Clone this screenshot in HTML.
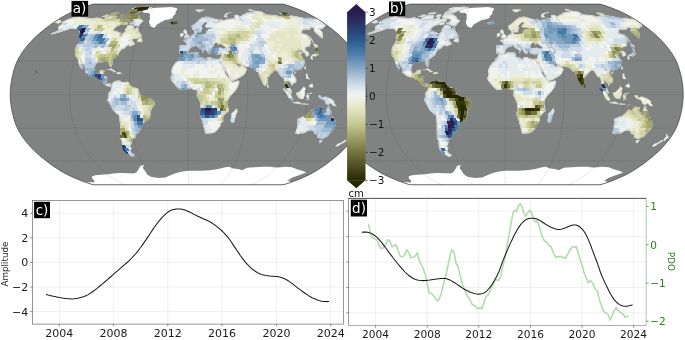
<!DOCTYPE html><html><head><meta charset="utf-8"><title>figure</title><style>html,body{margin:0;padding:0;background:#fff}svg{display:block}</style></head><body><svg width="685" height="340" viewBox="0 0 685 340" font-family="'DejaVu Sans','Liberation Sans',sans-serif">
<defs>
<path id="ol" d="M283.1 184.8L286.4 183.9L290.3 182.6L294.5 181.1L299 179.3L303.7 177.3L308.2 175.2L312.4 173L316.3 170.7L320.1 168.3L323.7 165.9L327.2 163.4L330.6 160.8L333.9 158.2L337.1 155.6L340.1 152.9L342.9 150.3L345.5 147.5L348 144.8L350.3 142L352.5 139.2L354.5 136.5L356.2 133.7L357.9 130.9L359.3 128.1L360.6 125.3L361.6 122.5L362.5 119.7L363.3 116.9L364 114.1L364.7 111.3L365.2 108.5L365.6 105.7L366 102.9L366.2 100.1L366.4 97.3L366.4 94.5L366.4 91.6L366.2 88.8L366 86L365.6 83.2L365.2 80.4L364.7 77.6L364 74.8L363.3 72L362.5 69.2L361.6 66.4L360.6 63.6L359.3 60.8L357.9 58L356.2 55.2L354.5 52.4L352.5 49.7L350.3 46.9L348 44.1L345.5 41.4L342.9 38.6L340.1 36L337.1 33.3L333.9 30.7L330.6 28.1L327.2 25.5L323.7 23L320.1 20.6L316.3 18.2L312.4 15.9L308.2 13.7L303.7 11.6L299 9.6L294.5 7.8L290.3 6.3L286.4 5L283.1 4.1L93.6 4.1L90.3 5L86.4 6.3L82.2 7.8L77.7 9.6L73 11.6L68.5 13.7L64.3 15.9L60.4 18.2L56.6 20.6L53 23L49.5 25.5L46.1 28.1L42.8 30.7L39.6 33.3L36.6 36L33.8 38.6L31.2 41.4L28.7 44.1L26.4 46.9L24.2 49.7L22.2 52.4L20.5 55.2L18.8 58L17.4 60.8L16.1 63.6L15.1 66.4L14.2 69.2L13.4 72L12.7 74.8L12 77.6L11.5 80.4L11.1 83.2L10.7 86L10.5 88.8L10.3 91.6L10.2 94.5L10.3 97.3L10.5 100.1L10.7 102.9L11.1 105.7L11.5 108.5L12 111.3L12.7 114.1L13.4 116.9L14.2 119.7L15.1 122.5L16.1 125.3L17.4 128.1L18.8 130.9L20.5 133.7L22.2 136.5L24.2 139.2L26.4 142L28.7 144.8L31.2 147.5L33.8 150.3L36.6 152.9L39.6 155.6L42.8 158.2L46.1 160.8L49.5 163.4L53 165.9L56.6 168.3L60.4 170.7L64.3 173L68.5 175.2L73 177.3L77.7 179.3L82.2 181.1L86.4 182.6L90.3 183.9L93.6 184.8Z"/>
<path id="land" d="M62.9 22.5L68 19.8L73.2 18.2L78.8 17L82.3 17.8L87.7 18.5L91.2 19.2L97.3 18.2L99.7 18.7L104.7 20.1L109.8 20.1L115.6 20.1L118.5 20.1L122.7 16.9L122.2 19.2L124.3 20.1L127.6 18.7L129.7 18.7L128.8 21.1L124.4 22.1L121.5 24L116.3 26L113 29.1L113.2 31.2L116.6 31.7L118.3 33L120.4 33.3L119.2 36L120.2 37.4L121.5 36.5L123.1 33.8L125.8 31.7L125.6 29.4L127.4 27.6L128.1 25.6L131.2 25.7L133.6 27.1L132.9 29.1L135.5 29.6L137.5 27.8L138.2 31.7L140.5 34.4L141.2 36.5L136.9 38.4L131.8 38.4L128.3 40.8L132.1 39.7L131.9 41.9L134.4 43.6L129.8 45.6L128.9 44.1L125.8 45.6L124.7 47.4L121 49.1L118.8 51.9L117.5 55.2L115.3 56.4L111.8 59.2L111.7 64.2L110.9 66.2L109.8 65.3L109.2 63.1L108.6 60.8L106.7 60.5L103.9 60.6L103.1 61.7L101.7 61.6L98.9 61.4L95.7 63.1L94.5 66.4L93.6 69.8L94.9 73.2L96.2 74.1L98.7 73.6L100.5 71.1L103.1 70.4L103.9 70.9L102.7 74.3L101.5 76.5L104.2 76.7L106.8 77.6L106 82.1L107 84.1L109.5 84.1L112.1 84.7L111.5 86.4L109.1 86.2L106.5 84.9L104 82.7L102.3 79.9L98.6 78.8L95.9 76.3L93.5 76.6L89.8 75.1L85.8 72L86.4 69.8L84.5 65.9L83.1 63.6L81.5 60.8L80 58.9L80.7 62L81.6 65.9L82.3 68.7L80.5 66.4L79.3 63.6L78.9 61.4L78.2 57.9L75.7 55.8L75.5 53L75.5 49.3L76.8 46.3L79.4 42.5L80.1 40.4L82 39.7L79.6 37.6L80.1 34L80.3 31.2L78.8 29.8L77.5 28.3L74.6 28.1L72 27.6L67.9 28.8L64.4 30.1L59.5 31.7L53.5 33.5L51.5 33.8L56.5 32.2L62.4 29.4L58.8 29.4L59 27.6L59.7 26L61.9 25L65.8 24.2L66.7 23.5L63 23.4ZM133.9 15L137 15.5L139.2 17.3L139.8 19.2L142.7 21.1L140.2 23L138.2 25.5L134.6 25L132.4 23.5L129.8 23.5L134.3 21.6L134.8 19.7L132.2 18.2L127.9 18.2L126.2 16.9L127.8 15L131.4 14.9ZM106.7 16.9L111.6 15.5L116.4 15.5L116.5 18.2L112.6 19.5L106.6 19.7L105.2 18.2ZM129.8 12.4L138 12L141.9 10L151.8 7.8L147.6 7.3L138.1 7.9L132.7 8.8L133.3 10.4ZM112.1 84.7L114 82.4L117.6 81L118 82.1L119.5 81L121.4 82.5L125.3 82.7L127.8 82.5L129.2 84.9L132.1 87.7L136 88.3L137.9 89.6L138.9 93.3L138.9 94.5L140.9 95.6L144.3 97.3L148.8 97.8L151.8 100.1L153.8 102.3L153.9 104.5L151.5 107.9L150.1 111.3L149.9 115.2L148.6 119.1L145.3 120.4L142.2 123L141.8 125.8L140.1 129.2L138.2 132.5L135.6 133.4L133.7 132.5L135.5 135.3L135.1 137.6L131.5 138.1L131.7 140.4L129.4 140.4L131.1 142.2L130.3 144.8L129 146.4L130.9 148.1L129.7 150.8L130.6 152.9L134.1 155.4L132.4 156.1L129.2 154.5L126 152.9L123.1 149.2L122.7 145.9L122.5 141.5L120.5 137L120.7 133.7L120.7 129.2L120.6 123.6L120 116.9L119.6 115L117.5 113.5L113.8 110.1L112.1 107.3L109.9 102.9L108.1 100.1L108.7 97.8L109.2 95.6L109.2 93.3L110.7 91.6L111.8 89.4L111.9 86.6L111.5 86.4ZM182.8 54.3L186.5 55L191.1 53.2L197.6 52.8L198.6 55.8L197.9 56.6L199.6 57.7L203 58.3L206.4 60.4L207.2 58L210 57.8L212 58.9L215.8 59.7L218.6 59.4L219.2 60.8L220.4 63.1L222.6 67.6L224.2 70.9L224.7 73.4L227 77.1L230.6 80.4L230.9 81.6L232.7 82.7L238.5 81.2L238.8 82.7L236.7 87.7L233.8 91.6L229.9 95.6L228.4 97.8L226.9 101.2L227.3 105.7L228.1 110.7L224.5 114.1L222.4 116.9L222.6 121.3L220.1 123L219.7 125.8L217.2 129.2L213.7 132.3L208.9 132.9L205.7 132.8L205.3 130.3L204.1 126.4L202.4 119.7L199.9 114.1L201.6 108.5L200.4 101.2L197.3 95.6L197.7 91.1L196.8 89.4L193.8 89.4L192.3 87.4L189.3 87.7L186.4 89.1L183.4 88.6L180.9 89.5L177.5 86.9L175.2 84.4L173.6 82.1L171.9 80.4L171.2 78L172.2 76L172.6 73.2L171.9 70.9L172.9 68.1L174.4 65.3L175.9 63.3L178.8 61.4L179.2 59.2L181.8 56.6ZM179.8 51.1L180.4 48L180.1 46.1L183.9 45.7L186.7 45.9L187.3 43L184.3 40.4L187.1 40.1L187 39.1L189.6 38.4L191.3 37.1L192.3 35.4L195 34.7L195.4 32.8L195 31.2L196.9 30.5L196.6 32.8L198.3 34.1L200 34.4L203.7 33.6L205.7 33.1L205.4 31.2L207.8 30.7L207.1 28.9L210.5 28.4L212.1 28.1L208.1 27.9L205.7 27.8L204.9 26L206.8 23.2L204.8 22.4L201.8 25.5L201.7 27.6L203.2 28.3L201.7 31.2L200.1 32.7L198.9 32.6L197.3 29.3L194.8 30L192.7 29.1L192.2 26L195.9 23.7L199 20.6L201.9 18.4L205.9 17.3L208 17.3L210.4 18.2L213.5 19L218.2 20.3L218.8 21.9L214.2 21.6L212.7 21.4L214.6 23.5L217.2 24L218.4 23L221 21.8L220.3 19.8L222.9 21.1L227.5 19.8L231.5 19.2L235.7 18.9L235.1 16.9L235.3 15.5L238.2 15.8L240.4 19.7L242.8 21.1L239.6 17.3L242.3 16.1L243.5 15L247.1 14.6L246 13.5L252.4 12.6L255 11.4L261.3 12.4L265.4 14.9L262.9 14.8L269 15.3L275.9 15.9L279.7 17.3L281.9 16.9L284.6 15.8L292.4 16.4L302.1 18.2L303.5 18.7L309.5 18.4L311.4 19.2L318.1 19.4L323.7 23L322.9 23.5L324.9 25.5L323 27.1L322.7 28.1L318.7 28.1L318.2 28.3L320 30.4L322.2 33.3L322.1 36.5L322 37.6L317 33.3L314.5 30.7L314.2 27.6L310.4 26.3L310 28.8L306.1 28.8L302.1 28.8L301.4 32.2L300.6 33.6L305.4 34.9L307.7 36.5L310.2 40.3L310 43L309.1 45.8L306.6 46.1L305.3 46.9L304.8 49.1L304.9 50.2L307.9 53L308.7 54.7L306.6 55.8L305.3 53L303.4 51.9L301.9 49.7L299.7 50.8L299 48.8L296.5 50.8L298.2 52.4L301.5 52.7L300.1 54.7L302.5 58.6L304.2 60.8L304 63.1L302.9 66.4L300.5 68.7L298.2 69.5L295 70.6L293.5 70.1L291.5 72.6L294 76.5L295.7 79.9L295.6 81.6L293.2 82.9L291.9 84.7L291.8 83.2L289.1 80.8L287.3 79.5L286.7 81L286.2 84L288 86.8L290.5 90L291.2 92.9L288.7 91.4L287.4 88.3L285.3 85.5L285.4 82.7L283.9 76.5L281.8 76.7L280.4 74.8L277.5 70.4L275.9 69.5L273.6 70.1L272.8 71.5L271 72.6L268.5 76L266.9 77.1L266.9 79.9L266.9 82.9L264.8 85.4L263.2 82.7L261.4 78.8L259.5 74.3L258.9 70.9L256.8 71.1L255.1 69.5L252.9 67L248 66.2L243.6 65.7L242.5 64.2L238.1 63.4L235.8 60.8L234.4 60.8L234.1 62L236.3 64.8L238 67L240.4 67.3L242.4 65.3L242.8 67L245 68.1L246.2 69.4L244.5 73.2L242.1 75.4L239.3 77.1L235.9 78.8L232.5 80.1L230.9 80.2L230.2 77.6L228.3 73.7L226.2 70.6L224.3 67L221.8 63.1L221.5 61.4L221 63.3L219.3 60.8L218.9 59.5L220.8 59.4L221.3 57.5L221.8 54.3L221.7 53.2L219 53.9L216.6 53.6L214.3 53.3L212.7 51.3L212.5 49.7L212 48.9L210.1 48.8L209.3 49.3L210.4 51.9L209.7 53.6L208 52.2L206.6 50L205.9 47.7L203.6 46.3L201.2 43.9L200.4 43.5L199.2 43.8L199.5 45.2L200.9 46.9L202.8 47.7L205.1 49.4L203.8 49.2L203.5 50.8L203.1 51.9L202.8 51.9L203 49.9L201.5 48.9L199.7 47.9L197.8 46.4L197.5 45.4L196.2 44.8L195 45.4L193.7 46.2L191.9 45.8L191.1 47L189.1 48.5L188.1 50.4L187.7 52.1L186.5 53.2L184.2 53.3L183.1 54.1L182.4 53.2L181.5 52.8L180.1 52.9ZM298.3 119.1L297.8 123.6L297.6 128.1L295.9 132.9L298.4 133.7L300.7 132.5L304 132.5L307.1 130.6L310.2 129.9L312.6 129.7L314.4 131.2L314.8 133.4L317.8 131.4L316.4 134L317.9 134.8L317.7 137L320 137.9L322.4 138.1L324.7 136.8L327 136.1L329.8 132.5L333.2 129.2L335 125.8L335.5 122.8L334.2 120.8L333.1 119.1L331.4 116.1L330.7 114.6L330.7 111.3L329.1 110.4L328.6 106.5L327.4 109L326 113.8L324.5 114.1L322.4 112L321.1 111.3L322.5 107.9L321.1 107.9L318.7 107.1L317.1 108.2L315.4 111L313.8 111L311.9 110.1L310.1 112.7L307.6 114.6L306 116.4L301.9 117.6L299.1 118.9Z"/>
<path id="isl" d="M101.6 16.4L107.2 14.2L110.1 15L105.8 17L102.2 17.1ZM128.5 12.4L135.7 13L134.8 14L126.8 14ZM111.6 12.8L120 12.4L118.2 13.9L110.4 13.7ZM120.6 14.8L124.8 14.6L123.8 16.4L118.5 16.9ZM123.3 22.6L128 22.3L127.3 24.5L123.1 25L122.3 24ZM136.6 41.2L139.8 37.6L141.2 37L142.4 40.3L141.8 42.2L139.2 42.1ZM106 69.8L111 68.5L115.5 71.3L116.3 71.8L113 72.2L112.7 70.9L109 69.5L106.5 70ZM115.8 73.9L117.6 72.2L120.3 72.3L121.7 73.6L119.1 74.1ZM236.8 107.9L237.6 111.8L236.1 114.6L234.1 122.2L231.6 123L230.4 120.2L231.4 116.9L231.3 113.5L233.4 112L235.5 109.6ZM58.6 19.4L60.3 20.6L61.9 22.1L58 23.5L55.7 22.8L53 23ZM183.6 38.5L189.5 37.4L189.8 35.7L188.3 34.9L187.1 33.3L186.7 32.2L186.7 30.5L185.1 30.5L185.9 29.5L184.3 29.5L183.5 31.2L184.2 33.3L185.9 33.8L185.8 35L184.6 35.2L184.8 36.5L183.9 36.7L185.4 37.1L184.5 37.6ZM179.9 36.7L183 36.3L183.4 34.4L183.6 33.1L181.8 33L180 34.1L180.4 35.4ZM170.4 22.6L172.1 21.7L176.5 21.6L178.1 22.8L177 23.7L173.8 24.6L171.2 24.1ZM195.2 10L198.2 9.6L204.9 9.4L202.3 10.9L199.4 12.2L197.3 11.6ZM224.3 16.9L226 17.5L228.9 17.6L226.5 15.7L228.2 13.5L232.7 12.2L231 12L226 13.2L224.4 15ZM248.4 10.4L248.8 8.8L254 10.4L251.9 11.2ZM278.2 12.8L283.5 12.8L287.8 13.5L285.6 15L280.7 14ZM306.4 34L309.6 36.5L312 39.2L313.6 42.2L313.5 43L310.3 38.6L308.3 36.5ZM315 48L313.2 43.8L313.9 43.6L318.1 45.4L317.8 47.4L315.2 46.9ZM310.6 57.5L311 56.4L312.2 54.7L314.7 54.1L314.9 52.7L316.2 52.4L316.3 50.2L315.4 48.2L316.5 48.2L318.2 50.2L318.5 52.4L319.3 54.5L318 55.2L316.3 55.7L315.7 56.9L314.5 55.8L312.4 56.4L312.4 57.5L312.7 59.4L311.5 59.4L310.3 57.5ZM304.8 66.2L305.8 66.4L305.5 69.8L304.4 68.7ZM294.8 72L296.3 72.4L295.6 73.9L294.2 73.2ZM267.2 83.5L269.1 86L268.3 87.7L267.4 87.7L267 85.5ZM305.8 73.7L307.4 73.8L307.7 76.5L310.1 79.9L309 79.1L307.1 79L306 78.2L306 76.5ZM308.7 86L310.1 84.7L312 83.5L313.2 86L312.3 87.7L310.8 87.2L308.8 86.6ZM296.2 92.8L298.2 92.4L300.1 90.9L302 88.8L303.8 86.6L305.9 88.6L304.8 90.5L305.1 93.3L304.6 95.6L303.3 98.7L301.5 98.9L298.6 98.1L297.2 96.1L296.2 93.9ZM282.5 88.2L284.7 88.6L287.7 91.6L290.8 94.5L291.7 96.7L293.2 98.4L292.8 100.9L291.6 100.9L289.2 98.9L287.6 96.1L286 92.8L284.3 91.1ZM292.3 102.1L295.5 102L297.9 101.7L301.3 103.1L301.1 104.2L296.8 103.6L293.4 102.9ZM306.5 100.4L307.2 97.8L306.2 97.3L306.6 95L307.6 93.6L310 93.3L312 92.8L311.5 93.9L308.1 94L307.7 95.6L309.8 95.6L308.8 96.7L309.4 99.5L308.5 99.5L308 97.6L307.3 100.4ZM318 95.3L320.9 95.3L321.8 98.1L324.9 96.4L327.8 97.4L331.7 99.3L334 101.2L334.3 103.4L336.5 106.2L333.1 105.7L330.9 103.1L329.3 104.5L327.3 104.8L325.5 103.4L324.7 100.6L322.8 99.5L320.3 98.7L318.9 97.6L317.9 96.1ZM319.8 140L322.9 140.1L321.1 142.6L319.3 143.2L319.1 142ZM349.8 133L350.4 134.8L350.8 136.5L352.8 136.7L350.3 138.5L347.8 140.7L346.7 140.9L347.4 138.7L349.2 137L349.7 133.7ZM345.5 139.8L346 140.9L343.1 143.1L340.6 144.2L338.6 145.9L336.3 146.5L335.1 145.9L338.2 143.7L341.5 142.4ZM301.8 103.6L305.7 103.7L309.1 103.9L308.6 104.5L304.7 104.5L302.2 104.3ZM310 106L313.4 104L313.5 104.3L310.9 106.1Z"/>
<path id="ice" d="M142.1 11L146.9 9.2L152.7 8.1L162 7.5L171 7.1L176.5 8.1L177.3 9.6L175.4 12L175.7 13.7L173.2 15.9L172.8 17.8L169.6 19.2L165.1 20.1L160.8 22.3L157 24.5L154.4 27.9L152.3 27.3L150.4 26L149.4 23.5L149 21.1L150.2 19.2L149.7 17.3L150.1 14.2L147.7 12.8L143.7 12.8L142.9 11.6ZM85.3 182.2L88.3 182.3L91.2 182.3L94.2 182.4L94.4 180.8L91.9 178.1L92 176.5L95.1 175.2L98.1 175L101.1 174.7L104.2 174.5L107.3 174.3L110.2 174L113.3 173.6L116.3 173.3L119.4 173L123 173.1L126.5 173.2L130 173.3L133.6 173.4L136.3 172.5L138.9 168.8L140.2 165.9L144.2 164.7L143.5 166.3L143 168.3L145 170.7L147.1 174.3L151.5 176.9L155.1 177.5L158.6 178L162 177.8L165.4 177.6L169.8 175.6L174.7 173.4L180 171.9L184.1 171.3L188.3 170.7L191.9 170.7L195.5 170.7L199 170.7L202.6 170.7L206.2 170.4L209.8 170.2L213.5 169.7L217.3 169.2L221.3 168.3L225.3 167.3L229.3 166.8L232.3 168.3L235.6 168.8L239 169.2L242 170.2L247.2 167.8L251.1 167.6L254.9 167.3L258.8 167.1L262.7 166.8L266.4 166.8L270.2 166.8L273.5 167.2L276.8 167.6L280.9 167.2L285 166.8L288.5 167.1L291.9 167.3L294.4 168.3L296.9 169.2L299.5 170L302.1 170.7L304.3 171.6L306.3 172.5L298.9 175.2L291.9 177.7L287.6 180.8L289.6 181.5L291.4 182.2L283.1 184.8L93.6 184.8Z"/>
<path id="lakes" d="M213.6 47.7L213.8 45.8L214.7 43.8L215.4 42.5L217.4 43L218.1 44.7L220.7 43.8L222.2 44.9L223.7 45.8L225.8 47.4L225.9 48.2L222.8 48.5L219.9 47.4L217.3 48L214.8 48.3ZM196.9 33.7L198.7 33.9L200.4 34.1L203.7 33.5L204.9 33.8L205.6 32.8L205.4 31.2L206.5 30.5L208 30.9L207.1 29.1L210.6 28.5L212.1 28.1L208 27.7L206.1 28L205.2 27.1L204.8 25.5L207 23.2L206.2 22.3L204.8 22.4L204.2 23.5L202.2 25.2L201.7 27.1L203.1 28.1L202 29.6L201.7 31.2L201.4 32L200.1 32.8L198.9 32.7L197.4 32.2L197 32.8Z"/>
<path id="lko" d="M230 44.1L233.1 42.1L234.9 42.5L235.3 44.1L233.7 44.7L233.9 47.4L236.1 48L237.7 50.2L238.1 53L235.6 53.3L233.6 52.4L233 49.7L231.1 46.9L230.2 44.7ZM36.4 73.2L37.7 72.6L37 71.7L36.4 71L35.2 70.3L36.1 71.4Z"/>
<path id="grat" d="M125.2 184.8L120.4 182.6L114.6 179.3L108.4 175.2L103 170.7L98.1 165.9L93.5 160.8L89.2 155.6L85.3 150.3L81.9 144.8L78.9 139.2L76.4 133.7L74.4 128.1L72.8 122.5L71.7 116.9L70.8 111.3L70.2 105.7L69.8 100.1L69.6 94.5L69.8 88.8L70.2 83.2L70.8 77.6L71.7 72L72.8 66.4L74.4 60.8L76.4 55.2L78.9 49.7L81.9 44.1L85.3 38.6L89.2 33.3L93.5 28.1L98.1 23L103 18.2L108.4 13.7L114.6 9.6L120.4 6.3L125.2 4.1M156.8 184.8L154.4 182.6L151.5 179.3L148.4 175.2L145.7 170.7L143.2 165.9L140.9 160.8L138.8 155.6L136.8 150.3L135.1 144.8L133.6 139.2L132.4 133.7L131.4 128.1L130.6 122.5L130 116.9L129.6 111.3L129.3 105.7L129.1 100.1L129 94.5L129.1 88.8L129.3 83.2L129.6 77.6L130 72L130.6 66.4L131.4 60.8L132.4 55.2L133.6 49.7L135.1 44.1L136.8 38.6L138.8 33.3L140.9 28.1L143.2 23L145.7 18.2L148.4 13.7L151.5 9.6L154.4 6.3L156.8 4.1M188.3 184.8L188.3 182.6L188.3 179.3L188.3 175.2L188.3 170.7L188.3 165.9L188.3 160.8L188.3 155.6L188.3 150.3L188.3 144.8L188.3 139.2L188.3 133.7L188.3 128.1L188.3 122.5L188.3 116.9L188.3 111.3L188.3 105.7L188.3 100.1L188.3 94.5L188.3 88.8L188.3 83.2L188.3 77.6L188.3 72L188.3 66.4L188.3 60.8L188.3 55.2L188.3 49.7L188.3 44.1L188.3 38.6L188.3 33.3L188.3 28.1L188.3 23L188.3 18.2L188.3 13.7L188.3 9.6L188.3 6.3L188.3 4.1M219.9 184.8L222.3 182.6L225.2 179.3L228.3 175.2L231 170.7L233.5 165.9L235.8 160.8L237.9 155.6L239.9 150.3L241.6 144.8L243.1 139.2L244.3 133.7L245.3 128.1L246.1 122.5L246.7 116.9L247.1 111.3L247.4 105.7L247.6 100.1L247.7 94.5L247.6 88.8L247.4 83.2L247.1 77.6L246.7 72L246.1 66.4L245.3 60.8L244.3 55.2L243.1 49.7L241.6 44.1L239.9 38.6L237.9 33.3L235.8 28.1L233.5 23L231 18.2L228.3 13.7L225.2 9.6L222.3 6.3L219.9 4.1M251.5 184.8L256.3 182.6L262.1 179.3L268.3 175.2L273.7 170.7L278.6 165.9L283.2 160.8L287.5 155.6L291.4 150.3L294.8 144.8L297.8 139.2L300.3 133.7L302.3 128.1L303.9 122.5L305 116.9L305.9 111.3L306.5 105.7L306.9 100.1L307.1 94.5L306.9 88.8L306.5 83.2L305.9 77.6L305 72L303.9 66.4L302.3 60.8L300.3 55.2L297.8 49.7L294.8 44.1L291.4 38.6L287.5 33.3L283.2 28.1L278.6 23L273.7 18.2L268.3 13.7L262.1 9.6L256.3 6.3L251.5 4.1M46.1 160.8L330.6 160.8M17.4 128.1L359.3 128.1M10.2 94.5L366.4 94.5M17.4 60.8L359.3 60.8M46.1 28.1L330.6 28.1"/>
<clipPath id="cpo"><use href="#ol"/></clipPath>
<mask id="ml" maskUnits="userSpaceOnUse" x="0" y="0" width="400" height="200"><use href="#land" fill="#fff" stroke="#fff" stroke-width="1.3" stroke-linejoin="round"/><use href="#isl" fill="#fff" stroke="#fff" stroke-width="0.3"/></mask>
</defs>
<g id="map-b" transform="translate(316.75,0)">
<use href="#ol" fill="#818382"/>
<g clip-path="url(#cpo)">
<use href="#ice" fill="#fff"/>
<use href="#grat" fill="none" stroke="#3a3a3a" stroke-width="0.4" stroke-dasharray="1 0.7" opacity="0.5"/>
<use href="#land" fill="#f0f1e6" stroke="#f0f1e6" stroke-width="1.3" stroke-linejoin="round"/><use href="#isl" fill="#f0f1e6"/>
<g mask="url(#ml)" shape-rendering="crispEdges">
<path fill="#e4ebef" d="M128.1 157.8L132.5 157.8L131.1 154.5L126.6 154.5ZM120.4 144.8L124.2 144.8L123.1 141.4L119.2 141.4ZM131.4 144.8L135.2 144.8L134.3 141.4L130.4 141.4ZM340.6 144.8L344.3 144.8L347.1 141.4L343.2 141.4ZM118.7 141.5L125.9 141.5L125 138.1L117.6 138.1ZM203.5 134.8L210.4 134.8L210.6 131.4L203.7 131.4ZM301.5 134.8L304.9 134.8L306.3 131.4L302.8 131.4ZM301.1 131.5L304.5 131.5L305.7 128L302.3 128ZM307.7 131.5L311.2 131.5L312.4 128L309 128ZM118.3 128.1L121.6 128.1L121.1 124.6L117.7 124.6ZM294.1 128.1L310.5 128.1L311.6 124.6L295.1 124.6ZM118 124.7L124.5 124.7L124.1 121.3L117.6 121.3ZM300.1 124.7L309.8 124.7L310.6 121.3L300.9 121.3ZM117.9 121.4L124.3 121.4L123.9 117.9L117.5 117.9ZM127.3 121.4L130.5 121.4L130.2 117.9L126.9 117.9ZM139.8 121.4L143 121.4L142.8 117.9L139.5 117.9ZM296.3 121.4L308.9 121.4L309.5 117.9L296.9 117.9ZM118.8 118L128.1 118L127.8 114.6L118.4 114.6ZM301.1 118L304.3 118L304.9 114.6L301.7 114.6ZM113.5 114.7L116.7 114.7L116.3 111.2L113.2 111.2ZM119.6 114.7L122.8 114.7L122.5 111.2L119.3 111.2ZM134.9 114.7L138 114.7L137.8 111.2L134.6 111.2ZM235.6 114.7L238.8 114.7L239 111.2L235.8 111.2ZM111.4 111.3L114.6 111.3L114.3 107.8L111.2 107.8ZM232 111.3L238.1 111.3L238.3 107.8L232.2 107.8ZM110.3 107.9L113.4 107.9L113.2 104.5L110.1 104.5ZM128.3 107.9L131.4 107.9L131.3 104.5L128.2 104.5ZM212.3 107.9L215.4 107.9L215.5 104.5L212.4 104.5ZM227.3 107.9L230.4 107.9L230.5 104.5L227.4 104.5ZM106.3 104.6L112.4 104.6L112.2 101.1L106.1 101.1ZM130.2 104.6L133.2 104.6L133.1 101.1L130 101.1ZM111.2 97.9L114.2 97.9L114.2 94.4L111.1 94.4ZM218 97.9L221 97.9L221.1 94.4L218 94.4ZM223.9 97.9L227 97.9L227 94.4L223.9 94.4ZM203.1 94.5L206.2 94.5L206.2 91L203.1 91ZM215 94.5L218.1 94.5L218.1 91L215 91ZM182.4 91.1L185.4 91.1L185.4 87.7L182.4 87.7ZM215 91.1L218.1 91.1L218 87.7L215 87.7ZM237.6 87.8L240.7 87.8L240.6 84.3L237.5 84.3ZM291.4 87.8L294.5 87.8L294.3 84.3L291.2 84.3ZM170.3 84.4L173.4 84.4L173.4 81L170.3 81ZM186.8 81.1L189.9 81.1L189.9 77.6L186.8 77.6ZM232.2 81.1L235.3 81.1L235.1 77.6L232 77.6ZM168.4 77.7L171.5 77.7L171.6 74.2L168.5 74.2ZM186.8 77.7L189.9 77.7L189.9 74.2L186.8 74.2ZM229.7 77.7L245.1 77.7L244.9 74.2L229.5 74.2ZM183.6 74.3L190 74.3L189.9 70.9L183.7 70.9ZM193 74.3L208.6 74.3L208.5 70.9L192.9 70.9ZM211.6 74.3L214.8 74.3L214.7 70.9L211.5 70.9ZM217.8 74.3L221 74.3L220.9 70.9L217.7 70.9ZM224 74.3L227.2 74.3L227 70.9L223.8 70.9ZM230.2 74.3L239.7 74.3L239.4 70.9L230 70.9ZM276.8 74.3L286.3 74.3L285.8 70.9L276.4 70.9ZM180.4 71L202.6 71L202.5 67.5L180.5 67.5ZM205.6 71L221.4 71L221.3 67.5L205.5 67.5ZM224.5 71L243.5 71L243.2 67.5L224.3 67.5ZM265.4 71L268.6 71L268.2 67.5L265 67.5ZM278 71L287.5 71L287 67.5L277.5 67.5ZM172.2 67.6L182 67.6L182 64.2L172.3 64.2ZM185.1 67.6L188.4 67.6L188.4 64.2L185.1 64.2ZM191.5 67.6L201.3 67.6L201.2 64.2L191.5 64.2ZM207.6 67.6L210.9 67.6L210.8 64.2L207.5 64.2ZM214 67.6L220.6 67.6L220.3 64.2L213.8 64.2ZM226.9 67.6L233.4 67.6L233.1 64.2L226.6 64.2ZM236.5 67.6L243.1 67.6L242.7 64.2L236.2 64.2ZM304.1 67.6L307.4 67.6L306.6 64.2L303.3 64.2ZM75 64.3L78.4 64.3L79.3 60.8L75.9 60.8ZM173.5 64.3L186.8 64.3L186.8 60.8L173.6 60.8ZM189.9 64.3L216.3 64.3L216.1 60.8L189.9 60.8ZM226.1 64.3L229.5 64.3L229.1 60.8L225.8 60.8ZM262.2 64.3L268.9 64.3L268.2 60.8L261.6 60.8ZM278.6 64.3L288.6 64.3L287.7 60.8L277.9 60.8ZM84.4 60.9L87.8 60.9L88.9 57.4L85.4 57.4ZM181.6 60.9L201.8 60.9L201.7 57.4L181.7 57.4ZM205.1 60.9L208.5 60.9L208.3 57.4L204.9 57.4ZM211.8 60.9L218.6 60.9L218.3 57.4L211.5 57.4ZM238.6 60.9L242 60.9L241.5 57.4L238.1 57.4ZM252 60.9L255.4 60.9L254.8 57.4L251.3 57.4ZM265.4 60.9L272.2 60.9L271.3 57.4L264.6 57.4ZM278.8 60.9L282.3 60.9L281.3 57.4L277.9 57.4ZM309 60.9L315.8 60.9L314.5 57.4L307.7 57.4ZM84 57.5L91 57.5L92.1 54.1L85.3 54.1ZM179.8 57.5L186.7 57.5L186.7 54.1L179.9 54.1ZM190 57.5L200.4 57.5L200.2 54.1L190 54.1ZM217.4 57.5L220.9 57.5L220.5 54.1L217 54.1ZM237.9 57.5L244.8 57.5L244.1 54.1L237.3 54.1ZM255 57.5L258.5 57.5L257.6 54.1L254.2 54.1ZM265.2 57.5L285.8 57.5L284.7 54.1L264.3 54.1ZM309.7 57.5L313.2 57.5L311.7 54.1L308.2 54.1ZM88 54.2L91.6 54.2L92.9 50.7L89.3 50.7ZM116.1 54.2L119.8 54.2L120.7 50.7L117.1 50.7ZM183 54.2L193.7 54.2L193.6 50.7L183.1 50.7ZM204.1 54.2L207.8 54.2L207.5 50.7L203.9 50.7ZM239.3 54.2L246.5 54.2L245.7 50.7L238.7 50.7ZM253.4 54.2L257 54.2L256.1 50.7L252.5 50.7ZM264 54.2L288.7 54.2L287.4 50.7L263 50.7ZM179.2 50.8L186.6 50.8L186.6 47.4L179.4 47.4ZM201 50.8L204.7 50.8L204.5 47.4L200.8 47.4ZM226.4 50.8L237.3 50.8L236.6 47.4L225.8 47.4ZM266.2 50.8L270 50.8L268.7 47.4L265 47.4ZM273.5 50.8L291.7 50.8L290.1 47.4L272.2 47.4ZM89.4 47.5L93.2 47.5L94.8 44.1L91.1 44.1ZM119.2 47.5L123.1 47.5L124.2 44.1L120.4 44.1ZM130.4 47.5L134.3 47.5L135.2 44.1L131.4 44.1ZM182.7 47.5L186.5 47.5L186.6 44.1L182.8 44.1ZM197.6 47.5L201.5 47.5L201.2 44.1L197.5 44.1ZM205.1 47.5L208.9 47.5L208.6 44.1L204.8 44.1ZM223.8 47.5L231.3 47.5L230.6 44.1L223.2 44.1ZM264.8 47.5L272.4 47.5L271 44.1L263.5 44.1ZM276 47.5L283.6 47.5L282 44.1L274.5 44.1ZM287.2 47.5L291.1 47.5L289.3 44.1L285.5 44.1ZM309.6 47.5L313.5 47.5L311.3 44.1L307.6 44.1ZM86.4 44.2L90.3 44.2L92.1 40.8L88.3 40.8ZM128.7 44.2L144.2 44.2L145 40.8L129.8 40.8ZM182.5 44.2L198 44.2L197.8 40.8L182.6 40.8ZM209.5 44.2L213.4 44.2L212.9 40.8L209.1 40.8ZM267.1 44.2L271.1 44.2L269.6 40.8L265.7 40.8ZM290.2 44.2L298 44.2L296 40.8L288.3 40.8ZM91.9 40.9L100 40.9L101.8 37.5L93.9 37.5ZM120 40.9L132.2 40.9L133.3 37.5L121.4 37.5ZM136.1 40.9L140.2 40.9L141.2 37.5L137.1 37.5ZM264.6 40.9L268.7 40.9L267.1 37.5L263.1 37.5ZM288.7 40.9L292.8 40.9L290.7 37.5L286.7 37.5ZM312.8 40.9L316.9 40.9L314.3 37.5L310.3 37.5ZM97.9 37.6L102.2 37.6L104.2 34.3L100 34.3ZM106.3 37.6L110.6 37.6L112.4 34.3L108.2 34.3ZM123.1 37.6L127.4 37.6L128.8 34.3L124.6 34.3ZM131.5 37.6L135.8 37.6L137 34.3L132.8 34.3ZM291.3 37.6L312.4 37.6L309.6 34.3L288.9 34.3ZM56 34.4L60.5 34.4L63.7 31.1L59.3 31.1ZM100.1 34.4L104.6 34.4L106.7 31.1L102.3 31.1ZM117.7 34.4L126.7 34.4L128.2 31.1L119.5 31.1ZM289.7 34.4L307.5 34.4L304.5 31.1L287.2 31.1ZM56 31.2L65.4 31.2L68.7 28L59.6 28ZM70 31.2L79.3 31.2L82.3 28L73.2 28ZM102.4 31.2L116.5 31.2L118.4 28L104.8 28ZM121 31.2L125.8 31.2L127.4 28L122.8 28ZM264.9 31.2L269.6 31.2L267.4 28L262.8 28ZM292.7 31.2L311.4 31.2L308.1 28L289.9 28ZM56.1 28.1L61.1 28.1L64.8 25L59.9 25ZM71 28.1L76.1 28.1L79.4 25L74.4 25ZM106 28.1L136 28.1L137.5 25L108.3 25ZM215.7 28.1L220.8 28.1L219.9 25L215 25ZM260.7 28.1L265.8 28.1L263.5 25L258.6 25ZM305.6 28.1L310.7 28.1L307.1 25L302.2 25ZM50.2 25.1L60.9 25.1L64.8 22L54.4 22ZM71.4 25.1L82.2 25.1L85.4 22L75 22ZM98 25.1L103.4 25.1L106 22L100.8 22ZM108.6 25.1L119.3 25.1L121.5 22L111.1 22ZM124.6 25.1L140.6 25.1L142.1 22L126.5 22ZM214.9 25.1L220.3 25.1L219.3 22L214 22ZM246.7 25.1L262.8 25.1L260.5 22L244.9 22ZM283.9 25.1L289.3 25.1L286.2 22L281 22ZM305.2 25.1L310.6 25.1L306.8 22L301.6 22ZM95.2 22.1L130.2 22.1L132.1 19.1L98.2 19.1ZM211.6 22.1L217.5 22.1L216.5 19.1L210.8 19.1ZM234.9 22.1L240.8 22.1L239.1 19.1L233.3 19.1ZM281.4 22.1L287.4 22.1L284.1 19.1L278.4 19.1ZM71.8 19.2L91.3 19.2L94.7 16.3L75.9 16.3ZM97.7 19.2L117.2 19.2L119.7 16.3L100.9 16.3ZM227.1 19.2L233.7 19.2L232.1 16.3L225.8 16.3ZM107.5 16.4L122.3 16.4L124.9 13.7L110.7 13.7ZM111.2 13.8L119.9 13.8L123 11.1L114.8 11.1ZM128.4 13.8L137 13.8L139.4 11.1L131.1 11.1ZM222.6 13.8L231.2 13.8L229.3 11.1L221 11.1ZM136.3 11.2L146.8 11.2L148.8 8.8L138.8 8.8ZM250.7 11.2L261.2 11.2L257.6 8.8L247.7 8.8ZM242.7 8.9L256.4 8.9L253.1 6.8L240.1 6.8Z"/>
<path fill="#f1f3ee" d="M132.4 157.8L136.8 157.8L135.5 154.5L131 154.5ZM128.7 154.6L132.9 154.6L131.6 151.3L127.3 151.3ZM129.3 151.4L133.3 151.4L132.2 148L128 148ZM126 148.1L133.7 148.1L132.6 144.7L124.8 144.7ZM333.6 148.1L341.3 148.1L344.2 144.7L336.4 144.7ZM124.1 144.8L131.5 144.8L130.5 141.4L123 141.4ZM314.9 144.8L322.3 144.8L324.7 141.4L317.1 141.4ZM333.2 144.8L340.7 144.8L343.3 141.4L335.8 141.4ZM315 141.5L322.2 141.5L324.3 138.1L317 138.1ZM343.6 141.5L350.8 141.5L353.4 138.1L346 138.1ZM346.3 138.2L353.4 138.2L355.6 134.7L348.5 134.7ZM345.4 134.8L352.2 134.8L354.2 131.4L347.3 131.4ZM118.6 131.5L122 131.5L121.4 128L117.9 128ZM204.9 131.5L208.3 131.5L208.5 128L205.1 128ZM304.4 131.5L307.8 131.5L309.1 128L305.6 128ZM121.5 128.1L124.9 128.1L124.3 124.6L121 124.6ZM310.4 128.1L313.8 128.1L314.9 124.6L311.5 124.6ZM309.7 124.7L316.1 124.7L317 121.3L310.5 121.3ZM124.2 121.4L127.4 121.4L127 117.9L123.8 117.9ZM308.8 121.4L312 121.4L312.7 117.9L309.4 117.9ZM223.4 114.7L226.6 114.7L226.7 111.2L223.6 111.2ZM129.5 111.3L132.6 111.3L132.4 107.8L129.3 107.8ZM131.3 107.9L134.4 107.9L134.3 104.5L131.2 104.5ZM200.3 107.9L203.4 107.9L203.4 104.5L200.3 104.5ZM332.3 107.9L335.4 107.9L335.7 104.5L332.6 104.5ZM204.7 104.6L207.8 104.6L207.8 101.1L204.7 101.1ZM303.1 104.6L306.2 104.6L306.4 101.1L303.3 101.1ZM329.9 104.6L333 104.6L333.3 101.1L330.2 101.1ZM223.9 101.2L229.9 101.2L229.9 97.8L223.9 97.8ZM324.6 101.2L327.6 101.2L327.8 97.8L324.8 97.8ZM212 97.9L218.1 97.9L218.1 94.4L212 94.4ZM226.9 97.9L232.9 97.9L232.9 94.4L226.9 94.4ZM197.2 94.5L203.2 94.5L203.2 91L197.2 91ZM226.9 94.5L235.9 94.5L235.9 91L226.9 91ZM286.3 94.5L289.3 94.5L289.3 91L286.2 91ZM114.1 91.1L120.2 91.1L120.3 87.7L114.2 87.7ZM176.4 91.1L182.5 91.1L182.5 87.7L176.4 87.7ZM218 91.1L221 91.1L221 87.7L217.9 87.7ZM226.9 91.1L238.8 91.1L238.8 87.7L226.8 87.7ZM265.4 91.1L268.5 91.1L268.4 87.7L265.3 87.7ZM201.7 87.8L204.8 87.8L204.8 84.3L201.7 84.3ZM228.6 87.8L237.7 87.8L237.6 84.3L228.6 84.3ZM309.3 87.8L315.4 87.8L315.1 84.3L309.1 84.3ZM173.3 84.4L176.4 84.4L176.4 81L173.3 81ZM230.4 84.4L239.5 84.4L239.4 81L230.3 81ZM284.5 84.4L287.6 84.4L287.4 81L284.3 81ZM308.6 84.4L311.7 84.4L311.4 81L308.3 81ZM168.6 81.1L174.8 81.1L174.8 77.6L168.7 77.6ZM229.1 81.1L232.3 81.1L232.1 77.6L229 77.6ZM235.2 81.1L238.3 81.1L238.1 77.6L235 77.6ZM304.8 81.1L310.9 81.1L310.5 77.6L304.3 77.6ZM88.6 77.7L91.8 77.7L92.2 74.2L89.1 74.2ZM171.4 77.7L180.7 77.7L180.8 74.2L171.5 74.2ZM183.7 77.7L186.9 77.7L186.9 74.2L183.7 74.2ZM189.8 77.7L193 77.7L193 74.2L189.8 74.2ZM208.2 77.7L211.4 77.7L211.3 74.2L208.1 74.2ZM214.4 77.7L229.8 77.7L229.6 74.2L214.2 74.2ZM278.8 77.7L281.9 77.7L281.5 74.2L278.3 74.2ZM303.3 77.7L309.5 77.7L309 74.2L302.8 74.2ZM87.3 74.3L93.7 74.3L94.1 70.9L87.8 70.9ZM112.2 74.3L115.4 74.3L115.8 70.9L112.6 70.9ZM171.2 74.3L183.7 74.3L183.8 70.9L171.3 70.9ZM189.9 74.3L193.1 74.3L193 70.9L189.8 70.9ZM208.5 74.3L211.7 74.3L211.6 70.9L208.4 70.9ZM214.7 74.3L217.9 74.3L217.8 70.9L214.6 70.9ZM220.9 74.3L224.1 74.3L223.9 70.9L220.8 70.9ZM227.1 74.3L230.3 74.3L230.1 70.9L226.9 70.9ZM239.6 74.3L245.9 74.3L245.6 70.9L239.3 70.9ZM267.5 74.3L273.8 74.3L273.4 70.9L267.1 70.9ZM286.2 74.3L289.4 74.3L288.9 70.9L285.7 70.9ZM295.5 74.3L298.7 74.3L298.1 70.9L294.9 70.9ZM304.8 74.3L308 74.3L307.4 70.9L304.2 70.9ZM104.9 71L114.5 71L114.9 67.5L105.4 67.5ZM171 71L180.5 71L180.6 67.5L171.1 67.5ZM202.5 71L205.7 71L205.6 67.5L202.4 67.5ZM221.3 71L224.6 71L224.4 67.5L221.2 67.5ZM243.4 71L246.6 71L246.3 67.5L243.1 67.5ZM268.5 71L271.8 71L271.3 67.5L268.1 67.5ZM303.1 71L306.4 71L305.7 67.5L302.5 67.5ZM201.2 67.6L207.7 67.6L207.6 64.2L201.1 64.2ZM210.8 67.6L214.1 67.6L213.9 64.2L210.7 64.2ZM220.5 67.6L227 67.6L226.7 64.2L220.2 64.2ZM275.1 67.6L278.4 67.6L277.8 64.2L274.5 64.2ZM78.3 64.3L81.6 64.3L82.6 60.8L79.2 60.8ZM216.2 64.3L219.6 64.3L219.3 60.8L216 60.8ZM239.2 64.3L245.9 64.3L245.4 60.8L238.8 60.8ZM268.8 64.3L278.7 64.3L278 60.8L268.1 60.8ZM208.4 60.9L211.9 60.9L211.6 57.4L208.2 57.4ZM218.5 60.9L221.9 60.9L221.6 57.4L218.2 57.4ZM241.9 60.9L252.1 60.9L251.4 57.4L241.4 57.4ZM272.1 60.9L278.9 60.9L278 57.4L271.2 57.4ZM282.2 60.9L289 60.9L287.9 57.4L281.2 57.4ZM292.2 60.9L295.7 60.9L294.6 57.4L291.2 57.4ZM186.6 57.5L190.1 57.5L190.1 54.1L186.6 54.1ZM220.8 57.5L224.3 57.5L223.9 54.1L220.4 54.1ZM306.2 57.5L309.8 57.5L308.3 54.1L304.8 54.1ZM84.5 54.2L88.1 54.2L89.4 50.7L85.9 50.7ZM256.9 54.2L260.6 54.2L259.6 50.7L256 50.7ZM288.6 54.2L292.2 54.2L290.8 50.7L287.3 50.7ZM85 50.8L92.3 50.8L93.8 47.4L86.6 47.4ZM121.2 50.8L125 50.8L125.9 47.4L122.3 47.4ZM269.9 50.8L273.6 50.8L272.3 47.4L268.6 47.4ZM291.6 50.8L295.3 50.8L293.7 47.4L290 47.4ZM85.6 47.5L89.5 47.5L91.2 44.1L87.4 44.1ZM126.7 47.5L130.5 47.5L131.5 44.1L127.8 44.1ZM272.3 47.5L276.1 47.5L274.6 44.1L270.9 44.1ZM283.5 47.5L287.3 47.5L285.6 44.1L281.9 44.1ZM291 47.5L294.8 47.5L293 44.1L289.2 44.1ZM305.9 47.5L309.7 47.5L307.7 44.1L303.9 44.1ZM121 44.2L128.8 44.2L129.9 40.8L122.2 40.8ZM197.9 44.2L209.6 44.2L209.2 40.8L197.7 40.8ZM286.4 44.2L290.3 44.2L288.4 40.8L284.6 40.8ZM87.9 40.9L92 40.9L94 37.5L89.9 37.5ZM180.3 40.9L200.5 40.9L200.2 37.5L180.4 37.5ZM292.7 40.9L296.9 40.9L294.6 37.5L290.6 37.5ZM93.7 37.6L98 37.6L100.1 34.3L95.9 34.3ZM177.8 37.6L194.7 37.6L194.6 34.3L178 34.3ZM47.2 34.4L56.1 34.4L59.4 31.1L50.7 31.1ZM95.7 34.4L100.2 34.4L102.4 31.1L98 31.1ZM179.5 34.4L188.4 34.4L188.4 31.1L179.7 31.1ZM97.8 31.2L102.5 31.2L104.9 28L100.3 28ZM186 31.2L190.7 31.2L190.7 28L186 28ZM218.5 31.2L223.2 31.2L222.3 28L217.6 28ZM288.1 31.2L292.8 31.2L290 28L285.4 28ZM76 28.1L86.1 28.1L89.1 25L79.3 25ZM96 28.1L101.1 28.1L103.6 25L98.6 25ZM265.7 28.1L270.7 28.1L268.4 25L263.4 25ZM285.6 28.1L290.7 28.1L287.7 25L282.8 25ZM310.6 28.1L315.7 28.1L312 25L307 25ZM82.1 25.1L98.1 25.1L100.9 22L85.3 22ZM119.2 25.1L124.7 25.1L126.6 22L121.4 22ZM262.7 25.1L273.4 25.1L270.8 22L260.4 22ZM310.5 25.1L321.2 25.1L317.1 22L306.7 22ZM77.7 22.1L95.3 22.1L98.3 19.1L81.3 19.1ZM130.1 22.1L141.8 22.1L143.4 19.1L132 19.1ZM240.7 22.1L264.1 22.1L261.6 19.1L239 19.1ZM269.8 22.1L281.5 22.1L278.5 19.1L267.1 19.1ZM91.2 19.2L97.8 19.2L101 16.3L94.6 16.3ZM117.1 19.2L123.7 19.2L126 16.3L119.6 16.3ZM130 19.2L143.1 19.2L144.7 16.3L132.1 16.3ZM220.7 19.2L227.2 19.2L225.9 16.3L219.5 16.3ZM233.6 19.2L240.2 19.2L238.4 16.3L232 16.3ZM266 19.2L279 19.2L275.8 16.3L263.2 16.3ZM122.2 16.4L137 16.4L139 13.7L124.8 13.7ZM225 16.4L239.8 16.4L237.8 13.7L223.6 13.7ZM247.1 16.4L276.6 16.4L273 13.7L244.7 13.7ZM283.8 16.4L291.2 16.4L287.1 13.7L280 13.7ZM119.8 13.8L128.5 13.8L131.2 11.1L122.9 11.1ZM196.9 13.8L205.5 13.8L204.7 11.1L196.5 11.1ZM231.1 13.8L239.8 13.8L237.4 11.1L229.2 11.1ZM248.2 13.8L265.5 13.8L261.9 11.1L245.5 11.1ZM188.3 11.2L198.8 11.2L198.3 8.8L188.3 8.8ZM133.9 8.9L147.6 8.9L149.6 6.8L136.5 6.8ZM130.8 6.9L153.9 6.9L155.5 5.2L133.4 5.2Z"/>
<path fill="#7098bb" d="M124.6 154.6L128.8 154.6L127.4 151.3L123.1 151.3ZM140.4 124.7L143.7 124.7L143.4 121.3L140.1 121.3ZM130.4 121.4L133.6 121.4L133.3 117.9L130.1 117.9ZM123.1 101.2L126.2 101.2L126.1 97.8L123 97.8ZM286.2 91.1L289.3 91.1L289.1 87.7L286.1 87.7ZM91.4 64.3L94.8 64.3L95.6 60.8L92.2 60.8ZM101.2 64.3L104.6 64.3L105.4 60.8L102 60.8ZM101.1 60.9L104.6 60.9L105.5 57.4L102 57.4ZM258.7 60.9L262.2 60.9L261.4 57.4L258 57.4ZM94.3 57.5L97.8 57.5L98.9 54.1L95.4 54.1ZM101.1 57.5L104.6 57.5L105.6 54.1L102.2 54.1ZM95 54.2L105.7 54.2L106.8 50.7L96.3 50.7ZM225.3 54.2L228.9 54.2L228.3 50.7L224.8 50.7ZM106.7 50.8L110.5 50.8L111.7 47.4L108 47.4ZM104.3 47.5L108.1 47.5L109.5 44.1L105.7 44.1ZM117.1 44.2L121.1 44.2L122.3 40.8L118.5 40.8ZM247.9 44.2L255.7 44.2L254.5 40.8L246.8 40.8ZM244.5 40.9L256.7 40.9L255.3 37.5L243.4 37.5ZM260.6 40.9L264.7 40.9L263.2 37.5L259.1 37.5ZM228.2 37.6L232.5 37.6L231.5 34.3L227.3 34.3ZM240.9 37.6L245.2 37.6L243.9 34.3L239.7 34.3ZM249.3 37.6L257.8 37.6L256.2 34.3L247.9 34.3ZM232.4 34.4L236.9 34.4L235.7 31.1L231.3 31.1ZM232.4 31.2L241.8 31.2L240.3 28L231.2 28ZM230.7 28.1L235.8 28.1L234.4 25L229.5 25Z"/>
<path fill="#b8ccdd" d="M121.4 151.4L125.4 151.4L124.1 148L120 148ZM129.4 141.5L133.1 141.5L132.2 138.1L128.5 138.1ZM120.6 138.2L124.2 138.2L123.3 134.7L119.7 134.7ZM125.8 134.8L129.3 134.8L128.6 131.4L125.1 131.4ZM294.7 134.8L301.6 134.8L302.9 131.4L296 131.4ZM125.3 131.5L128.7 131.5L128.1 128L124.6 128ZM294.5 131.5L301.2 131.5L302.4 128L295.6 128ZM124.8 128.1L128.2 128.1L127.6 124.6L124.2 124.6ZM127.6 124.7L130.9 124.7L130.5 121.3L127.2 121.3ZM229.8 124.7L236.3 124.7L236.6 121.3L230.1 121.3ZM227.4 121.4L236.9 121.4L237.2 117.9L227.6 117.9ZM128 118L131.2 118L130.9 114.6L127.7 114.6ZM233.1 118L236.3 118L236.6 114.6L233.3 114.6ZM122.7 114.7L125.8 114.7L125.5 111.2L122.4 111.2ZM131.8 114.7L135 114.7L134.7 111.2L131.6 111.2ZM123.5 111.3L129.6 111.3L129.4 107.8L123.3 107.8ZM116.3 107.9L119.4 107.9L119.2 104.5L116.1 104.5ZM122.3 107.9L125.4 107.9L125.3 104.5L122.1 104.5ZM115.2 104.6L118.3 104.6L118.2 101.1L115.1 101.1ZM114.2 101.2L117.3 101.2L117.2 97.8L114.1 97.8ZM200.2 91.1L206.2 91.1L206.2 87.7L200.2 87.7ZM209.1 91.1L212.1 91.1L212.1 87.7L209 87.7ZM79.7 71L89.3 71L89.8 67.5L80.3 67.5ZM287.4 71L290.7 71L290.1 67.5L286.9 67.5ZM79 67.6L82.3 67.6L83 64.2L79.7 64.2ZM88.6 67.6L91.9 67.6L92.6 64.2L89.3 64.2ZM107.9 67.6L114.4 67.6L114.9 64.2L108.5 64.2ZM262.3 67.6L265.6 67.6L265 64.2L261.8 64.2ZM284.8 67.6L288.1 67.6L287.4 64.2L284.1 64.2ZM291.2 67.6L294.5 67.6L293.8 64.2L290.5 64.2ZM84.8 64.3L91.5 64.3L92.3 60.8L85.7 60.8ZM107.8 64.3L114.5 64.3L115.1 60.8L108.5 60.8ZM229.4 64.3L232.7 64.3L232.4 60.8L229 60.8ZM107.8 60.9L114.6 60.9L115.4 57.4L108.7 57.4ZM302.3 60.9L305.7 60.9L304.5 57.4L301.1 57.4ZM224.2 57.5L227.7 57.5L227.2 54.1L223.8 54.1ZM261.8 57.5L265.3 57.5L264.4 54.1L260.9 54.1ZM316.5 57.5L320 57.5L318.4 54.1L315 54.1ZM91.5 54.2L95.1 54.2L96.4 50.7L92.8 50.7ZM112.6 54.2L116.2 54.2L117.2 50.7L113.6 50.7ZM200.6 54.2L204.2 54.2L204 50.7L200.5 50.7ZM211.2 54.2L214.8 54.2L214.4 50.7L210.9 50.7ZM232.3 54.2L235.9 54.2L235.3 50.7L231.7 50.7ZM313.3 54.2L316.9 54.2L315.2 50.7L311.6 50.7ZM92.2 50.8L96 50.8L97.4 47.4L93.7 47.4ZM208.2 50.8L215.6 50.8L215.2 47.4L207.9 47.4ZM244.5 50.8L251.8 50.8L250.9 47.4L243.6 47.4ZM313.4 50.8L317.1 50.8L315.1 47.4L311.4 47.4ZM93.1 47.5L96.9 47.5L98.5 44.1L94.7 44.1ZM238.7 47.5L242.5 47.5L241.6 44.1L237.8 44.1ZM253.6 47.5L264.9 47.5L263.6 44.1L252.5 44.1ZM313.4 47.5L320.9 47.5L318.7 44.1L311.2 44.1ZM97.9 44.2L101.9 44.2L103.5 40.8L99.6 40.8ZM224.8 44.2L232.6 44.2L231.8 40.8L224.2 40.8ZM309.5 44.2L313.4 44.2L311.1 40.8L307.2 40.8ZM103.9 40.9L108.1 40.9L109.7 37.5L105.7 37.5ZM114.7 37.6L119 37.6L120.6 34.3L116.4 34.3ZM261.9 37.6L266.2 37.6L264.4 34.3L260.2 34.3ZM108.9 34.4L113.4 34.4L115.3 31.1L110.9 31.1ZM223.6 34.4L228.1 34.4L227.1 31.1L222.7 31.1ZM258.9 34.4L263.4 34.4L261.5 31.1L257.1 31.1ZM134.9 31.2L139.7 31.2L141 28L136.4 28ZM223.1 31.2L227.8 31.2L226.8 28L222.2 28ZM260.2 31.2L265 31.2L262.9 28L258.3 28ZM255.7 28.1L260.8 28.1L258.7 25L253.7 25ZM295.6 28.1L300.7 28.1L297.4 25L292.5 25ZM241.4 25.1L246.8 25.1L245 22L239.8 22ZM223.2 22.1L229.1 22.1L227.8 19.1L222.1 19.1ZM291.9 19.2L304.9 19.2L300.8 16.3L288.2 16.3ZM291.1 16.4L298.6 16.4L294.2 13.7L287 13.7Z"/>
<path fill="#396999" d="M125.3 151.4L129.4 151.4L128.1 148L124 148ZM128.6 131.5L132 131.5L131.4 128L128 128ZM136.7 121.4L139.9 121.4L139.6 117.9L136.4 117.9ZM283.3 94.5L286.4 94.5L286.3 91L283.2 91ZM97.8 60.9L101.2 60.9L102.1 57.4L98.7 57.4ZM108 40.9L112.1 40.9L113.6 37.5L109.6 37.5ZM116 40.9L120.1 40.9L121.5 37.5L117.5 37.5Z"/>
<path fill="#ecedd9" d="M122.2 148.1L126.1 148.1L124.9 144.7L121 144.7ZM340 141.5L343.7 141.5L346.1 138.1L342.4 138.1ZM311.6 134.8L315.1 134.8L316.6 131.4L313.1 131.4ZM201.6 131.5L205 131.5L205.2 128L201.7 128ZM208.2 131.5L211.6 131.5L211.9 128L208.4 128ZM311.1 131.5L314.5 131.5L315.8 128L312.3 128ZM317.7 131.5L321.1 131.5L322.5 128L319 128ZM313.7 128.1L320.3 128.1L321.4 124.6L314.8 124.6ZM201.1 124.7L207.6 124.7L207.7 121.3L201.2 121.3ZM316 124.7L322.5 124.7L323.5 121.3L316.9 121.3ZM202.4 121.4L205.6 121.4L205.7 117.9L202.5 117.9ZM208.6 121.4L211.9 121.4L212 117.9L208.8 117.9ZM218 121.4L224.4 121.4L224.6 117.9L218.2 117.9ZM311.9 121.4L315.1 121.4L315.8 117.9L312.6 117.9ZM304.2 118L307.4 118L308 114.6L304.8 114.6ZM132.5 111.3L135.7 111.3L135.5 107.8L132.3 107.8ZM325.4 111.3L331.6 111.3L332.1 107.8L325.9 107.8ZM206.3 107.9L209.4 107.9L209.4 104.5L206.3 104.5ZM302.3 107.9L305.4 107.9L305.7 104.5L302.6 104.5ZM326.3 107.9L332.4 107.9L332.7 104.5L326.6 104.5ZM335.3 107.9L338.4 107.9L338.8 104.5L335.6 104.5ZM198.7 104.6L204.8 104.6L204.8 101.1L198.8 101.1ZM207.7 104.6L216.7 104.6L216.8 101.1L207.7 101.1ZM291.2 104.6L303.2 104.6L303.4 101.1L291.4 101.1ZM306.1 104.6L309.2 104.6L309.4 101.1L306.3 101.1ZM324 104.6L330 104.6L330.3 101.1L324.2 101.1ZM332.9 104.6L336 104.6L336.3 101.1L333.2 101.1ZM197.2 101.2L200.3 101.2L200.3 97.8L197.2 97.8ZM206.1 101.2L209.1 101.2L209.2 97.8L206.1 97.8ZM212 101.2L215.1 101.2L215.1 97.8L212 97.8ZM289 101.2L295.1 101.2L295.2 97.8L289.2 97.8ZM297.9 101.2L301 101.2L301.1 97.8L298.1 97.8ZM303.8 101.2L312.8 101.2L313 97.8L304 97.8ZM318.7 101.2L324.7 101.2L324.9 97.8L318.8 97.8ZM327.5 101.2L336.5 101.2L336.7 97.8L327.7 97.8ZM203.1 97.9L212.1 97.9L212.1 94.4L203.1 94.4ZM286.2 97.9L289.3 97.9L289.3 94.4L286.3 94.4ZM292.1 97.9L295.2 97.9L295.3 94.4L292.2 94.4ZM304 97.9L313 97.9L313.1 94.4L304.1 94.4ZM315.9 97.9L318.9 97.9L319 94.4L315.9 94.4ZM321.8 97.9L327.8 97.9L327.9 94.4L321.9 94.4ZM108.2 94.5L114.2 94.5L114.2 91L108.2 91ZM194.2 94.5L197.3 94.5L197.3 91L194.2 91ZM295.2 94.5L301.2 94.5L301.1 91L295.1 91ZM307 94.5L310.1 94.5L310 91L307 91ZM111.2 91.1L114.2 91.1L114.3 87.7L111.3 87.7ZM220.9 91.1L227 91.1L226.9 87.7L220.9 87.7ZM301 91.1L304.1 91.1L303.9 87.7L300.9 87.7ZM309.9 91.1L313 91.1L312.8 87.7L309.8 87.7ZM174.9 87.8L183.9 87.8L183.9 84.3L174.9 84.3ZM213.7 87.8L216.8 87.8L216.7 84.3L213.6 84.3ZM225.6 87.8L228.7 87.8L228.7 84.3L225.6 84.3ZM303.3 87.8L309.4 87.8L309.2 84.3L303.1 84.3ZM176.3 84.4L182.4 84.4L182.4 81L176.3 81ZM227.4 84.4L230.5 84.4L230.4 81L227.3 81ZM287.5 84.4L290.6 84.4L290.4 81L287.3 81ZM311.6 84.4L314.7 84.4L314.4 81L311.3 81ZM174.7 81.1L177.8 81.1L177.9 77.6L174.7 77.6ZM180.7 81.1L186.9 81.1L186.9 77.6L180.8 77.6ZM189.8 81.1L192.9 81.1L192.9 77.6L189.8 77.6ZM226.1 81.1L229.2 81.1L229.1 77.6L226 77.6ZM91.7 77.7L94.9 77.7L95.3 74.2L92.1 74.2ZM180.6 77.7L183.8 77.7L183.8 74.2L180.7 74.2ZM192.9 77.7L208.3 77.7L208.2 74.2L192.9 74.2ZM211.3 77.7L214.5 77.7L214.3 74.2L211.2 74.2ZM269.6 77.7L272.7 77.7L272.3 74.2L269.2 74.2ZM281.8 77.7L285 77.7L284.6 74.2L281.4 74.2ZM93.6 74.3L96.8 74.3L97.2 70.9L94 70.9ZM115.3 74.3L118.5 74.3L118.9 70.9L115.7 70.9ZM262.2 71L265.5 71L265.1 67.5L261.8 67.5ZM271.7 71L278.1 71L277.6 67.5L271.2 67.5ZM243 67.6L246.3 67.6L245.9 64.2L242.6 64.2ZM259 67.6L262.4 67.6L261.9 64.2L258.6 64.2ZM268.7 67.6L275.2 67.6L274.6 64.2L268.1 64.2ZM219.5 64.3L226.2 64.3L225.9 60.8L219.2 60.8ZM245.8 64.3L249.2 64.3L248.6 60.8L245.3 60.8ZM252.4 64.3L262.3 64.3L261.7 60.8L251.8 60.8ZM81 60.9L84.5 60.9L85.5 57.4L82.1 57.4ZM221.8 60.9L225.3 60.9L224.9 57.4L221.5 57.4ZM288.9 60.9L292.3 60.9L291.3 57.4L287.8 57.4ZM80.6 57.5L84.1 57.5L85.4 54.1L81.9 54.1ZM285.7 57.5L292.7 57.5L291.4 54.1L284.6 54.1ZM306.2 54.2L309.8 54.2L308.2 50.7L304.6 50.7ZM81.4 50.8L85.1 50.8L86.7 47.4L83 47.4ZM78.2 47.5L85.7 47.5L87.5 44.1L80.1 44.1ZM123 47.5L126.8 47.5L127.9 44.1L124.1 44.1ZM74.8 44.2L78.8 44.2L80.8 40.8L76.9 40.8ZM213.3 44.2L217.2 44.2L216.7 40.8L212.8 40.8ZM221 44.2L224.9 44.2L224.3 40.8L220.4 40.8ZM271 44.2L278.8 44.2L277.1 40.8L269.5 40.8ZM282.5 44.2L286.5 44.2L284.7 40.8L280.8 40.8ZM200.4 40.9L204.5 40.9L204.1 37.5L200.1 37.5ZM85.3 37.6L93.8 37.6L96 34.3L87.7 34.3ZM194.6 37.6L198.9 37.6L198.7 34.3L194.5 34.3ZM266.1 37.6L270.4 37.6L268.5 34.3L264.3 34.3ZM287.1 37.6L291.4 37.6L289 34.3L284.8 34.3ZM91.3 34.4L95.8 34.4L98.1 31.1L93.7 31.1ZM192.7 34.4L197.2 34.4L197 31.1L192.6 31.1ZM83.9 31.2L97.9 31.2L100.4 28L86.7 28ZM181.3 31.2L186.1 31.2L186.1 28L181.5 28ZM190.6 31.2L200 31.2L199.7 28L190.6 28ZM269.5 31.2L274.3 31.2L271.9 28L267.3 28ZM86 28.1L91.1 28.1L93.9 25L89 25ZM190.8 28.1L195.9 28.1L195.7 25L190.7 25ZM200.8 28.1L205.9 28.1L205.4 25L200.4 25ZM270.6 28.1L275.7 28.1L273.2 25L268.3 25ZM320.5 28.1L325.6 28.1L321.7 25L316.7 25ZM193.6 25.1L204.3 25.1L203.8 22L193.4 22ZM209.5 25.1L215 25.1L214.1 22L208.9 22ZM273.3 25.1L284 25.1L281.1 22L270.7 22ZM321.1 25.1L326.5 25.1L322.3 22L317 22ZM199.9 22.1L211.7 22.1L210.9 19.1L199.6 19.1ZM264 22.1L269.9 22.1L267.2 19.1L261.5 19.1ZM310.5 22.1L322.3 22.1L317.9 19.1L306.5 19.1ZM123.6 19.2L130.1 19.2L132.2 16.3L125.9 16.3ZM207.7 19.2L214.3 19.2L213.4 16.3L207 16.3ZM240.1 19.2L266.1 19.2L263.3 16.3L238.3 16.3ZM278.9 19.2L285.5 19.2L282.1 16.3L275.7 16.3ZM311.3 19.2L317.9 19.2L313.3 16.3L306.9 16.3ZM198.7 11.2L209.2 11.2L208.2 8.8L198.2 8.8Z"/>
<path fill="#cfdce7" d="M125.8 141.5L129.5 141.5L128.6 138.1L124.9 138.1ZM119.1 134.8L125.9 134.8L125.2 131.4L118.2 131.4ZM121.9 131.5L125.4 131.5L124.7 128L121.3 128ZM124.4 124.7L127.7 124.7L127.3 121.3L124 121.3ZM296.9 124.7L300.2 124.7L301 121.3L297.6 121.3ZM137.3 118L140.5 118L140.2 114.6L137 114.6ZM230 118L233.2 118L233.4 114.6L230.2 114.6ZM116.6 114.7L119.7 114.7L119.4 111.2L116.2 111.2ZM125.7 114.7L128.9 114.7L128.6 111.2L125.4 111.2ZM226.5 114.7L235.7 114.7L235.9 111.2L226.6 111.2ZM114.5 111.3L123.6 111.3L123.4 107.8L114.2 107.8ZM226 111.3L229.1 111.3L229.2 107.8L226.1 107.8ZM113.3 107.9L116.4 107.9L116.2 104.5L113.1 104.5ZM119.3 107.9L122.4 107.9L122.2 104.5L119.1 104.5ZM203.3 107.9L206.4 107.9L206.4 104.5L203.3 104.5ZM112.3 104.6L115.3 104.6L115.2 101.1L112.1 101.1ZM105.3 101.2L114.3 101.2L114.2 97.8L105.2 97.8ZM108.2 97.9L111.3 97.9L111.2 94.4L108.2 94.4ZM114.1 97.9L117.2 97.9L117.2 94.4L114.1 94.4ZM123 97.9L126.1 97.9L126.1 94.4L123 94.4ZM220.9 97.9L224 97.9L224 94.4L221 94.4ZM114.1 94.5L117.2 94.5L117.2 91L114.1 91ZM206.1 94.5L215.1 94.5L215.1 91L206.1 91ZM218 94.5L221.1 94.5L221 91L218 91ZM223.9 94.5L227 94.5L227 91L223.9 91ZM197.2 91.1L200.3 91.1L200.3 87.7L197.2 87.7ZM212 91.1L215.1 91.1L215.1 87.7L212 87.7ZM289.2 91.1L292.2 91.1L292.1 87.7L289 87.7ZM198.8 87.8L201.8 87.8L201.8 84.3L198.7 84.3ZM84.2 74.3L87.4 74.3L87.9 70.9L84.8 70.9ZM89.2 71L95.6 71L96.1 67.5L89.7 67.5ZM290.6 71L293.8 71L293.2 67.5L290 67.5ZM82.2 67.6L88.7 67.6L89.4 64.2L82.9 64.2ZM91.8 67.6L95.1 67.6L95.8 64.2L92.5 64.2ZM181.9 67.6L185.2 67.6L185.2 64.2L181.9 64.2ZM188.3 67.6L191.6 67.6L191.6 64.2L188.3 64.2ZM233.3 67.6L236.6 67.6L236.3 64.2L233 64.2ZM265.5 67.6L268.8 67.6L268.2 64.2L264.9 64.2ZM278.3 67.6L284.9 67.6L284.2 64.2L277.7 64.2ZM288 67.6L291.3 67.6L290.6 64.2L287.3 64.2ZM81.5 64.3L84.9 64.3L85.8 60.8L82.5 60.8ZM186.7 64.3L190 64.3L190 60.8L186.7 60.8ZM288.5 64.3L291.9 64.3L291 60.8L287.6 60.8ZM87.7 60.9L91.2 60.9L92.2 57.4L88.8 57.4ZM178.2 60.9L181.7 60.9L181.8 57.4L178.3 57.4ZM201.7 60.9L205.2 60.9L205 57.4L201.6 57.4ZM295.6 60.9L302.4 60.9L301.2 57.4L294.5 57.4ZM90.9 57.5L94.4 57.5L95.5 54.1L92 54.1ZM111.4 57.5L118.3 57.5L119.2 54.1L112.3 54.1ZM244.7 57.5L255.1 57.5L254.3 54.1L244 54.1ZM313.1 57.5L316.6 57.5L315.1 54.1L311.6 54.1ZM179.5 54.2L183.1 54.2L183.2 50.7L179.6 50.7ZM193.6 54.2L200.7 54.2L200.6 50.7L193.5 50.7ZM207.7 54.2L211.3 54.2L211 50.7L207.4 50.7ZM214.7 54.2L225.4 54.2L224.9 50.7L214.3 50.7ZM235.8 54.2L239.4 54.2L238.8 50.7L235.2 50.7ZM246.4 54.2L253.5 54.2L252.6 50.7L245.6 50.7ZM260.5 54.2L264.1 54.2L263.1 50.7L259.5 50.7ZM117.6 50.8L121.3 50.8L122.4 47.4L118.7 47.4ZM186.5 50.8L190.2 50.8L190.2 47.4L186.5 47.4ZM197.4 50.8L201.1 50.8L200.9 47.4L197.2 47.4ZM204.6 50.8L208.3 50.8L208 47.4L204.4 47.4ZM215.5 50.8L226.5 50.8L225.9 47.4L215.1 47.4ZM237.2 50.8L244.6 50.8L243.7 47.4L236.5 47.4ZM251.7 50.8L266.3 50.8L265.1 47.4L250.8 47.4ZM317 50.8L320.7 50.8L318.7 47.4L315 47.4ZM179 47.5L182.8 47.5L182.9 44.1L179.1 44.1ZM186.4 47.5L197.7 47.5L197.6 44.1L186.5 44.1ZM201.4 47.5L205.2 47.5L204.9 44.1L201.1 44.1ZM208.8 47.5L223.9 47.5L223.3 44.1L208.5 44.1ZM231.2 47.5L238.8 47.5L237.9 44.1L230.5 44.1ZM90.2 44.2L98 44.2L99.7 40.8L92 40.8ZM263.3 44.2L267.2 44.2L265.8 40.8L261.9 40.8ZM297.9 44.2L309.6 44.2L307.3 40.8L295.9 40.8ZM313.3 44.2L317.2 44.2L314.9 40.8L311 40.8ZM99.9 40.9L104 40.9L105.8 37.5L101.7 37.5ZM132.1 40.9L136.2 40.9L137.2 37.5L133.2 37.5ZM140.1 40.9L144.2 40.9L145.1 37.5L141.1 37.5ZM224.5 40.9L228.6 40.9L227.8 37.5L223.7 37.5ZM296.8 40.9L312.9 40.9L310.4 37.5L294.5 37.5ZM102.1 37.6L106.4 37.6L108.3 34.3L104.1 34.3ZM118.9 37.6L123.2 37.6L124.7 34.3L120.5 34.3ZM127.3 37.6L131.6 37.6L132.9 34.3L128.7 34.3ZM135.7 37.6L144.3 37.6L145.3 34.3L136.9 34.3ZM224 37.6L228.3 37.6L227.4 34.3L223.2 34.3ZM104.5 34.4L109 34.4L111 31.1L106.6 31.1ZM113.3 34.4L117.8 34.4L119.6 31.1L115.2 31.1ZM126.6 34.4L139.9 34.4L141.1 31.1L128.1 31.1ZM263.3 34.4L267.8 34.4L265.8 31.1L261.4 31.1ZM65.3 31.2L70.1 31.2L73.3 28L68.6 28ZM125.7 31.2L135 31.2L136.5 28L127.3 28ZM61 28.1L71.1 28.1L74.5 25L64.7 25ZM101 28.1L106.1 28.1L108.4 25L103.5 25ZM135.9 28.1L141 28.1L142.4 25L137.4 25ZM220.7 28.1L225.8 28.1L224.7 25L219.8 25ZM290.6 28.1L295.7 28.1L292.6 25L287.6 25ZM300.6 28.1L305.7 28.1L302.3 25L297.3 25ZM60.8 25.1L71.5 25.1L75.1 22L64.7 22ZM103.3 25.1L108.7 25.1L111.2 22L105.9 22ZM220.2 25.1L225.6 25.1L224.4 22L219.2 22ZM289.2 25.1L294.6 25.1L291.4 22L286.1 22ZM299.9 25.1L305.3 25.1L301.7 22L296.4 22ZM54.4 22.1L77.8 22.1L81.4 19.1L58.8 19.1ZM217.4 22.1L223.3 22.1L222.2 19.1L216.4 19.1ZM287.3 22.1L310.6 22.1L306.6 19.1L284 19.1ZM65.3 19.2L71.9 19.2L76 16.3L69.7 16.3ZM285.4 19.2L292 19.2L288.3 16.3L282 16.3ZM304.8 19.2L311.4 19.2L307 16.3L300.7 16.3ZM100.1 16.4L107.6 16.4L110.8 13.7L103.7 13.7ZM125.9 11.2L136.4 11.2L138.9 8.8L128.9 8.8Z"/>
<path fill="#9fbad2" d="M124.1 138.2L127.6 138.2L126.8 134.7L123.2 134.7ZM125.3 107.9L128.4 107.9L128.3 104.5L125.2 104.5ZM118.2 104.6L124.3 104.6L124.2 101.1L118.1 101.1ZM127.2 104.6L130.3 104.6L130.1 101.1L127.1 101.1ZM117.2 101.2L120.3 101.2L120.2 97.8L117.1 97.8ZM126.1 101.2L129.1 101.2L129.1 97.8L126 97.8ZM117.1 97.9L123.1 97.9L123.1 94.4L117.1 94.4ZM117.1 94.5L120.1 94.5L120.2 91L117.1 91ZM206.1 91.1L209.2 91.1L209.1 87.7L206.1 87.7ZM293.7 71L300.1 71L299.5 67.5L293.1 67.5ZM294.4 67.6L297.7 67.6L297 64.2L293.7 64.2ZM300.9 67.6L304.2 67.6L303.4 64.2L300.1 64.2ZM235.9 64.3L239.3 64.3L238.9 60.8L235.5 60.8ZM291.8 64.3L298.4 64.3L297.5 60.8L290.9 60.8ZM104.5 60.9L107.9 60.9L108.8 57.4L105.4 57.4ZM225.2 60.9L228.6 60.9L228.2 57.4L224.8 57.4ZM235.2 60.9L238.7 60.9L238.2 57.4L234.7 57.4ZM255.3 60.9L258.8 60.9L258.1 57.4L254.7 57.4ZM104.5 57.5L111.5 57.5L112.4 54.1L105.5 54.1ZM234.4 57.5L238 57.5L237.4 54.1L233.9 54.1ZM258.4 57.5L261.9 57.5L261 54.1L257.5 54.1ZM109.1 54.2L112.7 54.2L113.7 50.7L110.2 50.7ZM316.8 54.2L320.4 54.2L318.6 50.7L315.1 50.7ZM99.5 50.8L103.2 50.8L104.5 47.4L100.9 47.4ZM96.8 47.5L104.4 47.5L105.8 44.1L98.4 44.1ZM242.4 47.5L253.7 47.5L252.6 44.1L241.5 44.1ZM101.8 44.2L105.7 44.2L107.2 40.8L103.4 40.8ZM232.5 44.2L240.3 44.2L239.4 40.8L231.7 40.8ZM228.5 40.9L232.6 40.9L231.7 37.5L227.7 37.5ZM110.5 37.6L114.8 37.6L116.5 34.3L112.3 34.3ZM254.5 34.4L259 34.4L257.2 31.1L252.8 31.1ZM255.6 31.2L260.3 31.2L258.4 28L253.8 28ZM225.7 28.1L230.8 28.1L229.6 25L224.6 25ZM250.7 28.1L255.8 28.1L253.8 25L248.9 25ZM167.1 25.1L172.5 25.1L173 22L167.7 22ZM225.5 25.1L230.9 25.1L229.6 22L224.3 22ZM236.1 25.1L241.5 25.1L239.9 22L234.6 22ZM294.5 25.1L300 25.1L296.5 22L291.3 22ZM229 22.1L235 22.1L233.4 19.1L227.7 19.1Z"/>
<path fill="#86a8c6" d="M127.5 138.2L131.1 138.2L130.3 134.7L126.7 134.7ZM128.8 114.7L131.9 114.7L131.7 111.2L128.5 111.2ZM124.2 104.6L127.3 104.6L127.2 101.1L124.1 101.1ZM120.2 101.2L123.2 101.2L123.1 97.8L120.1 97.8ZM221 94.5L224 94.5L224 91L220.9 91ZM300 71L303.2 71L302.6 67.5L299.4 67.5ZM297.6 67.6L301 67.6L300.2 64.2L296.9 64.2ZM232.6 64.3L236 64.3L235.6 60.8L232.3 60.8ZM298.3 64.3L305 64.3L304 60.8L297.4 60.8ZM91.1 60.9L94.5 60.9L95.5 57.4L92.1 57.4ZM262.1 60.9L265.5 60.9L264.7 57.4L261.3 57.4ZM105.6 54.2L109.2 54.2L110.3 50.7L106.7 50.7ZM95.9 50.8L99.6 50.8L101 47.4L97.3 47.4ZM103.1 50.8L106.8 50.8L108.1 47.4L104.4 47.4ZM114 50.8L117.7 50.8L118.8 47.4L115.1 47.4ZM240.2 44.2L248 44.2L246.9 40.8L239.3 40.8ZM259.5 44.2L263.4 44.2L262 40.8L258.1 40.8ZM232.5 40.9L244.6 40.9L243.5 37.5L231.6 37.5ZM232.4 37.6L241 37.6L239.8 34.3L231.4 34.3ZM228 34.4L232.5 34.4L231.4 31.1L227 31.1ZM236.8 34.4L241.3 34.4L240 31.1L235.6 31.1ZM250 34.4L254.6 34.4L252.9 31.1L248.5 31.1ZM227.7 31.2L232.5 31.2L231.3 28L226.7 28ZM250.9 31.2L255.7 31.2L253.9 28L249.3 28ZM170.8 28.1L175.9 28.1L176.3 25L171.3 25ZM235.7 28.1L250.8 28.1L249 25L234.3 25ZM172.4 25.1L177.8 25.1L178.1 22L172.9 22ZM230.8 25.1L236.2 25.1L234.7 22L229.5 22ZM170.8 22.1L176.8 22.1L177.1 19.1L171.4 19.1Z"/>
<path fill="#2b5a8d" d="M131 138.2L134.6 138.2L133.8 134.7L130.2 134.7ZM135.2 131.5L138.6 131.5L138.1 128L134.7 128ZM98 64.3L101.3 64.3L102.1 60.8L98.7 60.8Z"/>
<path fill="#4778a4" d="M134.5 138.2L138 138.2L137.4 134.7L133.7 134.7ZM138.5 131.5L142 131.5L141.5 128L138 128ZM137.8 128.1L141.2 128.1L140.8 124.6L137.4 124.6ZM134.2 118L137.4 118L137.1 114.6L133.9 114.6ZM94.4 60.9L97.9 60.9L98.8 57.4L95.4 57.4ZM227.6 57.5L231.1 57.5L230.6 54.1L227.1 54.1ZM228.8 54.2L232.4 54.2L231.8 50.7L228.2 50.7ZM110.4 50.8L114.1 50.8L115.2 47.4L111.6 47.4ZM115.5 47.5L119.3 47.5L120.5 44.1L116.7 44.1ZM256.6 40.9L260.7 40.9L259.2 37.5L255.2 37.5ZM257.7 37.6L262 37.6L260.3 34.3L256.1 34.3ZM241.2 34.4L250.1 34.4L248.6 31.1L239.9 31.1ZM246.3 31.2L251 31.2L249.4 28L244.7 28Z"/>
<path fill="#e4e6c7" d="M315.1 138.2L322.1 138.2L323.9 134.7L316.8 134.7ZM210.3 134.8L213.7 134.8L214 131.4L210.5 131.4ZM315 134.8L321.8 134.8L323.4 131.4L316.5 131.4ZM314.4 131.5L317.8 131.5L319.1 128L315.7 128ZM203 128.1L209.6 128.1L209.8 124.6L203.1 124.6ZM320.2 128.1L323.6 128.1L324.7 124.6L321.3 124.6ZM207.5 124.7L210.8 124.7L210.9 121.3L207.6 121.3ZM199.3 121.4L202.5 121.4L202.6 117.9L199.3 117.9ZM205.5 121.4L208.7 121.4L208.9 117.9L205.6 117.9ZM211.8 121.4L215 121.4L215.1 117.9L211.9 117.9ZM315 121.4L318.3 121.4L319 117.9L315.7 117.9ZM307.3 118L313.6 118L314.2 114.6L307.9 114.6ZM135.6 111.3L138.7 111.3L138.5 107.8L135.4 107.8ZM134.3 107.9L137.4 107.9L137.3 104.5L134.2 104.5ZM209.3 107.9L212.4 107.9L212.5 104.5L209.3 104.5ZM320.3 107.9L323.4 107.9L323.7 104.5L320.6 104.5ZM309.1 104.6L312.1 104.6L312.4 101.1L309.3 101.1ZM129 101.2L132.1 101.2L132 97.8L129 97.8ZM200.2 101.2L206.2 101.2L206.2 97.8L200.2 97.8ZM209 101.2L212.1 101.2L212.1 97.8L209.1 97.8ZM286.1 101.2L289.1 101.2L289.3 97.8L286.2 97.8ZM300.9 101.2L303.9 101.2L304.1 97.8L301 97.8ZM194.2 97.9L203.2 97.9L203.2 94.4L194.2 94.4ZM289.2 97.9L292.2 97.9L292.3 94.4L289.2 94.4ZM295.1 97.9L304.1 97.9L304.2 94.4L295.2 94.4ZM318.8 97.9L321.9 97.9L322 94.4L318.9 94.4ZM327.7 97.9L330.8 97.9L330.9 94.4L327.8 94.4ZM120 94.5L123.1 94.5L123.1 91L120.1 91ZM289.2 94.5L292.3 94.5L292.2 91L289.2 91ZM301.1 94.5L307.1 94.5L307.1 91L301 91ZM310 94.5L313.1 94.5L313 91L309.9 91ZM194.2 91.1L197.3 91.1L197.3 87.7L194.2 87.7ZM298.1 91.1L301.1 91.1L301 87.7L297.9 87.7ZM304 91.1L307.1 91.1L306.9 87.7L303.8 87.7ZM204.7 87.8L207.8 87.8L207.8 84.3L204.7 84.3ZM216.7 87.8L219.8 87.8L219.7 84.3L216.6 84.3ZM300.3 87.8L303.4 87.8L303.2 84.3L300.1 84.3ZM224.4 84.4L227.5 84.4L227.4 81L224.3 81ZM177.7 81.1L180.8 81.1L180.9 77.6L177.8 77.6ZM192.8 81.1L208.1 81.1L208 77.6L192.8 77.6ZM214 81.1L220.2 81.1L220 77.6L213.9 77.6ZM223.1 81.1L226.2 81.1L226.1 77.6L223 77.6ZM283.6 81.1L286.7 81.1L286.4 77.6L283.2 77.6ZM116.2 77.7L119.4 77.7L119.7 74.2L116.6 74.2ZM96.7 74.3L99.9 74.3L100.3 70.9L97.1 70.9ZM118.4 74.3L124.7 74.3L125 70.9L118.8 70.9ZM289.3 74.3L292.5 74.3L291.9 70.9L288.8 70.9ZM98.6 71L105 71L105.5 67.5L99.1 67.5ZM77.7 60.9L81.1 60.9L82.2 57.4L78.8 57.4ZM80.9 54.2L84.6 54.2L86 50.7L82.4 50.7ZM74.1 50.8L81.5 50.8L83.1 47.4L75.9 47.4ZM74.4 47.5L78.3 47.5L80.2 44.1L76.4 44.1ZM278.7 44.2L282.6 44.2L280.9 40.8L277 40.8ZM75.8 40.9L79.9 40.9L82.2 37.5L78.1 37.5ZM268.6 40.9L272.8 40.9L271 37.5L267 37.5ZM284.7 40.9L288.8 40.9L286.8 37.5L282.7 37.5ZM198.8 37.6L203.1 37.6L202.8 34.3L198.6 34.3ZM86.9 34.4L91.4 34.4L93.8 31.1L89.4 31.1ZM197.1 34.4L201.6 34.4L201.3 31.1L196.9 31.1ZM267.7 34.4L272.2 34.4L270.1 31.1L265.7 31.1ZM283.4 31.2L288.2 31.2L285.5 28L280.9 28ZM91 28.1L96.1 28.1L98.7 25L93.8 25ZM195.8 28.1L200.9 28.1L200.5 25L195.6 25ZM205.8 28.1L215.8 28.1L215.1 25L205.3 25ZM275.6 28.1L285.7 28.1L282.9 25L273.1 25ZM315.6 28.1L320.6 28.1L316.8 25L311.9 25ZM325.5 28.1L330.6 28.1L326.5 25L321.6 25ZM204.2 25.1L209.6 25.1L209 22L203.7 22ZM194.1 22.1L200 22.1L199.7 19.1L193.9 19.1ZM201.2 19.2L207.8 19.2L207.1 16.3L200.8 16.3ZM239.7 16.4L247.2 16.4L244.8 13.7L237.7 13.7Z"/>
<path fill="#dbddb5" d="M322 138.2L329 138.2L331 134.7L323.8 134.7ZM214.8 131.5L218.3 131.5L218.6 128L215.1 128ZM321 131.5L327.7 131.5L329.2 128L322.4 128ZM322.4 124.7L325.7 124.7L326.7 121.3L323.4 121.3ZM214.9 121.4L218.1 121.4L218.3 117.9L215 117.9ZM318.2 121.4L321.4 121.4L322.1 117.9L318.9 117.9ZM313.5 118L316.7 118L317.3 114.6L314.1 114.6ZM305.8 114.7L312 114.7L312.6 111.2L306.4 111.2ZM316.4 111.3L319.5 111.3L320 107.8L316.9 107.8ZM215.3 107.9L218.4 107.9L218.5 104.5L215.4 104.5ZM305.3 107.9L311.4 107.9L311.7 104.5L305.6 104.5ZM133.1 104.6L136.2 104.6L136.1 101.1L133 101.1ZM312 104.6L315.1 104.6L315.4 101.1L312.3 101.1ZM215 101.2L218 101.2L218.1 97.8L215 97.8ZM220.9 101.2L224 101.2L224 97.8L220.9 97.8ZM108.2 91.1L111.3 91.1L111.4 87.7L108.3 87.7ZM195.8 87.8L198.9 87.8L198.8 84.3L195.8 84.3ZM210.7 87.8L213.8 87.8L213.7 84.3L210.7 84.3ZM197.3 84.4L206.4 84.4L206.4 81L197.3 81ZM212.4 84.4L215.5 84.4L215.4 81L212.3 81ZM293.5 84.4L296.7 84.4L296.4 81L293.3 81ZM208 81.1L214.1 81.1L214 77.6L207.9 77.6ZM220.1 81.1L223.2 81.1L223.1 77.6L219.9 77.6ZM286.6 81.1L289.7 81.1L289.4 77.6L286.3 77.6ZM292.7 81.1L298.8 81.1L298.4 77.6L292.3 77.6ZM266.5 77.7L269.7 77.7L269.3 74.2L266.1 74.2ZM284.9 77.7L291.1 77.7L290.7 74.2L284.5 74.2ZM294.1 77.7L297.3 77.7L296.8 74.2L293.6 74.2ZM99.8 74.3L103 74.3L103.4 70.9L100.2 70.9ZM292.4 74.3L295.6 74.3L295 70.9L291.8 70.9ZM246.5 71L249.8 71L249.4 67.5L246.2 67.5ZM252.8 71L256 71L255.7 67.5L252.4 67.5ZM246.2 67.6L249.5 67.6L249.1 64.2L245.8 64.2ZM255.8 67.6L259.1 67.6L258.7 64.2L255.4 64.2ZM249.1 64.3L252.5 64.3L251.9 60.8L248.5 60.8ZM74.3 60.9L77.8 60.9L78.9 57.4L75.5 57.4ZM77.2 57.5L80.7 57.5L82 54.1L78.5 54.1ZM73.9 54.2L77.5 54.2L79 50.7L75.4 50.7ZM294.7 47.5L298.5 47.5L296.6 44.1L292.9 44.1ZM302.2 47.5L306 47.5L304 44.1L300.2 44.1ZM82.5 44.2L86.5 44.2L88.4 40.8L84.5 40.8ZM83.9 40.9L88 40.9L90 37.5L86 37.5ZM204.4 40.9L212.5 40.9L212 37.5L204 37.5ZM272.7 40.9L280.8 40.9L278.9 37.5L270.9 37.5ZM203 37.6L207.3 37.6L206.9 34.3L202.7 34.3ZM270.3 37.6L274.6 37.6L272.6 34.3L268.4 34.3ZM201.5 34.4L206 34.4L205.6 31.1L201.2 31.1ZM285.3 34.4L289.8 34.4L287.3 31.1L282.9 31.1ZM199.9 31.2L204.6 31.2L204.2 28L199.6 28ZM274.2 31.2L283.5 31.2L281 28L271.8 28Z"/>
<path fill="#2c1a4c" d="M129.2 134.8L132.7 134.8L132 131.4L128.5 131.4ZM131.3 128.1L134.7 128.1L134.2 124.6L130.8 124.6ZM134 124.7L137.3 124.7L136.9 121.3L133.6 121.3ZM109.5 44.2L113.4 44.2L114.8 40.8L110.9 40.8ZM112 40.9L116.1 40.9L117.6 37.5L113.5 37.5Z"/>
<path fill="#293f73" d="M132.6 134.8L136 134.8L135.4 131.4L131.9 131.4Z"/>
<path fill="#5987b0" d="M135.9 134.8L139.4 134.8L138.8 131.4L135.3 131.4ZM128.1 128.1L131.4 128.1L130.9 124.6L127.5 124.6ZM141.1 128.1L144.4 128.1L144.1 124.6L140.7 124.6ZM131.1 118L134.3 118L134 114.6L130.8 114.6ZM94.7 64.3L98.1 64.3L98.8 60.8L95.5 60.8ZM228.5 60.9L235.3 60.9L234.8 57.4L228.1 57.4ZM97.7 57.5L101.2 57.5L102.3 54.1L98.8 54.1ZM231 57.5L234.5 57.5L234 54.1L230.5 54.1ZM105.6 44.2L109.6 44.2L111 40.8L107.1 40.8ZM255.6 44.2L259.6 44.2L258.2 40.8L254.4 40.8ZM245.1 37.6L249.4 37.6L248 34.3L243.8 34.3ZM241.7 31.2L246.4 31.2L244.8 28L240.2 28Z"/>
<path fill="#d0d2a4" d="M213.6 134.8L217.1 134.8L217.5 131.4L213.9 131.4ZM321.7 134.8L328.6 134.8L330.3 131.4L323.3 131.4ZM211.5 131.5L214.9 131.5L215.2 128L211.8 128ZM209.5 128.1L212.8 128.1L213 124.6L209.7 124.6ZM324.4 121.4L327.6 121.4L328.4 117.9L325.2 117.9ZM202.2 118L205.4 118L205.5 114.6L202.3 114.6ZM217.7 118L220.9 118L221 114.6L217.8 114.6ZM316.6 118L325.9 118L326.6 114.6L317.2 114.6ZM137.9 114.7L141.1 114.7L140.9 111.2L137.7 111.2ZM311.9 114.7L315.1 114.7L315.7 111.2L312.5 111.2ZM318 114.7L324.2 114.7L324.9 111.2L318.6 111.2ZM310.4 111.3L313.5 111.3L313.9 107.8L310.8 107.8ZM319.4 111.3L322.5 111.3L323 107.8L319.9 107.8ZM311.3 107.9L314.4 107.9L314.7 104.5L311.6 104.5ZM217.9 101.2L221 101.2L221 97.8L218 97.8ZM207.7 87.8L210.8 87.8L210.8 84.3L207.7 84.3ZM215.4 84.4L224.5 84.4L224.4 81L215.3 81ZM290.5 84.4L293.6 84.4L293.4 81L290.3 81ZM289.6 81.1L292.8 81.1L292.4 77.6L289.3 77.6ZM94.8 77.7L97.9 77.7L98.4 74.2L95.2 74.2ZM291 77.7L294.2 77.7L293.7 74.2L290.6 74.2ZM102.9 74.3L106.1 74.3L106.5 70.9L103.3 70.9ZM255.1 74.3L258.3 74.3L257.9 70.9L254.8 70.9ZM255.9 71L262.3 71L261.9 67.5L255.6 67.5ZM249.4 67.6L255.9 67.6L255.5 64.2L249 64.2ZM73.8 57.5L77.3 57.5L78.6 54.1L75.1 54.1ZM299.4 57.5L302.9 57.5L301.6 54.1L298.1 54.1ZM77.4 54.2L81 54.2L82.5 50.7L78.9 50.7ZM292.1 54.2L295.8 54.2L294.3 50.7L290.7 50.7ZM217.1 44.2L221.1 44.2L220.5 40.8L216.6 40.8ZM220.4 40.9L224.6 40.9L223.8 37.5L219.8 37.5ZM280.7 40.9L284.8 40.9L282.8 37.5L278.8 37.5ZM320.9 40.9L325 40.9L322.2 37.5L318.2 37.5ZM272.1 34.4L276.6 34.4L274.4 31.1L270 31.1ZM204.5 31.2L209.3 31.2L208.7 28L204.1 28ZM276.5 16.4L283.9 16.4L280.1 13.7L272.9 13.7ZM282.5 13.8L291.2 13.8L286.5 11.1L278.2 11.1Z"/>
<path fill="#c6c892" d="M328.5 134.8L332 134.8L333.7 131.4L330.2 131.4ZM331 131.5L334.4 131.5L335.9 128L332.5 128ZM323.5 128.1L326.8 128.1L328 124.6L324.6 124.6ZM210.7 124.7L213.9 124.7L214.1 121.3L210.8 121.3ZM220.2 124.7L223.5 124.7L223.8 121.3L220.5 121.3ZM325.6 124.7L328.9 124.7L329.9 121.3L326.6 121.3ZM321.3 121.4L324.5 121.4L325.3 117.9L322 117.9ZM199.1 118L202.3 118L202.4 114.6L199.2 114.6ZM205.3 118L208.5 118L208.6 114.6L205.4 114.6ZM211.5 118L217.8 118L217.9 114.6L211.6 114.6ZM220.8 118L223.9 118L224.1 114.6L220.9 114.6ZM199 114.7L202.1 114.7L202.2 111.2L199 111.2ZM220.4 114.7L223.5 114.7L223.7 111.2L220.5 111.2ZM315 114.7L318.1 114.7L318.7 111.2L315.6 111.2ZM138.6 111.3L141.7 111.3L141.5 107.8L138.4 107.8ZM198.8 111.3L202 111.3L202 107.8L198.9 107.8ZM223 111.3L226.1 111.3L226.2 107.8L223.1 107.8ZM313.4 111.3L316.5 111.3L317 107.8L313.8 107.8ZM317.3 107.9L320.4 107.9L320.7 104.5L317.6 104.5ZM216.6 104.6L222.7 104.6L222.8 101.1L216.7 101.1ZM225.6 104.6L228.7 104.6L228.7 101.1L225.6 101.1ZM120.1 91.1L123.1 91.1L123.2 87.7L120.2 87.7ZM191.3 91.1L194.3 91.1L194.3 87.7L191.3 87.7ZM109.1 87.8L112.2 87.8L112.4 84.3L109.3 84.3ZM219.7 87.8L225.7 87.8L225.7 84.3L219.6 84.3ZM182.3 84.4L185.4 84.4L185.4 81L182.3 81ZM194.3 84.4L197.4 84.4L197.4 81L194.3 81ZM206.3 84.4L212.5 84.4L212.4 81L206.3 81ZM292.6 57.5L296.1 57.5L294.8 54.1L291.3 54.1ZM302.7 54.2L306.3 54.2L304.7 50.7L301.2 50.7ZM298.4 47.5L302.3 47.5L300.3 44.1L296.5 44.1ZM78.7 44.2L82.6 44.2L84.6 40.8L80.7 40.8ZM212.4 40.9L220.5 40.9L219.9 37.5L211.9 37.5ZM76.9 37.6L81.2 37.6L83.6 34.3L79.4 34.3ZM282.9 37.6L287.2 37.6L284.9 34.3L280.7 34.3ZM205.9 34.4L214.9 34.4L214.2 31.1L205.5 31.1ZM209.2 31.2L213.9 31.2L213.2 28L208.6 28ZM315.9 31.2L325.3 31.2L321.6 28L312.5 28Z"/>
<path fill="#2b2659" d="M131.9 131.5L135.3 131.5L134.8 128L131.3 128ZM134.6 128.1L137.9 128.1L137.5 124.6L134.1 124.6ZM130.8 124.7L134.1 124.7L133.7 121.3L130.4 121.3ZM133.5 121.4L136.8 121.4L136.5 117.9L133.2 117.9ZM282.4 87.8L288.5 87.8L288.3 84.3L282.2 84.3ZM111.8 47.5L115.6 47.5L116.8 44.1L113.1 44.1ZM113.3 44.2L117.2 44.2L118.6 40.8L114.7 40.8Z"/>
<path fill="#b5b780" d="M327.6 131.5L331.1 131.5L332.6 128L329.1 128ZM212.7 128.1L216.1 128.1L216.3 124.6L212.9 124.6ZM326.7 128.1L330.1 128.1L331.3 124.6L327.9 124.6ZM333.2 128.1L336.6 128.1L337.9 124.6L334.5 124.6ZM217 124.7L220.3 124.7L220.6 121.3L217.2 121.3ZM327.5 121.4L330.8 121.4L331.6 117.9L328.3 117.9ZM208.4 118L211.6 118L211.7 114.6L208.5 114.6ZM325.8 118L329 118L329.7 114.6L326.5 114.6ZM222.6 104.6L225.7 104.6L225.7 101.1L222.7 101.1ZM123 94.5L126.1 94.5L126.1 91L123 91ZM103.2 87.8L109.2 87.8L109.4 84.3L103.3 84.3ZM112.1 87.8L115.2 87.8L115.3 84.3L112.3 84.3ZM192.8 87.8L195.9 87.8L195.9 84.3L192.8 84.3ZM96 81.1L105.2 81.1L105.5 77.6L96.4 77.6ZM97.8 77.7L101 77.7L101.4 74.2L98.3 74.2ZM295.2 50.8L299 50.8L297.3 47.4L293.6 47.4ZM207.2 37.6L215.7 37.6L215.1 34.3L206.8 34.3ZM219.8 37.6L224.1 37.6L223.3 34.3L219.1 34.3ZM274.5 37.6L278.8 37.6L276.7 34.3L272.5 34.3ZM316.5 37.6L325 37.6L321.9 34.3L313.6 34.3ZM219.2 34.4L223.7 34.4L222.8 31.1L218.4 31.1ZM316.2 34.4L325.1 34.4L321.7 31.1L313 31.1ZM213.8 31.2L218.6 31.2L217.7 28L213.1 28Z"/>
<path fill="#a4a66f" d="M216 128.1L222.6 128.1L222.9 124.6L216.2 124.6ZM330 128.1L333.3 128.1L334.6 124.6L331.2 124.6ZM213.8 124.7L217.1 124.7L217.3 121.3L214 121.3ZM328.8 124.7L338.5 124.7L339.5 121.3L329.8 121.3ZM202 114.7L205.2 114.7L205.3 111.2L202.1 111.2ZM324.1 114.7L333.4 114.7L334.1 111.2L324.8 111.2ZM201.9 111.3L205 111.3L205 107.8L201.9 107.8ZM224.3 107.9L227.4 107.9L227.5 104.5L224.4 104.5ZM136.1 104.6L139.2 104.6L139.1 101.1L136 101.1ZM101.1 84.4L110.2 84.4L110.4 81L101.3 81ZM191.3 84.4L194.4 84.4L194.4 81L191.3 81ZM105.1 81.1L108.2 81.1L108.5 77.6L105.4 77.6ZM104 77.7L107.1 77.7L107.5 74.2L104.4 74.2ZM258.2 74.3L261.4 74.3L261 70.9L257.8 70.9ZM264.4 74.3L267.6 74.3L267.2 70.9L264 70.9ZM296 57.5L299.5 57.5L298.2 54.1L294.7 54.1ZM299.2 54.2L302.8 54.2L301.3 50.7L297.7 50.7ZM82.5 34.4L87 34.4L89.5 31.1L85.1 31.1ZM214.8 34.4L219.3 34.4L218.5 31.1L214.1 31.1ZM280.9 34.4L285.4 34.4L283 31.1L278.6 31.1Z"/>
<path fill="#2a4c80" d="M137.2 124.7L140.5 124.7L140.2 121.3L136.8 121.3ZM280.3 91.1L286.3 91.1L286.2 87.7L280.1 87.7ZM288.4 87.8L291.5 87.8L291.3 84.3L288.2 84.3Z"/>
<path fill="#36360d" d="M143.6 124.7L146.9 124.7L146.6 121.3L143.3 121.3ZM141.6 111.3L144.7 111.3L144.5 107.8L141.4 107.8ZM147.6 111.3L150.7 111.3L150.6 107.8L147.5 107.8ZM216.9 111.3L223.1 111.3L223.2 107.8L217 107.8ZM140.3 107.9L143.4 107.9L143.3 104.5L140.2 104.5ZM139.1 104.6L148.1 104.6L148.1 101.1L139 101.1ZM188.3 91.1L191.4 91.1L191.4 87.7L188.3 87.7ZM124.1 87.8L127.2 87.8L127.3 84.3L124.2 84.3ZM186.8 87.8L189.9 87.8L189.9 84.3L186.8 84.3ZM128.2 84.4L131.3 84.4L131.4 81L128.3 81ZM266.5 84.4L269.6 84.4L269.4 81L266.3 81ZM117.2 81.1L120.3 81.1L120.6 77.6L117.5 77.6ZM259.4 81.1L262.5 81.1L262.2 77.6L259.1 77.6ZM263.4 77.7L266.6 77.7L266.2 74.2L263.1 74.2Z"/>
<path fill="#262600" d="M142.9 121.4L146.2 121.4L145.9 117.9L142.7 117.9ZM143.5 118L146.7 118L146.5 114.6L143.3 114.6ZM144 114.7L147.2 114.7L147 111.2L143.8 111.2ZM144.6 111.3L147.7 111.3L147.6 107.8L144.4 107.8ZM207.9 111.3L217 111.3L217.1 107.8L208 107.8ZM143.3 107.9L149.4 107.9L149.3 104.5L143.2 104.5ZM140.9 101.2L146.9 101.2L146.9 97.8L140.8 97.8ZM129 97.9L146.9 97.9L146.8 94.4L128.9 94.4ZM126 94.5L135 94.5L135 91L126 91ZM129 91.1L132 91.1L132.1 87.7L129 87.7ZM127.1 87.8L130.1 87.8L130.3 84.3L127.2 84.3ZM119.1 84.4L128.3 84.4L128.4 81L119.3 81ZM262.4 81.1L265.5 81.1L265.3 77.6L262.1 77.6Z"/>
<path fill="#737440" d="M146.1 121.4L149.3 121.4L149.1 117.9L145.8 117.9ZM214.2 114.7L220.5 114.7L220.6 111.2L214.4 111.2ZM204.9 111.3L208 111.3L208.1 107.8L204.9 107.8ZM221.3 107.9L224.4 107.9L224.5 104.5L221.4 104.5ZM146.8 101.2L149.9 101.2L149.8 97.8L146.8 97.8ZM137.8 94.5L140.9 94.5L140.9 91L137.9 91ZM185.3 91.1L188.4 91.1L188.4 87.7L185.3 87.7ZM115.1 87.8L118.2 87.8L118.3 84.3L115.2 84.3ZM189.8 87.8L192.9 87.8L192.9 84.3L189.8 84.3ZM110.1 84.4L113.2 84.4L113.4 81L110.3 81ZM261.3 74.3L264.5 74.3L264.1 70.9L260.9 70.9ZM78 34.4L82.6 34.4L85.2 31.1L80.8 31.1ZM79.2 31.2L84 31.2L86.8 28L82.2 28Z"/>
<path fill="#94965e" d="M330.7 121.4L333.9 121.4L334.7 117.9L331.5 117.9ZM328.9 118L332.1 118L332.9 114.6L329.6 114.6ZM150.1 114.7L153.3 114.7L153.1 111.2L150 111.2ZM205.1 114.7L208.2 114.7L208.3 111.2L205.2 111.2ZM150.6 111.3L153.7 111.3L153.6 107.8L150.5 107.8ZM137.3 107.9L140.4 107.9L140.3 104.5L137.2 104.5ZM132 101.2L135.1 101.2L135 97.8L131.9 97.8ZM149.8 101.2L152.8 101.2L152.8 97.8L149.7 97.8ZM100.9 77.7L104.1 77.7L104.5 74.2L101.3 74.2ZM295.7 54.2L299.3 54.2L297.8 50.7L294.2 50.7ZM302.5 50.8L306.2 50.8L304.4 47.4L300.7 47.4ZM79.8 40.9L84 40.9L86.1 37.5L82.1 37.5ZM215.6 37.6L219.9 37.6L219.2 34.3L215 34.3ZM276.5 34.4L281 34.4L278.7 31.1L274.3 31.1Z"/>
<path fill="#646534" d="M140.4 118L143.6 118L143.4 114.6L140.1 114.6ZM147.1 114.7L150.2 114.7L150.1 111.2L146.9 111.2ZM148 104.6L151.1 104.6L151.1 101.1L148 101.1ZM123 91.1L126.1 91.1L126.2 87.7L123.1 87.7ZM134.9 91.1L140.9 91.1L141 87.7L135 87.7ZM261.5 87.8L264.6 87.8L264.4 84.3L261.4 84.3Z"/>
<path fill="#45461a" d="M146.6 118L149.8 118L149.6 114.6L146.4 114.6ZM141 114.7L144.1 114.7L143.9 111.2L140.8 111.2ZM137.9 101.2L141 101.2L140.9 97.8L137.9 97.8ZM134.9 94.5L137.9 94.5L138 91L134.9 91ZM126 91.1L129.1 91.1L129.1 87.7L126.1 87.7ZM131.9 91.1L135 91.1L135.1 87.7L132 87.7ZM130 87.8L133.1 87.8L133.2 84.3L130.2 84.3ZM264.5 87.8L267.6 87.8L267.4 84.3L264.3 84.3ZM113.1 84.4L119.2 84.4L119.4 81L113.3 81ZM260.5 84.4L266.6 84.4L266.4 81L260.3 81Z"/>
<path fill="#83854f" d="M149.7 118L152.9 118L152.7 114.6L149.5 114.6ZM149.3 107.9L155.4 107.9L155.3 104.5L149.2 104.5ZM151 104.6L157.1 104.6L157 101.1L151 101.1ZM135 101.2L138 101.2L138 97.8L134.9 97.8ZM183.8 87.8L186.9 87.8L186.9 84.3L183.8 84.3ZM185.3 84.4L188.4 84.4L188.4 81L185.3 81ZM257.3 77.7L260.5 77.7L260.1 74.2L257 74.2ZM298.9 50.8L302.6 50.8L300.8 47.4L297.2 47.4ZM81.1 37.6L85.4 37.6L87.8 34.3L83.5 34.3ZM278.7 37.6L283 37.6L280.8 34.3L276.6 34.3Z"/>
<path fill="#555627" d="M208.1 114.7L214.3 114.7L214.5 111.2L208.2 111.2ZM218.3 107.9L221.4 107.9L221.5 104.5L218.4 104.5ZM126 97.9L129.1 97.9L129 94.4L126 94.4ZM146.8 97.9L149.8 97.9L149.8 94.4L146.7 94.4ZM118.1 87.8L124.2 87.8L124.3 84.3L118.2 84.3ZM267.5 87.8L270.6 87.8L270.4 84.3L267.3 84.3ZM188.3 84.4L191.4 84.4L191.4 81L188.3 81ZM265.4 81.1L268.6 81.1L268.3 77.6L265.2 77.6ZM260.4 77.7L263.5 77.7L263.2 74.2L260 74.2Z"/>
<path fill="#2a3266" d="M108 47.5L111.9 47.5L113.2 44.1L109.4 44.1Z"/>
</g>
<use href="#lakes" fill="#818382"/>
<use href="#land" fill="none" stroke="#2a2a2a" stroke-width="0.3" opacity="0.45"/><use href="#isl" fill="none" stroke="#2a2a2a" stroke-width="0.3" opacity="0.45"/>
<use href="#lko" fill="none" stroke="#2a2a2a" stroke-width="0.35" opacity="0.7"/>
</g>
<use href="#ol" fill="none" stroke="#3c3c3c" stroke-width="0.7"/>
</g>
<g id="map-a" transform="translate(0,0)">
<use href="#ol" fill="#818382"/>
<g clip-path="url(#cpo)">
<use href="#ice" fill="#fff"/>
<use href="#grat" fill="none" stroke="#3a3a3a" stroke-width="0.4" stroke-dasharray="1 0.7" opacity="0.5"/>
<use href="#land" fill="#f0f1e6" stroke="#f0f1e6" stroke-width="1.3" stroke-linejoin="round"/><use href="#isl" fill="#f0f1e6"/>
<g mask="url(#ml)" shape-rendering="crispEdges">
<path fill="#b8ccdd" d="M128.1 157.8L136.8 157.8L135.5 154.5L126.6 154.5ZM134.5 138.2L138 138.2L137.4 134.7L133.7 134.7ZM318.5 138.2L322.1 138.2L323.9 134.7L320.3 134.7ZM325.5 138.2L329 138.2L331 134.7L327.3 134.7ZM135.9 134.8L139.4 134.8L138.8 131.4L135.3 131.4ZM315 134.8L328.6 134.8L330.3 131.4L316.5 131.4ZM131.9 131.5L135.3 131.5L134.8 128L131.3 128ZM314.4 131.5L321.1 131.5L322.5 128L315.7 128ZM313.7 128.1L323.6 128.1L324.7 124.6L314.8 124.6ZM130.4 121.4L133.6 121.4L133.3 117.9L130.1 117.9ZM128.8 114.7L131.9 114.7L131.7 111.2L128.5 111.2ZM137.9 114.7L141.1 114.7L140.9 111.2L137.7 111.2ZM324.1 114.7L330.3 114.7L331 111.2L324.8 111.2ZM123.5 111.3L129.6 111.3L129.4 107.8L123.3 107.8ZM132.5 111.3L135.7 111.3L135.5 107.8L132.3 107.8ZM110.3 107.9L116.4 107.9L116.2 104.5L110.1 104.5ZM125.3 107.9L131.4 107.9L131.3 104.5L125.2 104.5ZM203.3 107.9L206.4 107.9L206.4 104.5L203.3 104.5ZM112.3 104.6L115.3 104.6L115.2 101.1L112.1 101.1ZM118.2 104.6L121.3 104.6L121.2 101.1L118.1 101.1ZM286.1 101.2L289.1 101.2L289.3 97.8L286.2 97.8ZM292 101.2L295.1 101.2L295.2 97.8L292.1 97.8ZM292.1 97.9L295.2 97.9L295.3 94.4L292.2 94.4ZM318.8 97.9L321.9 97.9L322 94.4L318.9 94.4ZM182.3 84.4L185.4 84.4L185.4 81L182.3 81ZM284.9 77.7L288.1 77.7L287.6 74.2L284.5 74.2ZM283 74.3L286.3 74.3L285.8 70.9L282.6 70.9ZM295.5 74.3L298.7 74.3L298.1 70.9L294.9 70.9ZM79.7 71L83 71L83.6 67.5L80.3 67.5ZM284.3 71L287.5 71L287 67.5L283.7 67.5ZM290.6 71L293.8 71L293.2 67.5L290 67.5ZM296.9 71L303.2 71L302.6 67.5L296.3 67.5ZM82.2 67.6L95.1 67.6L95.8 64.2L82.9 64.2ZM294.4 67.6L304.2 67.6L303.4 64.2L293.7 64.2ZM84.8 64.3L88.2 64.3L89.1 60.8L85.7 60.8ZM196.5 64.3L199.9 64.3L199.8 60.8L196.4 60.8ZM249.1 64.3L252.5 64.3L251.9 60.8L248.5 60.8ZM295.1 64.3L301.7 64.3L300.8 60.8L294.1 60.8ZM84.4 60.9L91.2 60.9L92.2 57.4L85.4 57.4ZM195 60.9L208.5 60.9L208.3 57.4L194.9 57.4ZM248.6 60.9L252.1 60.9L251.4 57.4L248 57.4ZM261.8 57.5L265.3 57.5L264.4 54.1L260.9 54.1ZM88 54.2L91.6 54.2L92.9 50.7L89.3 50.7ZM186.5 54.2L190.2 54.2L190.1 50.7L186.6 50.7ZM193.6 54.2L207.8 54.2L207.5 50.7L193.5 50.7ZM249.9 54.2L253.5 54.2L252.6 50.7L249.1 50.7ZM85 50.8L88.7 50.8L90.2 47.4L86.6 47.4ZM201 50.8L204.7 50.8L204.5 47.4L200.8 47.4ZM208.2 50.8L212 50.8L211.6 47.4L207.9 47.4ZM81.9 47.5L93.2 47.5L94.8 44.1L83.7 44.1ZM96.8 47.5L100.7 47.5L102.2 44.1L98.4 44.1ZM190.2 47.5L201.5 47.5L201.2 44.1L190.1 44.1ZM205.1 47.5L208.9 47.5L208.6 44.1L204.8 44.1ZM212.6 47.5L216.4 47.5L215.9 44.1L212.2 44.1ZM261.1 47.5L264.9 47.5L263.6 44.1L259.9 44.1ZM86.4 44.2L90.3 44.2L92.1 40.8L88.3 40.8ZM190.2 44.2L194.2 44.2L194.1 40.8L190.2 40.8ZM201.8 44.2L205.7 44.2L205.4 40.8L201.5 40.8ZM209.5 44.2L213.4 44.2L212.9 40.8L209.1 40.8ZM259.5 44.2L267.2 44.2L265.8 40.8L258.1 40.8ZM83.9 40.9L88 40.9L90 37.5L86 37.5ZM208.4 40.9L212.5 40.9L212 37.5L208 37.5ZM85.3 37.6L89.6 37.6L91.9 34.3L87.7 34.3ZM203 37.6L215.7 37.6L215.1 34.3L202.7 34.3ZM82.5 34.4L87 34.4L89.5 31.1L85.1 31.1ZM197.1 34.4L201.6 34.4L201.3 31.1L196.9 31.1ZM195.3 31.2L200 31.2L199.7 28L195.1 28ZM227.1 19.2L233.7 19.2L232.1 16.3L225.8 16.3ZM304.8 19.2L311.4 19.2L307 16.3L300.7 16.3ZM242.7 8.9L256.4 8.9L253.1 6.8L240.1 6.8Z"/>
<path fill="#2a4c80" d="M124.6 154.6L128.8 154.6L127.4 151.3L123.1 151.3ZM136.7 121.4L139.9 121.4L139.6 117.9L136.4 117.9ZM201.9 111.3L205 111.3L205 107.8L201.9 107.8ZM94.8 77.7L97.9 77.7L98.4 74.2L95.2 74.2ZM179.5 54.2L183.1 54.2L183.2 50.7L179.6 50.7Z"/>
<path fill="#cfdce7" d="M128.7 154.6L132.9 154.6L131.6 151.3L127.3 151.3ZM126 148.1L129.9 148.1L128.8 144.7L124.8 144.7ZM314.9 144.8L322.3 144.8L324.7 141.4L317.1 141.4ZM315 141.5L322.2 141.5L324.3 138.1L317 138.1ZM315.1 138.2L318.6 138.2L320.4 134.7L316.8 134.7ZM322 138.2L325.6 138.2L327.4 134.7L323.8 134.7ZM132.6 134.8L136 134.8L135.4 131.4L131.9 131.4ZM311.6 134.8L315.1 134.8L316.6 131.4L313.1 131.4ZM201.6 131.5L205 131.5L205.2 128L201.7 128ZM307.7 131.5L314.5 131.5L315.8 128L309 128ZM131.3 128.1L134.7 128.1L134.2 124.6L130.8 124.6ZM307.2 128.1L313.8 128.1L314.9 124.6L308.2 124.6ZM130.8 124.7L134.1 124.7L133.7 121.3L130.4 121.3ZM201.1 124.7L207.6 124.7L207.7 121.3L201.2 121.3ZM229.8 124.7L233.1 124.7L233.4 121.3L230.1 121.3ZM296.9 124.7L300.2 124.7L301 121.3L297.6 121.3ZM199.3 121.4L208.7 121.4L208.9 117.9L199.3 117.9ZM227.4 121.4L233.8 121.4L234 117.9L227.6 117.9ZM296.3 121.4L299.5 121.4L300.1 117.9L296.9 117.9ZM122.7 114.7L128.9 114.7L128.6 111.2L122.4 111.2ZM111.4 111.3L123.6 111.3L123.4 107.8L111.2 107.8ZM129.5 111.3L132.6 111.3L132.4 107.8L129.3 107.8ZM135.6 111.3L138.7 111.3L138.5 107.8L135.4 107.8ZM216.9 111.3L220 111.3L220.2 107.8L217 107.8ZM325.4 111.3L331.6 111.3L332.1 107.8L325.9 107.8ZM116.3 107.9L125.4 107.9L125.3 104.5L116.1 104.5ZM131.3 107.9L137.4 107.9L137.3 104.5L131.2 104.5ZM326.3 107.9L329.4 107.9L329.7 104.5L326.6 104.5ZM109.3 104.6L112.4 104.6L112.2 101.1L109.1 101.1ZM127.2 104.6L136.2 104.6L136.1 101.1L127.1 101.1ZM324 104.6L330 104.6L330.3 101.1L324.2 101.1ZM111.3 101.2L114.3 101.2L114.2 97.8L111.2 97.8ZM129 101.2L132.1 101.2L132 97.8L129 97.8ZM318.7 101.2L327.6 101.2L327.8 97.8L318.8 97.8ZM114.1 97.9L117.2 97.9L117.2 94.4L114.1 94.4ZM126 97.9L129.1 97.9L129 94.4L126 94.4ZM315.9 97.9L318.9 97.9L319 94.4L315.9 94.4ZM321.8 97.9L330.8 97.9L330.9 94.4L321.9 94.4ZM283.3 94.5L286.4 94.5L286.3 91L283.2 91ZM108.2 91.1L111.3 91.1L111.4 87.7L108.3 87.7ZM176.4 91.1L179.5 91.1L179.5 87.7L176.4 87.7ZM197.2 91.1L200.3 91.1L200.3 87.7L197.2 87.7ZM212 91.1L215.1 91.1L215.1 87.7L212 87.7ZM280.3 91.1L286.3 91.1L286.2 87.7L280.1 87.7ZM103.2 87.8L106.2 87.8L106.4 84.3L103.3 84.3ZM109.1 87.8L112.2 87.8L112.4 84.3L109.3 84.3ZM174.9 87.8L180.9 87.8L180.9 84.3L174.9 84.3ZM186.8 87.8L189.9 87.8L189.9 84.3L186.8 84.3ZM107.1 84.4L113.2 84.4L113.4 81L107.3 81ZM176.3 84.4L182.4 84.4L182.4 81L176.3 81ZM185.3 84.4L188.4 84.4L188.4 81L185.3 81ZM168.6 81.1L174.8 81.1L174.8 77.6L168.7 77.6ZM104 77.7L107.1 77.7L107.5 74.2L104.4 74.2ZM171.4 77.7L174.6 77.7L174.7 74.2L171.5 74.2ZM278.8 77.7L285 77.7L284.6 74.2L278.3 74.2ZM84.2 74.3L87.4 74.3L87.9 70.9L84.8 70.9ZM276.8 74.3L283.1 74.3L282.7 70.9L276.4 70.9ZM82.9 71L86.1 71L86.7 67.5L83.5 67.5ZM255.9 71L259.2 71L258.8 67.5L255.6 67.5ZM278 71L284.4 71L283.8 67.5L277.5 67.5ZM79 67.6L82.3 67.6L83 64.2L79.7 64.2ZM259 67.6L262.4 67.6L261.9 64.2L258.6 64.2ZM284.8 67.6L288.1 67.6L287.4 64.2L284.1 64.2ZM91.4 64.3L98.1 64.3L98.8 60.8L92.2 60.8ZM183.4 64.3L196.6 64.3L196.5 60.8L183.4 60.8ZM199.8 64.3L206.5 64.3L206.3 60.8L199.7 60.8ZM245.8 64.3L249.2 64.3L248.6 60.8L245.3 60.8ZM301.6 64.3L305 64.3L304 60.8L300.7 60.8ZM91.1 60.9L94.5 60.9L95.5 57.4L92.1 57.4ZM208.4 60.9L215.2 60.9L214.9 57.4L208.2 57.4ZM265.4 60.9L268.9 60.9L268 57.4L264.6 57.4ZM84 57.5L91 57.5L92.1 54.1L85.3 54.1ZM248.1 57.5L251.6 57.5L250.9 54.1L247.4 54.1ZM84.5 54.2L88.1 54.2L89.4 50.7L85.9 50.7ZM218.2 54.2L221.8 54.2L221.4 50.7L217.8 50.7ZM235.8 54.2L239.4 54.2L238.8 50.7L235.2 50.7ZM260.5 54.2L264.1 54.2L263.1 50.7L259.5 50.7ZM81.4 50.8L85.1 50.8L86.7 47.4L83 47.4ZM88.6 50.8L92.3 50.8L93.8 47.4L90.1 47.4ZM179.2 50.8L190.2 50.8L190.2 47.4L179.4 47.4ZM204.6 50.8L208.3 50.8L208 47.4L204.4 47.4ZM219.1 50.8L230.1 50.8L229.4 47.4L218.6 47.4ZM248.1 50.8L255.5 50.8L254.4 47.4L247.2 47.4ZM259 50.8L262.7 50.8L261.6 47.4L257.9 47.4ZM74.4 47.5L82 47.5L83.8 44.1L76.4 44.1ZM104.3 47.5L108.1 47.5L109.5 44.1L105.7 44.1ZM179 47.5L190.3 47.5L190.2 44.1L179.1 44.1ZM208.8 47.5L212.7 47.5L212.3 44.1L208.5 44.1ZM235 47.5L238.8 47.5L237.9 44.1L234.2 44.1ZM249.9 47.5L261.2 47.5L260 44.1L248.8 44.1ZM82.5 44.2L86.5 44.2L88.4 40.8L84.5 40.8ZM182.5 44.2L190.3 44.2L190.3 40.8L182.6 40.8ZM205.6 44.2L209.6 44.2L209.2 40.8L205.3 40.8ZM255.6 44.2L259.6 44.2L258.2 40.8L254.4 40.8ZM184.3 40.9L192.4 40.9L192.3 37.5L184.4 37.5ZM212.4 40.9L216.5 40.9L215.9 37.5L211.9 37.5ZM256.6 40.9L264.7 40.9L263.2 37.5L255.2 37.5ZM102.1 37.6L106.4 37.6L108.3 34.3L104.1 34.3ZM186.2 37.6L194.7 37.6L194.6 34.3L186.2 34.3ZM257.7 37.6L262 37.6L260.3 34.3L256.1 34.3ZM95.7 34.4L100.2 34.4L102.4 31.1L98 31.1ZM205.9 34.4L214.9 34.4L214.2 31.1L205.5 31.1ZM254.5 34.4L263.4 34.4L261.5 31.1L252.8 31.1ZM190.6 31.2L195.4 31.2L195.2 28L190.6 28ZM199.9 31.2L204.6 31.2L204.2 28L199.6 28ZM190.8 28.1L205.9 28.1L205.4 25L190.7 25ZM129.9 25.1L135.3 25.1L136.9 22L131.7 22ZM193.6 25.1L204.3 25.1L203.8 22L193.4 22ZM305.2 25.1L310.6 25.1L306.8 22L301.6 22ZM194.1 22.1L200 22.1L199.7 19.1L193.9 19.1ZM205.8 22.1L211.7 22.1L210.9 19.1L205.2 19.1ZM304.7 22.1L316.5 22.1L312.3 19.1L300.9 19.1ZM201.2 19.2L214.3 19.2L213.4 16.3L200.8 16.3ZM225 16.4L232.5 16.4L230.7 13.7L223.6 13.7ZM196.9 13.8L205.5 13.8L204.7 11.1L196.5 11.1ZM222.6 13.8L231.2 13.8L229.3 11.1L221 11.1ZM248.2 13.8L256.9 13.8L253.8 11.1L245.5 11.1ZM198.7 11.2L209.2 11.2L208.2 8.8L198.2 8.8Z"/>
<path fill="#2b2659" d="M121.4 151.4L125.4 151.4L124.1 148L120 148ZM96 81.1L99.2 81.1L99.5 77.6L96.4 77.6Z"/>
<path fill="#4778a4" d="M125.3 151.4L129.4 151.4L128.1 148L124 148ZM137.2 124.7L143.7 124.7L143.4 121.3L136.8 121.3ZM208.4 118L214.7 118L214.8 114.6L208.5 114.6ZM319.7 118L322.8 118L323.5 114.6L320.3 114.6ZM313.4 111.3L316.5 111.3L317 107.8L313.8 107.8ZM179.8 57.5L183.3 57.5L183.3 54.1L179.9 54.1ZM97.9 44.2L101.9 44.2L103.5 40.8L99.6 40.8ZM95.9 40.9L104 40.9L105.8 37.5L97.8 37.5ZM76 28.1L81.1 28.1L84.2 25L79.3 25Z"/>
<path fill="#e4ebef" d="M129.3 151.4L133.3 151.4L132.2 148L128 148ZM129.8 148.1L133.7 148.1L132.6 144.7L128.7 144.7ZM124.1 144.8L135.2 144.8L134.3 141.4L123 141.4ZM118.7 141.5L122.4 141.5L121.3 138.1L117.6 138.1ZM203.5 134.8L210.4 134.8L210.6 131.4L203.7 131.4ZM301.5 134.8L304.9 134.8L306.3 131.4L302.8 131.4ZM204.9 131.5L211.6 131.5L211.9 128L205.1 128ZM297.8 131.5L307.8 131.5L309.1 128L298.9 128ZM203 128.1L209.6 128.1L209.8 124.6L203.1 124.6ZM294.1 128.1L307.3 128.1L308.3 124.6L295.1 124.6ZM233 124.7L236.3 124.7L236.6 121.3L233.3 121.3ZM300.1 124.7L306.6 124.7L307.4 121.3L300.9 121.3ZM208.6 121.4L215 121.4L215.1 117.9L208.8 117.9ZM233.7 121.4L236.9 121.4L237.2 117.9L233.9 117.9ZM299.4 121.4L302.6 121.4L303.2 117.9L300 117.9ZM121.8 118L131.2 118L130.9 114.6L121.5 114.6ZM230 118L236.3 118L236.6 114.6L230.2 114.6ZM113.5 114.7L116.7 114.7L116.3 111.2L113.2 111.2ZM119.6 114.7L122.8 114.7L122.5 111.2L119.3 111.2ZM212.3 107.9L215.4 107.9L215.5 104.5L212.4 104.5ZM302.3 107.9L308.4 107.9L308.7 104.5L302.6 104.5ZM329.3 107.9L332.4 107.9L332.7 104.5L329.6 104.5ZM106.3 104.6L109.4 104.6L109.2 101.1L106.1 101.1ZM136.1 104.6L139.2 104.6L139.1 101.1L136 101.1ZM297.1 104.6L300.2 104.6L300.4 101.1L297.3 101.1ZM306.1 104.6L309.2 104.6L309.4 101.1L306.3 101.1ZM329.9 104.6L336 104.6L336.3 101.1L330.2 101.1ZM105.3 101.2L108.4 101.2L108.3 97.8L105.2 97.8ZM132 101.2L138 101.2L138 97.8L131.9 97.8ZM306.8 101.2L309.9 101.2L310 97.8L307 97.8ZM327.5 101.2L336.5 101.2L336.7 97.8L327.7 97.8ZM108.2 97.9L114.2 97.9L114.2 94.4L108.2 94.4ZM117.1 97.9L120.2 97.9L120.1 94.4L117.1 94.4ZM131.9 97.9L135 97.9L135 94.4L131.9 94.4ZM108.2 94.5L114.2 94.5L114.2 91L108.2 91ZM117.1 94.5L120.1 94.5L120.2 91L117.1 91ZM295.2 94.5L301.2 94.5L301.1 91L295.1 91ZM304.1 94.5L307.1 94.5L307.1 91L304 91ZM111.2 91.1L117.2 91.1L117.3 87.7L111.3 87.7ZM286.2 91.1L289.3 91.1L289.1 87.7L286.1 87.7ZM298.1 91.1L301.1 91.1L301 87.7L297.9 87.7ZM106.1 87.8L109.2 87.8L109.4 84.3L106.3 84.3ZM112.1 87.8L121.2 87.8L121.3 84.3L112.3 84.3ZM198.8 87.8L201.8 87.8L201.8 84.3L198.7 84.3ZM291.4 87.8L294.5 87.8L294.3 84.3L291.2 84.3ZM303.3 87.8L306.4 87.8L306.2 84.3L303.1 84.3ZM113.1 84.4L122.2 84.4L122.4 81L113.3 81ZM170.3 84.4L176.4 84.4L176.4 81L170.3 81ZM117.2 81.1L120.3 81.1L120.6 77.6L117.5 77.6ZM174.7 81.1L183.9 81.1L183.9 77.6L174.7 77.6ZM116.2 77.7L119.4 77.7L119.7 74.2L116.6 74.2ZM168.4 77.7L171.5 77.7L171.6 74.2L168.5 74.2ZM174.5 77.7L180.7 77.7L180.8 74.2L174.6 74.2ZM291 77.7L294.2 77.7L293.7 74.2L290.6 74.2ZM118.4 74.3L124.7 74.3L125 70.9L118.8 70.9ZM292.4 74.3L295.6 74.3L295 70.9L291.8 70.9ZM259.1 71L262.3 71L261.9 67.5L258.7 67.5ZM181.9 67.6L194.8 67.6L194.8 64.2L181.9 64.2ZM204.4 67.6L207.7 67.6L207.6 64.2L204.3 64.2ZM210.8 67.6L214.1 67.6L213.9 64.2L210.7 64.2ZM262.3 67.6L265.6 67.6L265 64.2L261.8 64.2ZM278.3 67.6L284.9 67.6L284.2 64.2L277.7 64.2ZM81.5 64.3L84.9 64.3L85.8 60.8L82.5 60.8ZM180.1 64.3L183.5 64.3L183.5 60.8L180.2 60.8ZM206.4 64.3L222.9 64.3L222.6 60.8L206.2 60.8ZM265.5 64.3L268.9 64.3L268.2 60.8L264.8 60.8ZM291.8 64.3L295.2 64.3L294.2 60.8L290.9 60.8ZM215.1 60.9L218.6 60.9L218.3 57.4L214.8 57.4ZM241.9 60.9L248.7 60.9L248.1 57.4L241.4 57.4ZM309 60.9L312.4 60.9L311.2 57.4L307.7 57.4ZM90.9 57.5L94.4 57.5L95.5 54.1L92 54.1ZM217.4 57.5L220.9 57.5L220.5 54.1L217 54.1ZM241.3 57.5L248.2 57.5L247.5 54.1L240.7 54.1ZM265.2 57.5L268.7 57.5L267.8 54.1L264.3 54.1ZM80.9 54.2L84.6 54.2L86 50.7L82.4 50.7ZM221.7 54.2L225.4 54.2L224.9 50.7L221.3 50.7ZM242.9 54.2L250 54.2L249.2 50.7L242.1 50.7ZM253.4 54.2L260.6 54.2L259.6 50.7L252.5 50.7ZM264 54.2L267.6 54.2L266.5 50.7L263 50.7ZM92.2 50.8L96 50.8L97.4 47.4L93.7 47.4ZM103.1 50.8L106.8 50.8L108.1 47.4L104.4 47.4ZM237.2 50.8L241 50.8L240.2 47.4L236.5 47.4ZM244.5 50.8L248.2 50.8L247.3 47.4L243.6 47.4ZM255.4 50.8L259.1 50.8L258 47.4L254.3 47.4ZM262.6 50.8L266.3 50.8L265.1 47.4L261.5 47.4ZM213.3 44.2L217.2 44.2L216.7 40.8L212.8 40.8ZM251.8 44.2L255.7 44.2L254.5 40.8L250.6 40.8ZM180.3 40.9L184.4 40.9L184.5 37.5L180.4 37.5ZM215.6 37.6L219.9 37.6L219.2 34.3L215 34.3ZM56 34.4L60.5 34.4L63.7 31.1L59.3 31.1ZM86.9 34.4L95.8 34.4L98.1 31.1L89.4 31.1ZM179.5 34.4L184 34.4L184.1 31.1L179.7 31.1ZM192.7 34.4L197.2 34.4L197 31.1L192.6 31.1ZM214.8 34.4L219.3 34.4L218.5 31.1L214.1 31.1ZM263.3 34.4L267.8 34.4L265.8 31.1L261.4 31.1ZM56 31.2L70.1 31.2L73.3 28L59.6 28ZM186 31.2L190.7 31.2L190.7 28L186 28ZM204.5 31.2L218.6 31.2L217.7 28L204.1 28ZM255.6 31.2L265 31.2L262.9 28L253.8 28ZM61 28.1L71.1 28.1L74.5 25L64.7 25ZM130.9 28.1L136 28.1L137.5 25L132.6 25ZM205.8 28.1L215.8 28.1L215.1 25L205.3 25ZM270.6 28.1L280.7 28.1L278.1 25L268.3 25ZM305.6 28.1L315.7 28.1L312 25L302.2 25ZM60.8 25.1L66.2 25.1L70 22L64.7 22ZM135.2 25.1L140.6 25.1L142.1 22L136.8 22ZM204.2 25.1L215 25.1L214.1 22L203.7 22ZM241.4 25.1L252.1 25.1L250.2 22L239.8 22ZM262.7 25.1L284 25.1L281.1 22L260.4 22ZM299.9 25.1L305.3 25.1L301.7 22L296.4 22ZM310.5 25.1L326.5 25.1L322.3 22L306.7 22ZM130.1 22.1L136 22.1L137.7 19.1L132 19.1ZM199.9 22.1L205.9 22.1L205.3 19.1L199.6 19.1ZM211.6 22.1L217.5 22.1L216.5 19.1L210.8 19.1ZM240.7 22.1L252.4 22.1L250.3 19.1L239 19.1ZM298.9 22.1L304.8 22.1L301 19.1L295.3 19.1ZM240.1 19.2L246.7 19.2L244.6 16.3L238.3 16.3ZM298.4 19.2L304.9 19.2L300.8 16.3L294.5 16.3ZM311.3 19.2L317.9 19.2L313.3 16.3L306.9 16.3ZM239.7 16.4L247.2 16.4L244.8 13.7L237.7 13.7ZM188.3 11.2L198.8 11.2L198.3 8.8L188.3 8.8ZM250.7 11.2L261.2 11.2L257.6 8.8L247.7 8.8Z"/>
<path fill="#293f73" d="M122.2 148.1L126.1 148.1L124.9 144.7L121 144.7ZM211.2 114.7L214.3 114.7L214.5 111.2L211.3 111.2ZM210.9 111.3L217 111.3L217.1 107.8L211 107.8ZM97.8 77.7L101 77.7L101.4 74.2L98.3 74.2Z"/>
<path fill="#ecedd9" d="M333.6 148.1L337.5 148.1L340.3 144.7L336.4 144.7ZM131 138.2L134.6 138.2L133.8 134.7L130.2 134.7ZM298.1 134.8L301.6 134.8L302.9 131.4L299.4 131.4ZM128.1 128.1L131.4 128.1L130.9 124.6L127.5 124.6ZM127.6 124.7L130.9 124.7L130.5 121.3L127.2 121.3ZM220.2 124.7L223.5 124.7L223.8 121.3L220.5 121.3ZM306.5 124.7L309.8 124.7L310.6 121.3L307.3 121.3ZM117.9 121.4L124.3 121.4L123.9 117.9L117.5 117.9ZM214.9 121.4L218.1 121.4L218.3 117.9L215 117.9ZM302.5 121.4L305.7 121.4L306.4 117.9L303.1 117.9ZM311.9 121.4L315.1 121.4L315.8 117.9L312.6 117.9ZM301.1 118L304.3 118L304.9 114.6L301.7 114.6ZM141 114.7L144.1 114.7L143.9 111.2L140.8 111.2ZM232.6 114.7L238.8 114.7L239 111.2L232.8 111.2ZM141.6 111.3L144.7 111.3L144.5 107.8L141.4 107.8ZM140.3 107.9L143.4 107.9L143.3 104.5L140.2 104.5ZM139.1 104.6L142.2 104.6L142.1 101.1L139 101.1ZM209 101.2L215.1 101.2L215.1 97.8L209.1 97.8ZM226.8 101.2L229.9 101.2L229.9 97.8L226.9 97.8ZM297.9 101.2L301 101.2L301.1 97.8L298.1 97.8ZM134.9 97.9L138 97.9L137.9 94.4L134.9 94.4ZM212 97.9L215.1 97.9L215.1 94.4L212 94.4ZM226.9 97.9L232.9 97.9L232.9 94.4L226.9 94.4ZM134.9 94.5L137.9 94.5L138 91L134.9 91ZM226.9 94.5L230 94.5L229.9 91L226.9 91ZM232.8 94.5L235.9 94.5L235.9 91L232.8 91ZM289.2 94.5L292.3 94.5L292.2 91L289.2 91ZM134.9 91.1L140.9 91.1L141 87.7L135 87.7ZM265.4 91.1L268.5 91.1L268.4 87.7L265.3 87.7ZM192.8 87.8L195.9 87.8L195.9 84.3L192.8 84.3ZM128.2 84.4L131.3 84.4L131.4 81L128.3 81ZM188.3 84.4L191.4 84.4L191.4 81L188.3 81ZM290.5 84.4L293.6 84.4L293.4 81L290.3 81ZM226.1 81.1L238.3 81.1L238.1 77.6L226 77.6ZM286.6 81.1L289.7 81.1L289.4 77.6L286.3 77.6ZM183.7 77.7L189.9 77.7L189.9 74.2L183.7 74.2ZM192.9 77.7L199.1 77.7L199.1 74.2L192.9 74.2ZM217.4 77.7L220.6 77.7L220.5 74.2L217.3 74.2ZM229.7 77.7L235.9 77.7L235.7 74.2L229.5 74.2ZM238.9 77.7L245.1 77.7L244.9 74.2L238.7 74.2ZM180.5 74.3L183.7 74.3L183.8 70.9L180.6 70.9ZM196.1 74.3L199.3 74.3L199.2 70.9L196 70.9ZM208.5 74.3L214.8 74.3L214.7 70.9L208.4 70.9ZM230.2 74.3L245.9 74.3L245.6 70.9L230 70.9ZM255.1 74.3L258.3 74.3L257.9 70.9L254.8 70.9ZM180.4 71L186.8 71L186.8 67.5L180.5 67.5ZM215 71L218.3 71L218.1 67.5L214.9 67.5ZM221.3 71L227.7 71L227.5 67.5L221.2 67.5ZM230.8 71L246.6 71L246.3 67.5L230.5 67.5ZM223.7 67.6L233.4 67.6L233.1 64.2L223.4 64.2ZM239.8 67.6L246.3 67.6L245.9 64.2L239.4 64.2ZM265.5 67.6L268.8 67.6L268.2 64.2L264.9 64.2ZM75 64.3L78.4 64.3L79.3 60.8L75.9 60.8ZM281.9 64.3L285.3 64.3L284.5 60.8L281.1 60.8ZM288.5 64.3L291.9 64.3L291 60.8L287.6 60.8ZM74.3 60.9L81.1 60.9L82.2 57.4L75.5 57.4ZM94.4 60.9L97.9 60.9L98.8 57.4L95.4 57.4ZM238.6 60.9L242 60.9L241.5 57.4L238.1 57.4ZM268.8 60.9L278.9 60.9L278 57.4L267.9 57.4ZM282.2 60.9L292.3 60.9L291.3 57.4L281.2 57.4ZM268.6 57.5L272.2 57.5L271.2 54.1L267.7 54.1ZM275.5 57.5L289.2 57.5L288 54.1L274.4 54.1ZM306.2 57.5L309.8 57.5L308.3 54.1L304.8 54.1ZM271 54.2L278.2 54.2L277 50.7L269.9 50.7ZM281.6 54.2L288.7 54.2L287.4 50.7L280.3 50.7ZM77.7 50.8L81.5 50.8L83.1 47.4L79.4 47.4ZM95.9 50.8L99.6 50.8L101 47.4L97.3 47.4ZM117.6 50.8L121.3 50.8L122.4 47.4L118.7 47.4ZM269.9 50.8L273.6 50.8L272.3 47.4L268.6 47.4ZM277.1 50.8L280.8 50.8L279.4 47.4L275.7 47.4ZM302.5 50.8L306.2 50.8L304.4 47.4L300.7 47.4ZM126.7 47.5L130.5 47.5L131.5 44.1L127.8 44.1ZM220 47.5L227.6 47.5L226.9 44.1L219.5 44.1ZM268.6 47.5L276.1 47.5L274.6 44.1L267.2 44.1ZM279.8 47.5L283.6 47.5L282 44.1L278.2 44.1ZM302.2 47.5L309.7 47.5L307.7 44.1L300.2 44.1ZM117.1 44.2L121.1 44.2L122.3 40.8L118.5 40.8ZM128.7 44.2L136.5 44.2L137.4 40.8L129.8 40.8ZM240.2 44.2L248 44.2L246.9 40.8L239.3 40.8ZM267.1 44.2L274.9 44.2L273.3 40.8L265.7 40.8ZM301.8 44.2L313.4 44.2L311.1 40.8L299.7 40.8ZM116 40.9L120.1 40.9L121.5 37.5L117.5 37.5ZM132.1 40.9L136.2 40.9L137.2 37.5L133.2 37.5ZM216.4 40.9L220.5 40.9L219.9 37.5L215.8 37.5ZM248.6 40.9L252.7 40.9L251.4 37.5L247.3 37.5ZM264.6 40.9L268.7 40.9L267.1 37.5L263.1 37.5ZM276.7 40.9L280.8 40.9L278.9 37.5L274.9 37.5ZM300.8 40.9L312.9 40.9L310.4 37.5L298.5 37.5ZM110.5 37.6L123.2 37.6L124.7 34.3L112.3 34.3ZM127.3 37.6L131.6 37.6L132.9 34.3L128.7 34.3ZM287.1 37.6L291.4 37.6L289 34.3L284.8 34.3ZM295.5 37.6L304 37.6L301.4 34.3L293.1 34.3ZM308.1 37.6L312.4 37.6L309.6 34.3L305.4 34.3ZM316.5 37.6L325 37.6L321.9 34.3L313.6 34.3ZM47.2 34.4L51.7 34.4L55.1 31.1L50.7 31.1ZM104.5 34.4L122.2 34.4L123.9 31.1L106.6 31.1ZM223.6 34.4L228.1 34.4L227.1 31.1L222.7 31.1ZM272.1 34.4L276.6 34.4L274.4 31.1L270 31.1ZM298.6 34.4L307.5 34.4L304.5 31.1L295.8 31.1ZM316.2 34.4L320.7 34.4L317.4 31.1L313 31.1ZM88.5 31.2L93.3 31.2L95.8 28L91.2 28ZM102.4 31.2L111.8 31.2L113.9 28L104.8 28ZM121 31.2L125.8 31.2L127.4 28L122.8 28ZM218.5 31.2L227.8 31.2L226.8 28L217.6 28ZM232.4 31.2L237.1 31.2L235.8 28L231.2 28ZM246.3 31.2L251 31.2L249.4 28L244.7 28ZM278.8 31.2L288.2 31.2L285.5 28L276.3 28ZM297.4 31.2L302.1 31.2L299 28L294.4 28ZM306.6 31.2L311.4 31.2L308.1 28L303.4 28ZM86 28.1L91.1 28.1L93.9 25L89 25ZM101 28.1L106.1 28.1L108.4 25L103.5 25ZM110.9 28.1L116 28.1L118.1 25L113.2 25ZM125.9 28.1L131 28.1L132.7 25L127.7 25ZM235.7 28.1L245.8 28.1L244.1 25L234.3 25ZM285.6 28.1L300.7 28.1L297.4 25L282.8 25ZM50.2 25.1L55.6 25.1L59.7 22L54.4 22ZM71.4 25.1L92.8 25.1L95.7 22L75 22ZM98 25.1L103.4 25.1L106 22L100.8 22ZM108.6 25.1L114 25.1L116.3 22L111.1 22ZM289.2 25.1L300 25.1L296.5 22L286.1 22ZM54.4 22.1L60.3 22.1L64.5 19.1L58.8 19.1ZM71.9 22.1L89.4 22.1L92.7 19.1L75.7 19.1ZM135.9 22.1L141.8 22.1L143.4 19.1L137.6 19.1ZM234.9 22.1L240.8 22.1L239.1 19.1L233.3 19.1ZM269.8 22.1L275.7 22.1L272.8 19.1L267.1 19.1ZM287.3 22.1L299 22.1L295.4 19.1L284 19.1ZM65.3 19.2L84.8 19.2L88.5 16.3L69.7 16.3ZM259.5 19.2L266.1 19.2L263.3 16.3L257 16.3ZM272.5 19.2L279 19.2L275.8 16.3L269.5 16.3ZM291.9 19.2L298.5 19.2L294.6 16.3L288.2 16.3ZM261.8 16.4L269.2 16.4L266 13.7L258.8 13.7ZM291.1 16.4L298.6 16.4L294.2 13.7L287 13.7ZM256.8 13.8L265.5 13.8L261.9 11.1L253.7 11.1Z"/>
<path fill="#f1f3ee" d="M337.4 148.1L341.3 148.1L344.2 144.7L340.2 144.7ZM120.4 144.8L124.2 144.8L123.1 141.4L119.2 141.4ZM333.2 144.8L344.3 144.8L347.1 141.4L335.8 141.4ZM122.3 141.5L125.9 141.5L125 138.1L121.2 138.1ZM340 141.5L350.8 141.5L353.4 138.1L342.4 138.1ZM346.3 138.2L353.4 138.2L355.6 134.7L348.5 134.7ZM210.3 134.8L217.1 134.8L217.5 131.4L210.5 131.4ZM294.7 134.8L298.2 134.8L299.5 131.4L296 131.4ZM345.4 134.8L352.2 134.8L354.2 131.4L347.3 131.4ZM128.6 131.5L132 131.5L131.4 128L128 128ZM211.5 131.5L218.3 131.5L218.6 128L211.8 128ZM294.5 131.5L297.9 131.5L299 128L295.6 128ZM209.5 128.1L222.6 128.1L222.9 124.6L209.7 124.6ZM143.6 124.7L146.9 124.7L146.6 121.3L143.3 121.3ZM207.5 124.7L220.3 124.7L220.6 121.3L207.6 121.3ZM309.7 124.7L316.1 124.7L317 121.3L310.5 121.3ZM124.2 121.4L130.5 121.4L130.2 117.9L123.8 117.9ZM118.8 118L121.9 118L121.6 114.6L118.4 114.6ZM140.4 118L143.6 118L143.4 114.6L140.1 114.6ZM217.7 118L220.9 118L221 114.6L217.8 114.6ZM116.6 114.7L119.7 114.7L119.4 111.2L116.2 111.2ZM229.5 114.7L232.7 114.7L232.9 111.2L229.7 111.2ZM138.6 111.3L141.7 111.3L141.5 107.8L138.4 107.8ZM137.3 107.9L140.4 107.9L140.3 104.5L137.2 104.5ZM200.3 107.9L203.4 107.9L203.4 104.5L200.3 104.5ZM332.3 107.9L338.4 107.9L338.8 104.5L332.6 104.5ZM291.2 104.6L297.2 104.6L297.4 101.1L291.4 101.1ZM300.1 104.6L306.2 104.6L306.4 101.1L300.3 101.1ZM309.1 104.6L312.1 104.6L312.4 101.1L309.3 101.1ZM108.3 101.2L111.4 101.2L111.3 97.8L108.2 97.8ZM300.9 101.2L306.9 101.2L307.1 97.8L301 97.8ZM309.8 101.2L312.8 101.2L313 97.8L309.9 97.8ZM129 97.9L132 97.9L132 94.4L128.9 94.4ZM209.1 97.9L212.1 97.9L212.1 94.4L209.1 94.4ZM289.2 97.9L292.2 97.9L292.3 94.4L289.2 94.4ZM301 97.9L313 97.9L313.1 94.4L301.1 94.4ZM114.1 94.5L117.2 94.5L117.2 91L114.1 91ZM120 94.5L123.1 94.5L123.1 91L120.1 91ZM212 94.5L215.1 94.5L215.1 91L212 91ZM229.9 94.5L232.9 94.5L232.9 91L229.8 91ZM286.3 94.5L289.3 94.5L289.3 91L286.2 91ZM301.1 94.5L304.2 94.5L304.1 91L301 91ZM307 94.5L313.1 94.5L313 91L307 91ZM117.1 91.1L123.1 91.1L123.2 87.7L117.2 87.7ZM188.3 91.1L197.3 91.1L197.3 87.7L188.3 87.7ZM200.2 91.1L203.2 91.1L203.2 87.7L200.2 87.7ZM215 91.1L218.1 91.1L218 87.7L215 87.7ZM229.8 91.1L238.8 91.1L238.8 87.7L229.8 87.7ZM289.2 91.1L292.2 91.1L292.1 87.7L289 87.7ZM301 91.1L307.1 91.1L306.9 87.7L300.9 87.7ZM309.9 91.1L313 91.1L312.8 87.7L309.8 87.7ZM121.1 87.8L124.2 87.8L124.3 84.3L121.2 84.3ZM189.8 87.8L192.9 87.8L192.9 84.3L189.8 84.3ZM195.8 87.8L198.9 87.8L198.8 84.3L195.8 84.3ZM228.6 87.8L240.7 87.8L240.6 84.3L228.6 84.3ZM300.3 87.8L303.4 87.8L303.2 84.3L300.1 84.3ZM306.3 87.8L315.4 87.8L315.1 84.3L306.1 84.3ZM122.1 84.4L128.3 84.4L128.4 81L122.3 81ZM230.4 84.4L239.5 84.4L239.4 81L230.3 81ZM293.5 84.4L296.7 84.4L296.4 81L293.3 81ZM308.6 84.4L314.7 84.4L314.4 81L308.3 81ZM183.8 81.1L186.9 81.1L186.9 77.6L183.8 77.6ZM283.6 81.1L286.7 81.1L286.4 77.6L283.2 77.6ZM289.6 81.1L298.8 81.1L298.4 77.6L289.3 77.6ZM304.8 81.1L310.9 81.1L310.5 77.6L304.3 77.6ZM180.6 77.7L183.8 77.7L183.8 74.2L180.7 74.2ZM189.8 77.7L193 77.7L193 74.2L189.8 74.2ZM199 77.7L217.5 77.7L217.4 74.2L199 74.2ZM220.5 77.7L229.8 77.7L229.6 74.2L220.4 74.2ZM235.8 77.7L239 77.7L238.8 74.2L235.6 74.2ZM294.1 77.7L297.3 77.7L296.8 74.2L293.6 74.2ZM303.3 77.7L309.5 77.7L309 74.2L302.8 74.2ZM112.2 74.3L118.5 74.3L118.9 70.9L112.6 70.9ZM171.2 74.3L180.6 74.3L180.7 70.9L171.3 70.9ZM183.6 74.3L196.2 74.3L196.1 70.9L183.7 70.9ZM199.2 74.3L208.6 74.3L208.5 70.9L199.1 70.9ZM214.7 74.3L230.3 74.3L230.1 70.9L214.6 70.9ZM258.2 74.3L261.4 74.3L261 70.9L257.8 70.9ZM304.8 74.3L308 74.3L307.4 70.9L304.2 70.9ZM108.1 71L114.5 71L114.9 67.5L108.5 67.5ZM171 71L180.5 71L180.6 67.5L171.1 67.5ZM186.7 71L215.1 71L215 67.5L186.7 67.5ZM218.2 71L221.4 71L221.3 67.5L218 67.5ZM227.6 71L230.9 71L230.6 67.5L227.4 67.5ZM246.5 71L249.8 71L249.4 67.5L246.2 67.5ZM262.2 71L265.5 71L265.1 67.5L261.8 67.5ZM303.1 71L306.4 71L305.7 67.5L302.5 67.5ZM172.2 67.6L182 67.6L182 64.2L172.3 64.2ZM194.7 67.6L204.5 67.6L204.4 64.2L194.7 64.2ZM207.6 67.6L210.9 67.6L210.8 64.2L207.5 64.2ZM214 67.6L223.8 67.6L223.5 64.2L213.8 64.2ZM246.2 67.6L249.5 67.6L249.1 64.2L245.8 64.2ZM304.1 67.6L307.4 67.6L306.6 64.2L303.3 64.2ZM78.3 64.3L81.6 64.3L82.6 60.8L79.2 60.8ZM173.5 64.3L180.2 64.3L180.3 60.8L173.6 60.8ZM242.5 64.3L245.9 64.3L245.4 60.8L242 60.8ZM285.2 64.3L288.6 64.3L287.7 60.8L284.4 60.8ZM81 60.9L84.5 60.9L85.5 57.4L82.1 57.4ZM218.5 60.9L221.9 60.9L221.6 57.4L218.2 57.4ZM312.3 60.9L315.8 60.9L314.5 57.4L311.1 57.4ZM80.6 57.5L84.1 57.5L85.4 54.1L81.9 54.1ZM237.9 57.5L241.4 57.5L240.8 54.1L237.3 54.1ZM272.1 57.5L275.6 57.5L274.5 54.1L271.1 54.1ZM309.7 57.5L316.6 57.5L315.1 54.1L308.2 54.1ZM91.5 54.2L95.1 54.2L96.4 50.7L92.8 50.7ZM102.1 54.2L105.7 54.2L106.8 50.7L103.2 50.7ZM239.3 54.2L243 54.2L242.2 50.7L238.7 50.7ZM267.5 54.2L271.1 54.2L270 50.7L266.4 50.7ZM306.2 54.2L309.8 54.2L308.2 50.7L304.6 50.7ZM99.5 50.8L103.2 50.8L104.5 47.4L100.9 47.4ZM121.2 50.8L125 50.8L125.9 47.4L122.3 47.4ZM240.9 50.8L244.6 50.8L243.7 47.4L240.1 47.4ZM266.2 50.8L270 50.8L268.7 47.4L265 47.4ZM119.2 47.5L126.8 47.5L127.9 44.1L120.4 44.1ZM130.4 47.5L134.3 47.5L135.2 44.1L131.4 44.1ZM216.3 47.5L220.1 47.5L219.6 44.1L215.8 44.1ZM238.7 47.5L250 47.5L248.9 44.1L237.8 44.1ZM264.8 47.5L268.7 47.5L267.3 44.1L263.5 44.1ZM309.6 47.5L313.5 47.5L311.3 44.1L307.6 44.1ZM105.6 44.2L109.6 44.2L111 40.8L107.1 40.8ZM121 44.2L128.8 44.2L129.9 40.8L122.2 40.8ZM247.9 44.2L251.9 44.2L250.7 40.8L246.8 40.8ZM313.3 44.2L317.2 44.2L314.9 40.8L311 40.8ZM120 40.9L132.2 40.9L133.3 37.5L121.4 37.5ZM252.6 40.9L256.7 40.9L255.3 37.5L251.3 37.5ZM312.8 40.9L316.9 40.9L314.3 37.5L310.3 37.5ZM320.9 40.9L325 40.9L322.2 37.5L318.2 37.5ZM106.3 37.6L110.6 37.6L112.4 34.3L108.2 34.3ZM123.1 37.6L127.4 37.6L128.8 34.3L124.6 34.3ZM177.8 37.6L186.3 37.6L186.3 34.3L178 34.3ZM253.5 37.6L257.8 37.6L256.2 34.3L252 34.3ZM261.9 37.6L270.4 37.6L268.5 34.3L260.2 34.3ZM303.9 37.6L308.2 37.6L305.5 34.3L301.3 34.3ZM51.6 34.4L56.1 34.4L59.4 31.1L55 31.1ZM100.1 34.4L104.6 34.4L106.7 31.1L102.3 31.1ZM183.9 34.4L188.4 34.4L188.4 31.1L184 31.1ZM219.2 34.4L223.7 34.4L222.8 31.1L218.4 31.1ZM267.7 34.4L272.2 34.4L270.1 31.1L265.7 31.1ZM320.6 34.4L325.1 34.4L321.7 31.1L317.3 31.1ZM70 31.2L74.7 31.2L77.8 28L73.2 28ZM181.3 31.2L186.1 31.2L186.1 28L181.5 28ZM227.7 31.2L232.5 31.2L231.3 28L226.7 28ZM264.9 31.2L278.9 31.2L276.4 28L262.8 28ZM302 31.2L306.7 31.2L303.5 28L298.9 28ZM315.9 31.2L325.3 31.2L321.6 28L312.5 28ZM56.1 28.1L61.1 28.1L64.8 25L59.9 25ZM71 28.1L76.1 28.1L79.4 25L74.4 25ZM135.9 28.1L141 28.1L142.4 25L137.4 25ZM215.7 28.1L235.8 28.1L234.4 25L215 25ZM245.7 28.1L250.8 28.1L249 25L244 25ZM260.7 28.1L270.7 28.1L268.4 25L258.6 25ZM280.6 28.1L285.7 28.1L282.9 25L278 25ZM300.6 28.1L305.7 28.1L302.3 25L297.3 25ZM315.6 28.1L330.6 28.1L326.5 25L311.9 25ZM55.5 25.1L60.9 25.1L64.8 22L59.6 22ZM66.1 25.1L71.5 25.1L75.1 22L69.9 22ZM214.9 25.1L241.5 25.1L239.9 22L214 22ZM283.9 25.1L289.3 25.1L286.2 22L281 22ZM60.2 22.1L72 22.1L75.8 19.1L64.4 19.1ZM217.4 22.1L235 22.1L233.4 19.1L216.4 19.1ZM252.3 22.1L258.2 22.1L256 19.1L250.2 19.1ZM264 22.1L269.9 22.1L267.2 19.1L261.5 19.1ZM275.6 22.1L287.4 22.1L284.1 19.1L272.7 19.1ZM316.4 22.1L322.3 22.1L317.9 19.1L312.2 19.1ZM220.7 19.2L227.2 19.2L225.9 16.3L219.5 16.3ZM233.6 19.2L240.2 19.2L238.4 16.3L232 16.3ZM246.6 19.2L253.1 19.2L250.8 16.3L244.5 16.3ZM232.4 16.4L239.8 16.4L237.8 13.7L230.6 13.7ZM247.1 16.4L254.5 16.4L251.9 13.7L244.7 13.7Z"/>
<path fill="#dbddb5" d="M125.8 141.5L129.5 141.5L128.6 138.1L124.9 138.1ZM125.3 131.5L128.7 131.5L128.1 128L124.6 128ZM218 121.4L221.3 121.4L221.4 117.9L218.2 117.9ZM308.8 121.4L312 121.4L312.7 117.9L309.4 117.9ZM220.8 118L223.9 118L224.1 114.6L220.9 114.6ZM144 114.7L150.2 114.7L150.1 111.2L143.8 111.2ZM220.4 114.7L226.6 114.7L226.7 111.2L220.5 111.2ZM150.6 111.3L153.7 111.3L153.6 107.8L150.5 107.8ZM146.3 107.9L149.4 107.9L149.3 104.5L146.2 104.5ZM154 104.6L157.1 104.6L157 101.1L153.9 101.1ZM201.7 104.6L204.8 104.6L204.8 101.1L201.7 101.1ZM207.7 104.6L210.8 104.6L210.8 101.1L207.7 101.1ZM206.1 101.2L209.1 101.2L209.2 97.8L206.1 97.8ZM215 101.2L218 101.2L218.1 97.8L215 97.8ZM223.9 101.2L226.9 101.2L227 97.8L223.9 97.8ZM286.2 97.9L289.3 97.9L289.3 94.4L286.3 94.4ZM197.2 94.5L200.3 94.5L200.3 91L197.2 91ZM209.1 91.1L212.1 91.1L212.1 87.7L209 87.7ZM223.9 91.1L227 91.1L226.9 87.7L223.9 87.7ZM127.1 87.8L133.1 87.8L133.2 84.3L127.2 84.3ZM201.7 87.8L204.8 87.8L204.8 84.3L201.7 84.3ZM213.7 87.8L216.8 87.8L216.7 84.3L213.6 84.3ZM267.5 87.8L270.6 87.8L270.4 84.3L267.3 84.3ZM191.3 84.4L194.4 84.4L194.4 81L191.3 81ZM221.4 84.4L224.5 84.4L224.4 81L221.3 81ZM260.5 84.4L263.6 84.4L263.4 81L260.3 81ZM287.5 84.4L290.6 84.4L290.4 81L287.3 81ZM186.8 81.1L189.9 81.1L189.9 77.6L186.8 77.6ZM198.9 81.1L202 81.1L202 77.6L198.8 77.6ZM208 81.1L217.1 81.1L217 77.6L207.9 77.6ZM223.1 81.1L226.2 81.1L226.1 77.6L223 77.6ZM262.4 81.1L265.5 81.1L265.3 77.6L262.1 77.6ZM260.4 77.7L263.5 77.7L263.2 74.2L260 74.2ZM269.6 77.7L272.7 77.7L272.3 74.2L269.2 74.2ZM264.4 74.3L273.8 74.3L273.4 70.9L264 70.9ZM104.9 71L108.2 71L108.6 67.5L105.4 67.5ZM268.5 71L271.8 71L271.3 67.5L268.1 67.5ZM229.4 64.3L232.7 64.3L232.4 60.8L229 60.8ZM235.9 64.3L239.3 64.3L238.9 60.8L235.5 60.8ZM268.8 64.3L272.2 64.3L271.4 60.8L268.1 60.8ZM275.4 64.3L278.7 64.3L278 60.8L274.6 60.8ZM295.6 60.9L299 60.9L297.9 57.4L294.5 57.4ZM73.8 57.5L77.3 57.5L78.6 54.1L75.1 54.1ZM94.3 57.5L97.8 57.5L98.9 54.1L95.4 54.1ZM220.8 57.5L224.3 57.5L223.9 54.1L220.4 54.1ZM77.4 54.2L81 54.2L82.5 50.7L78.9 50.7ZM105.6 54.2L109.2 54.2L110.3 50.7L106.7 50.7ZM114 50.8L117.7 50.8L118.8 47.4L115.1 47.4ZM291.6 50.8L295.3 50.8L293.7 47.4L290 47.4ZM298.9 50.8L302.6 50.8L300.8 47.4L297.2 47.4ZM227.5 47.5L231.3 47.5L230.6 44.1L226.8 44.1ZM236.4 44.2L240.3 44.2L239.4 40.8L235.5 40.8ZM244.5 40.9L248.7 40.9L247.4 37.5L243.4 37.5ZM139.9 37.6L144.3 37.6L145.3 34.3L141.1 34.3ZM224 37.6L228.3 37.6L227.4 34.3L223.2 34.3ZM135.4 34.4L139.9 34.4L141.1 31.1L136.7 31.1ZM228 34.4L236.9 34.4L235.7 31.1L227 31.1ZM250 34.4L254.6 34.4L252.9 31.1L248.5 31.1ZM255.7 28.1L260.8 28.1L258.7 25L253.7 25ZM124.6 25.1L130 25.1L131.8 22L126.5 22ZM257.4 25.1L262.8 25.1L260.5 22L255.2 22ZM101 22.1L118.6 22.1L120.8 19.1L103.9 19.1ZM104.1 19.2L110.7 19.2L113.5 16.3L107.1 16.3Z"/>
<path fill="#c6c892" d="M129.4 141.5L133.1 141.5L132.2 138.1L128.5 138.1ZM127.5 138.2L131.1 138.2L130.3 134.7L126.7 134.7ZM210.7 104.6L216.7 104.6L216.8 101.1L210.7 101.1ZM222.6 104.6L225.7 104.6L225.7 101.1L222.7 101.1ZM200.2 101.2L203.2 101.2L203.2 97.8L200.2 97.8ZM137.9 97.9L140.9 97.9L140.9 94.4L137.8 94.4ZM194.2 97.9L203.2 97.9L203.2 94.4L194.2 94.4ZM215 97.9L221 97.9L221.1 94.4L215 94.4ZM126 94.5L129 94.5L129.1 91L126 91ZM203.1 94.5L209.2 94.5L209.2 91L203.1 91ZM221 94.5L224 94.5L224 91L220.9 91ZM203.1 91.1L209.2 91.1L209.1 87.7L203.1 87.7ZM210.7 87.8L213.8 87.8L213.7 84.3L210.7 84.3ZM194.3 84.4L206.4 84.4L206.4 81L194.3 81ZM209.3 84.4L215.5 84.4L215.4 81L209.3 81ZM101.8 71L105 71L105.5 67.5L102.3 67.5ZM111.1 67.6L114.4 67.6L114.9 64.2L111.7 64.2ZM271.9 67.6L275.2 67.6L274.6 64.2L271.3 64.2ZM107.8 64.3L114.5 64.3L115.1 60.8L108.5 60.8ZM107.8 60.9L111.3 60.9L112.1 57.4L108.7 57.4ZM225.2 60.9L228.6 60.9L228.2 57.4L224.8 57.4ZM298.9 60.9L305.7 60.9L304.5 57.4L297.8 57.4ZM97.7 57.5L111.5 57.5L112.4 54.1L98.8 54.1ZM234.4 57.5L238 57.5L237.4 54.1L233.9 54.1ZM292.6 57.5L296.1 57.5L294.8 54.1L291.3 54.1ZM109.1 54.2L116.2 54.2L117.2 50.7L110.2 50.7ZM224.8 44.2L236.5 44.2L235.6 40.8L224.2 40.8ZM228.2 37.6L236.8 37.6L235.6 34.3L227.3 34.3ZM93.2 31.2L102.5 31.2L104.9 28L95.7 28ZM110.6 19.2L117.2 19.2L119.7 16.3L113.4 16.3ZM107.5 16.4L114.9 16.4L117.9 13.7L110.7 13.7Z"/>
<path fill="#737440" d="M120.6 138.2L124.2 138.2L123.3 134.7L119.7 134.7ZM221.3 107.9L224.4 107.9L224.5 104.5L221.4 104.5ZM278.6 64.3L282 64.3L281.2 60.8L277.9 60.8ZM128.4 13.8L137 13.8L139.4 11.1L131.1 11.1Z"/>
<path fill="#555627" d="M124.1 138.2L127.6 138.2L126.8 134.7L123.2 134.7ZM282.4 87.8L285.5 87.8L285.3 84.3L282.2 84.3ZM313.4 50.8L320.7 50.8L318.7 47.4L311.4 47.4ZM172.4 25.1L177.8 25.1L178.1 22L172.9 22ZM283.8 16.4L291.2 16.4L287.1 13.7L280 13.7Z"/>
<path fill="#b5b780" d="M119.1 134.8L122.5 134.8L121.7 131.4L118.2 131.4ZM118.6 131.5L122 131.5L121.4 128L117.9 128ZM142.9 121.4L149.3 121.4L149.1 117.9L142.7 117.9ZM143.5 118L146.7 118L146.5 114.6L143.3 114.6ZM224.3 107.9L227.4 107.9L227.5 104.5L224.4 104.5ZM142.1 104.6L145.2 104.6L145.1 101.1L142 101.1ZM148 104.6L154.1 104.6L154 101.1L148 101.1ZM216.6 104.6L219.7 104.6L219.8 101.1L216.7 101.1ZM225.6 104.6L228.7 104.6L228.7 101.1L225.6 101.1ZM149.8 101.2L152.8 101.2L152.8 97.8L149.7 97.8ZM220.9 91.1L224 91.1L224 87.7L220.9 87.7ZM204.7 87.8L210.8 87.8L210.8 84.3L204.7 84.3ZM216.7 87.8L222.8 87.8L222.7 84.3L216.6 84.3ZM206.3 84.4L209.4 84.4L209.4 81L206.3 81ZM284.5 84.4L287.6 84.4L287.4 81L284.3 81ZM101.2 64.3L104.6 64.3L105.4 60.8L102 60.8ZM97.8 60.9L101.2 60.9L102.1 57.4L98.7 57.4ZM104.5 60.9L107.9 60.9L108.8 57.4L105.4 57.4ZM111.2 60.9L114.6 60.9L115.4 57.4L112 57.4ZM228.5 60.9L235.3 60.9L234.8 57.4L228.1 57.4ZM111.4 57.5L118.3 57.5L119.2 54.1L112.3 54.1ZM224.2 57.5L227.7 57.5L227.2 54.1L223.8 54.1ZM296 57.5L299.5 57.5L298.2 54.1L294.7 54.1ZM295.7 54.2L299.3 54.2L297.8 50.7L294.2 50.7ZM313.3 54.2L316.9 54.2L315.2 50.7L311.6 50.7ZM110.4 50.8L114.1 50.8L115.2 47.4L111.6 47.4ZM109.5 44.2L117.2 44.2L118.6 40.8L110.9 40.8ZM228.5 40.9L236.6 40.9L235.6 37.5L227.7 37.5ZM236.7 37.6L241 37.6L239.8 34.3L235.5 34.3ZM96 28.1L101.1 28.1L103.6 25L98.6 25ZM136.5 19.2L143.1 19.2L144.7 16.3L138.3 16.3ZM285.4 19.2L292 19.2L288.3 16.3L282 16.3ZM111.2 13.8L119.9 13.8L123 11.1L114.8 11.1Z"/>
<path fill="#45461a" d="M122.4 134.8L125.9 134.8L125.2 131.4L121.6 131.4ZM288.4 87.8L291.5 87.8L291.3 84.3L288.2 84.3ZM170.8 28.1L175.9 28.1L176.3 25L171.3 25ZM170.8 22.1L176.8 22.1L177.1 19.1L171.4 19.1ZM130.8 6.9L153.9 6.9L155.5 5.2L133.4 5.2Z"/>
<path fill="#a4a66f" d="M125.8 134.8L129.3 134.8L128.6 131.4L125.1 131.4ZM121.9 131.5L125.4 131.5L124.7 128L121.3 128ZM304.2 118L307.4 118L308 114.6L304.8 114.6ZM310.4 118L313.6 118L314.2 114.6L311 114.6ZM305.8 114.7L309 114.7L309.5 111.2L306.4 111.2ZM218.3 107.9L221.4 107.9L221.5 104.5L218.4 104.5ZM145.1 104.6L148.1 104.6L148.1 101.1L145 101.1ZM146.8 101.2L149.9 101.2L149.8 97.8L146.8 97.8ZM220.9 101.2L224 101.2L224 97.8L220.9 97.8ZM218 94.5L221.1 94.5L221 91L218 91ZM218 91.1L221 91.1L221 87.7L217.9 87.7ZM101.1 60.9L104.6 60.9L105.5 57.4L102 57.4ZM278.8 60.9L282.3 60.9L281.3 57.4L277.9 57.4ZM108 47.5L115.6 47.5L116.8 44.1L109.4 44.1ZM118.5 22.1L130.2 22.1L132.1 19.1L120.7 19.1ZM117.1 19.2L123.7 19.2L126 16.3L119.6 16.3ZM114.8 16.4L122.3 16.4L124.9 13.7L117.8 13.7Z"/>
<path fill="#e4e6c7" d="M129.2 134.8L132.7 134.8L132 131.4L128.5 131.4ZM118.3 128.1L121.6 128.1L121.1 124.6L117.7 124.6ZM124.8 128.1L128.2 128.1L127.6 124.6L124.2 124.6ZM118 124.7L127.7 124.7L127.3 121.3L117.6 121.3ZM226.5 114.7L229.6 114.7L229.8 111.2L226.6 111.2ZM144.6 111.3L147.7 111.3L147.6 107.8L144.4 107.8ZM226 111.3L229.1 111.3L229.2 107.8L226.1 107.8ZM232 111.3L238.1 111.3L238.3 107.8L232.2 107.8ZM143.3 107.9L146.4 107.9L146.3 104.5L143.2 104.5ZM137.9 101.2L141 101.2L140.9 97.8L137.9 97.8ZM206.1 97.9L209.2 97.9L209.2 94.4L206.1 94.4ZM223.9 97.9L227 97.9L227 94.4L223.9 94.4ZM295.1 97.9L301.1 97.9L301.2 94.4L295.2 94.4ZM123 94.5L126.1 94.5L126.1 91L123 91ZM131.9 94.5L135 94.5L135 91L131.9 91ZM194.2 94.5L197.3 94.5L197.3 91L194.2 91ZM223.9 94.5L227 94.5L227 91L223.9 91ZM123 91.1L126.1 91.1L126.2 87.7L123.1 87.7ZM131.9 91.1L135 91.1L135.1 87.7L132 87.7ZM226.9 91.1L229.9 91.1L229.9 87.7L226.8 87.7ZM124.1 87.8L127.2 87.8L127.3 84.3L124.2 84.3ZM225.6 87.8L228.7 87.8L228.7 84.3L225.6 84.3ZM261.5 87.8L267.6 87.8L267.4 84.3L261.4 84.3ZM224.4 84.4L230.5 84.4L230.4 81L224.3 81ZM263.5 84.4L269.6 84.4L269.4 81L263.3 81ZM217 81.1L223.2 81.1L223.1 77.6L216.9 77.6ZM259.4 81.1L262.5 81.1L262.2 77.6L259.1 77.6ZM265.4 81.1L268.6 81.1L268.3 77.6L265.2 77.6ZM257.3 77.7L260.5 77.7L260.1 74.2L257 74.2ZM263.4 77.7L269.7 77.7L269.3 74.2L263.1 74.2ZM99.8 74.3L103 74.3L103.4 70.9L100.2 70.9ZM261.3 74.3L264.5 74.3L264.1 70.9L260.9 70.9ZM98.6 71L101.9 71L102.4 67.5L99.1 67.5ZM265.4 71L268.6 71L268.2 67.5L265 67.5ZM274.8 71L278.1 71L277.6 67.5L274.3 67.5ZM233.3 67.6L239.9 67.6L239.5 64.2L233 64.2ZM275.1 67.6L278.4 67.6L277.8 64.2L274.5 64.2ZM222.8 64.3L229.5 64.3L229.1 60.8L222.5 60.8ZM239.2 64.3L242.6 64.3L242.1 60.8L238.8 60.8ZM272.1 64.3L275.5 64.3L274.7 60.8L271.3 60.8ZM292.2 60.9L295.7 60.9L294.6 57.4L291.2 57.4ZM77.2 57.5L80.7 57.5L82 54.1L78.5 54.1ZM289.1 57.5L292.7 57.5L291.4 54.1L287.9 54.1ZM98.5 54.2L102.2 54.2L103.3 50.7L99.7 50.7ZM116.1 54.2L119.8 54.2L120.7 50.7L117.1 50.7ZM225.3 54.2L228.9 54.2L228.3 50.7L224.8 50.7ZM278.1 54.2L281.7 54.2L280.4 50.7L276.9 50.7ZM288.6 54.2L292.2 54.2L290.8 50.7L287.3 50.7ZM299.2 54.2L306.3 54.2L304.7 50.7L297.7 50.7ZM106.7 50.8L110.5 50.8L111.7 47.4L108 47.4ZM273.5 50.8L277.2 50.8L275.8 47.4L272.2 47.4ZM280.7 50.8L291.7 50.8L290.1 47.4L279.3 47.4ZM295.2 50.8L299 50.8L297.3 47.4L293.6 47.4ZM276 47.5L279.9 47.5L278.3 44.1L274.5 44.1ZM283.5 47.5L302.3 47.5L300.3 44.1L281.9 44.1ZM313.4 47.5L320.9 47.5L318.7 44.1L311.2 44.1ZM136.4 44.2L144.2 44.2L145 40.8L137.3 40.8ZM217.1 44.2L221.1 44.2L220.5 40.8L216.6 40.8ZM274.8 44.2L301.9 44.2L299.8 40.8L273.2 40.8ZM108 40.9L112.1 40.9L113.6 37.5L109.6 37.5ZM136.1 40.9L144.2 40.9L145.1 37.5L137.1 37.5ZM268.6 40.9L276.8 40.9L275 37.5L267 37.5ZM280.7 40.9L300.9 40.9L298.6 37.5L278.8 37.5ZM131.5 37.6L140 37.6L141.2 34.3L132.8 34.3ZM219.8 37.6L224.1 37.6L223.3 34.3L219.1 34.3ZM249.3 37.6L253.6 37.6L252.1 34.3L247.9 34.3ZM270.3 37.6L287.2 37.6L284.9 34.3L268.4 34.3ZM291.3 37.6L295.6 37.6L293.2 34.3L288.9 34.3ZM122.1 34.4L135.5 34.4L136.8 31.1L123.8 31.1ZM276.5 34.4L298.7 34.4L295.9 31.1L274.3 31.1ZM111.7 31.2L116.5 31.2L118.4 28L113.8 28ZM125.7 31.2L139.7 31.2L141 28L127.3 28ZM237 31.2L246.4 31.2L244.8 28L235.7 28ZM250.9 31.2L255.7 31.2L253.9 28L249.3 28ZM288.1 31.2L297.5 31.2L294.5 28L285.4 28ZM91 28.1L96.1 28.1L98.7 25L93.8 25ZM106 28.1L111 28.1L113.3 25L108.3 25ZM115.9 28.1L126 28.1L127.8 25L118 25ZM250.7 28.1L255.8 28.1L253.8 25L248.9 25ZM92.7 25.1L98.1 25.1L100.9 22L95.6 22ZM103.3 25.1L108.7 25.1L111.2 22L105.9 22ZM113.9 25.1L119.3 25.1L121.5 22L116.2 22ZM252 25.1L257.5 25.1L255.3 22L250.1 22ZM89.3 22.1L101.1 22.1L104 19.1L92.6 19.1ZM258.1 22.1L264.1 22.1L261.6 19.1L255.9 19.1ZM84.7 19.2L104.2 19.2L107.2 16.3L88.4 16.3ZM253 19.2L259.6 19.2L257.1 16.3L250.7 16.3ZM266 19.2L272.6 19.2L269.6 16.3L263.2 16.3ZM278.9 19.2L285.5 19.2L282.1 16.3L275.7 16.3ZM254.4 16.4L261.9 16.4L258.9 13.7L251.8 13.7ZM269.1 16.4L283.9 16.4L280.1 13.7L265.9 13.7Z"/>
<path fill="#9fbad2" d="M328.5 134.8L332 134.8L333.7 131.4L330.2 131.4ZM135.2 131.5L142 131.5L141.5 128L134.7 128ZM321 131.5L331.1 131.5L332.6 128L322.4 128ZM134.6 128.1L137.9 128.1L137.5 124.6L134.1 124.6ZM316 124.7L325.7 124.7L326.7 121.3L316.9 121.3ZM315 121.4L318.3 121.4L319 117.9L315.7 117.9ZM313.5 118L316.7 118L317.3 114.6L314.1 114.6ZM115.2 104.6L118.3 104.6L118.2 101.1L115.1 101.1ZM121.2 104.6L127.3 104.6L127.2 101.1L121.1 101.1ZM114.2 101.2L120.3 101.2L120.2 97.8L114.1 97.8ZM120.1 97.9L123.1 97.9L123.1 94.4L120 94.4ZM179.4 91.1L182.5 91.1L182.5 87.7L179.4 87.7ZM180.8 87.8L183.9 87.8L183.9 84.3L180.8 84.3ZM101.1 84.4L107.2 84.4L107.4 81L101.3 81ZM105.1 81.1L108.2 81.1L108.5 77.6L105.4 77.6ZM288 77.7L291.1 77.7L290.7 74.2L287.5 74.2ZM87.3 74.3L90.5 74.3L91 70.9L87.8 70.9ZM86 71L95.6 71L96.1 67.5L86.6 67.5ZM287.4 71L290.7 71L290.1 67.5L286.9 67.5ZM293.7 71L297 71L296.4 67.5L293.1 67.5ZM249.4 67.6L252.7 67.6L252.3 64.2L249 64.2ZM288 67.6L294.5 67.6L293.8 64.2L287.3 64.2ZM88.1 64.3L91.5 64.3L92.3 60.8L89 60.8ZM184.9 60.9L188.4 60.9L188.4 57.4L185 57.4ZM191.7 60.9L195.1 60.9L195 57.4L191.6 57.4ZM193.4 57.5L200.4 57.5L200.2 54.1L193.4 54.1ZM190.1 54.2L193.7 54.2L193.6 50.7L190 50.7ZM207.7 54.2L211.3 54.2L211 50.7L207.4 50.7ZM232.3 54.2L235.9 54.2L235.3 50.7L231.7 50.7ZM197.4 50.8L201.1 50.8L200.9 47.4L197.2 47.4ZM93.1 47.5L96.9 47.5L98.5 44.1L94.7 44.1ZM100.6 47.5L104.4 47.5L105.8 44.1L102.1 44.1ZM201.4 47.5L205.2 47.5L204.9 44.1L201.1 44.1ZM90.2 44.2L94.2 44.2L95.9 40.8L92 40.8ZM194.1 44.2L198 44.2L197.8 40.8L194 40.8ZM87.9 40.9L92 40.9L94 37.5L89.9 37.5ZM103.9 40.9L108.1 40.9L109.7 37.5L105.7 37.5ZM192.3 40.9L208.5 40.9L208.1 37.5L192.2 37.5ZM89.5 37.6L93.8 37.6L96 34.3L91.8 34.3ZM198.8 37.6L203.1 37.6L202.8 34.3L198.6 34.3ZM201.5 34.4L206 34.4L205.6 31.1L201.2 31.1ZM83.9 31.2L88.6 31.2L91.3 28L86.7 28ZM231.1 13.8L239.8 13.8L237.4 11.1L229.2 11.1Z"/>
<path fill="#86a8c6" d="M331 131.5L334.4 131.5L335.9 128L332.5 128ZM323.5 128.1L333.3 128.1L334.6 124.6L324.6 124.6ZM134 124.7L137.3 124.7L136.9 121.3L133.6 121.3ZM335.2 124.7L338.5 124.7L339.5 121.3L336.2 121.3ZM131.1 118L134.3 118L134 114.6L130.8 114.6ZM214.6 118L217.8 118L217.9 114.6L214.7 114.6ZM131.8 114.7L138 114.7L137.8 111.2L131.6 111.2ZM311.9 114.7L315.1 114.7L315.7 111.2L312.5 111.2ZM330.2 114.7L333.4 114.7L334.1 111.2L330.9 111.2ZM310.4 111.3L313.5 111.3L313.9 107.8L310.8 107.8ZM126.1 101.2L129.1 101.2L129.1 97.8L126 97.8ZM289 101.2L292.1 101.2L292.2 97.8L289.2 97.8ZM123 97.9L126.1 97.9L126.1 94.4L123 94.4ZM185.3 91.1L188.4 91.1L188.4 87.7L185.3 87.7ZM183.8 87.8L186.9 87.8L186.9 84.3L183.8 84.3ZM88.6 77.7L91.8 77.7L92.2 74.2L89.1 74.2ZM90.4 74.3L93.7 74.3L94.1 70.9L90.9 70.9ZM96.7 74.3L99.9 74.3L100.3 70.9L97.1 70.9ZM252.8 71L256 71L255.7 67.5L252.4 67.5ZM252.6 67.6L259.1 67.6L258.7 64.2L252.2 64.2ZM252.4 64.3L255.7 64.3L255.2 60.8L251.8 60.8ZM258.9 64.3L265.6 64.3L264.9 60.8L258.3 60.8ZM188.3 60.9L191.8 60.9L191.7 57.4L188.3 57.4ZM252 60.9L258.8 60.9L258.1 57.4L251.3 57.4ZM262.1 60.9L265.5 60.9L264.7 57.4L261.3 57.4ZM183.2 57.5L190.1 57.5L190.1 54.1L183.2 54.1ZM251.5 57.5L255.1 57.5L254.3 54.1L250.8 54.1ZM258.4 57.5L261.9 57.5L261 54.1L257.5 54.1ZM214.7 54.2L218.3 54.2L217.9 50.7L214.3 50.7ZM215.5 50.8L219.2 50.8L218.7 47.4L215.1 47.4ZM231.2 47.5L235.1 47.5L234.3 44.1L230.5 44.1ZM74.8 44.2L82.6 44.2L84.6 40.8L76.9 40.8ZM94.1 44.2L98 44.2L99.7 40.8L95.8 40.8ZM197.9 44.2L201.9 44.2L201.6 40.8L197.7 40.8ZM194.6 37.6L198.9 37.6L198.7 34.3L194.5 34.3ZM81 28.1L86.1 28.1L89.1 25L84.1 25Z"/>
<path fill="#d0d2a4" d="M121.5 128.1L124.9 128.1L124.3 124.6L121 124.6ZM221.2 121.4L224.4 121.4L224.6 117.9L221.3 117.9ZM305.6 121.4L308.9 121.4L309.5 117.9L306.3 117.9ZM146.6 118L152.9 118L152.7 114.6L146.4 114.6ZM150.1 114.7L153.3 114.7L153.1 111.2L150 111.2ZM147.6 111.3L150.7 111.3L150.6 107.8L147.5 107.8ZM149.3 107.9L155.4 107.9L155.3 104.5L149.2 104.5ZM215.3 107.9L218.4 107.9L218.5 104.5L215.4 104.5ZM227.3 107.9L230.4 107.9L230.5 104.5L227.4 104.5ZM198.7 104.6L201.8 104.6L201.8 101.1L198.8 101.1ZM204.7 104.6L207.8 104.6L207.8 101.1L204.7 101.1ZM197.2 101.2L200.3 101.2L200.3 97.8L197.2 97.8ZM203.1 101.2L206.2 101.2L206.2 97.8L203.1 97.8ZM203.1 97.9L206.2 97.9L206.2 94.4L203.1 94.4ZM220.9 97.9L224 97.9L224 94.4L221 94.4ZM128.9 94.5L132 94.5L132 91L129 91ZM137.8 94.5L140.9 94.5L140.9 91L137.9 91ZM200.2 94.5L203.2 94.5L203.2 91L200.2 91ZM209.1 94.5L212.1 94.5L212.1 91L209.1 91ZM215 94.5L218.1 94.5L218.1 91L215 91ZM126 91.1L132 91.1L132.1 87.7L126.1 87.7ZM222.7 87.8L225.7 87.8L225.7 84.3L222.6 84.3ZM215.4 84.4L221.5 84.4L221.4 81L215.3 81ZM189.8 81.1L199 81.1L198.9 77.6L189.8 77.6ZM201.9 81.1L208.1 81.1L208 77.6L201.9 77.6ZM102.9 74.3L106.1 74.3L106.5 70.9L103.3 70.9ZM271.7 71L274.9 71L274.4 67.5L271.2 67.5ZM107.9 67.6L111.2 67.6L111.8 64.2L108.5 64.2ZM268.7 67.6L272 67.6L271.4 64.2L268.1 64.2ZM98 64.3L101.3 64.3L102.1 60.8L98.7 60.8ZM232.6 64.3L236 64.3L235.6 60.8L232.3 60.8ZM221.8 60.9L225.3 60.9L224.9 57.4L221.5 57.4ZM235.2 60.9L238.7 60.9L238.2 57.4L234.7 57.4ZM299.4 57.5L302.9 57.5L301.6 54.1L298.1 54.1ZM316.5 57.5L320 57.5L318.4 54.1L315 54.1ZM73.9 54.2L77.5 54.2L79 50.7L75.4 50.7ZM95 54.2L98.6 54.2L99.8 50.7L96.3 50.7ZM292.1 54.2L295.8 54.2L294.3 50.7L290.7 50.7ZM74.1 50.8L77.8 50.8L79.5 47.4L75.9 47.4ZM115.5 47.5L119.3 47.5L120.5 44.1L116.7 44.1ZM221 44.2L224.9 44.2L224.3 40.8L220.4 40.8ZM112 40.9L116.1 40.9L117.6 37.5L113.5 37.5ZM220.4 40.9L228.6 40.9L227.8 37.5L219.8 37.5ZM236.5 40.9L244.6 40.9L243.5 37.5L235.5 37.5ZM240.9 37.6L249.4 37.6L248 34.3L239.7 34.3ZM236.8 34.4L250.1 34.4L248.6 31.1L235.6 31.1ZM119.2 25.1L124.7 25.1L126.6 22L121.4 22ZM100.1 16.4L107.6 16.4L110.8 13.7L103.7 13.7Z"/>
<path fill="#7098bb" d="M137.8 128.1L141.2 128.1L140.8 124.6L137.4 124.6ZM333.2 128.1L336.6 128.1L337.9 124.6L334.5 124.6ZM325.6 124.7L335.3 124.7L336.3 121.3L326.6 121.3ZM318.2 121.4L330.8 121.4L331.6 117.9L318.9 117.9ZM199.1 118L202.3 118L202.4 114.6L199.2 114.6ZM325.8 118L332.1 118L332.9 114.6L326.5 114.6ZM209.3 107.9L212.4 107.9L212.5 104.5L209.3 104.5ZM308.3 107.9L314.4 107.9L314.7 104.5L308.6 104.5ZM120.2 101.2L126.2 101.2L126.1 97.8L120.1 97.8ZM182.4 91.1L185.4 91.1L185.4 87.7L182.4 87.7ZM102.1 81.1L105.2 81.1L105.5 77.6L102.4 77.6ZM100.9 77.7L104.1 77.7L104.5 74.2L101.3 74.2ZM286.2 74.3L292.5 74.3L291.9 70.9L285.7 70.9ZM255.6 64.3L259 64.3L258.4 60.8L255.1 60.8ZM178.2 60.9L185 60.9L185.1 57.4L178.3 57.4ZM258.7 60.9L262.2 60.9L261.4 57.4L258 57.4ZM190 57.5L193.5 57.5L193.5 54.1L190 54.1ZM255 57.5L258.5 57.5L257.6 54.1L254.2 54.1ZM183 54.2L186.6 54.2L186.7 50.7L183.1 50.7ZM211.2 54.2L214.8 54.2L214.4 50.7L210.9 50.7ZM211.9 50.8L215.6 50.8L215.2 47.4L211.5 47.4ZM230 50.8L233.7 50.8L233 47.4L229.3 47.4ZM101.8 44.2L105.7 44.2L107.2 40.8L103.4 40.8ZM91.9 40.9L96 40.9L97.9 37.5L93.9 37.5Z"/>
<path fill="#5987b0" d="M141.1 128.1L144.4 128.1L144.1 124.6L140.7 124.6ZM133.5 121.4L136.8 121.4L136.5 117.9L133.2 117.9ZM134.2 118L137.4 118L137.1 114.6L133.9 114.6ZM202.2 118L205.4 118L205.5 114.6L202.3 114.6ZM316.6 118L319.8 118L320.4 114.6L317.2 114.6ZM322.7 118L325.9 118L326.6 114.6L323.4 114.6ZM217.3 114.7L220.5 114.7L220.6 111.2L217.4 111.2ZM315 114.7L318.1 114.7L318.7 111.2L315.6 111.2ZM321.1 114.7L324.2 114.7L324.9 111.2L321.7 111.2ZM316.4 111.3L319.5 111.3L320 107.8L316.9 107.8ZM206.3 107.9L209.4 107.9L209.4 104.5L206.3 104.5ZM317.3 107.9L323.4 107.9L323.7 104.5L317.6 104.5ZM312 104.6L315.1 104.6L315.4 101.1L312.3 101.1ZM91.7 77.7L94.9 77.7L95.3 74.2L92.1 74.2ZM93.6 74.3L96.8 74.3L97.2 70.9L94 70.9ZM233.6 50.8L237.3 50.8L236.6 47.4L232.9 47.4ZM81.1 37.6L85.4 37.6L87.8 34.3L83.5 34.3ZM93.7 37.6L98 37.6L100.1 34.3L95.9 34.3Z"/>
<path fill="#2b5a8d" d="M139.8 121.4L143 121.4L142.8 117.9L139.5 117.9ZM137.3 118L140.5 118L140.2 114.6L137 114.6ZM205.3 118L208.5 118L208.6 114.6L205.4 114.6ZM202 114.7L205.2 114.7L205.3 111.2L202.1 111.2ZM214.2 114.7L217.4 114.7L217.5 111.2L214.4 111.2ZM198.8 111.3L202 111.3L202 107.8L198.9 107.8Z"/>
<path fill="#2c1a4c" d="M330.7 121.4L333.9 121.4L334.7 117.9L331.5 117.9ZM204.9 111.3L211 111.3L211.1 107.8L204.9 107.8ZM78 34.4L82.6 34.4L85.2 31.1L80.8 31.1ZM79.2 31.2L84 31.2L86.8 28L82.2 28Z"/>
<path fill="#94965e" d="M307.3 118L310.5 118L311.1 114.6L307.9 114.6ZM308.9 114.7L312 114.7L312.6 111.2L309.4 111.2ZM223 111.3L226.1 111.3L226.2 107.8L223.1 107.8ZM219.6 104.6L222.7 104.6L222.8 101.1L219.7 101.1ZM140.9 101.2L146.9 101.2L146.9 97.8L140.8 97.8ZM217.9 101.2L221 101.2L221 97.8L218 97.8ZM140.8 97.9L146.9 97.9L146.8 94.4L140.8 94.4ZM231 57.5L234.5 57.5L234 54.1L230.5 54.1ZM316.8 54.2L320.4 54.2L318.6 50.7L315.1 50.7ZM123.6 19.2L130.1 19.2L132.2 16.3L125.9 16.3ZM122.2 16.4L129.6 16.4L132 13.7L124.8 13.7ZM119.8 13.8L128.5 13.8L131.2 11.1L122.9 11.1Z"/>
<path fill="#396999" d="M199 114.7L202.1 114.7L202.2 111.2L199 111.2ZM318 114.7L321.2 114.7L321.8 111.2L318.6 111.2ZM319.4 111.3L322.5 111.3L323 107.8L319.9 107.8ZM99.1 81.1L102.2 81.1L102.5 77.6L99.4 77.6ZM75.8 40.9L84 40.9L86.1 37.5L78.1 37.5ZM97.9 37.6L102.2 37.6L104.2 34.3L100 34.3ZM74.6 31.2L79.3 31.2L82.3 28L77.7 28Z"/>
<path fill="#2a3266" d="M205.1 114.7L211.3 114.7L211.4 111.2L205.2 111.2ZM76.9 37.6L81.2 37.6L83.6 34.3L79.4 34.3Z"/>
<path fill="#646534" d="M219.9 111.3L223.1 111.3L223.2 107.8L220.1 107.8Z"/>
<path fill="#83854f" d="M146.8 97.9L149.8 97.9L149.8 94.4L146.7 94.4ZM227.6 57.5L231.1 57.5L230.6 54.1L227.1 54.1ZM228.8 54.2L232.4 54.2L231.8 50.7L228.2 50.7ZM130 19.2L136.6 19.2L138.4 16.3L132.1 16.3ZM129.5 16.4L137 16.4L139 13.7L131.9 13.7ZM125.9 11.2L136.4 11.2L138.9 8.8L128.9 8.8Z"/>
<path fill="#262600" d="M285.4 87.8L288.5 87.8L288.3 84.3L285.2 84.3ZM136.3 11.2L146.8 11.2L148.8 8.8L138.8 8.8ZM133.9 8.9L147.6 8.9L149.6 6.8L136.5 6.8Z"/>
<path fill="#36360d" d="M167.1 25.1L172.5 25.1L173 22L167.7 22ZM282.5 13.8L291.2 13.8L286.5 11.1L278.2 11.1Z"/>
</g>
<use href="#lakes" fill="#818382"/>
<use href="#land" fill="none" stroke="#2a2a2a" stroke-width="0.3" opacity="0.45"/><use href="#isl" fill="none" stroke="#2a2a2a" stroke-width="0.3" opacity="0.45"/>
<use href="#lko" fill="none" stroke="#2a2a2a" stroke-width="0.35" opacity="0.7"/>
</g>
<use href="#ol" fill="none" stroke="#3c3c3c" stroke-width="0.7"/>
</g>
<defs><linearGradient id="cbg" x1="0" y1="0" x2="0" y2="1"><stop offset="0.0000" stop-color="#2C1A4C"/><stop offset="0.0833" stop-color="#29386C"/><stop offset="0.1667" stop-color="#2B5A8D"/><stop offset="0.2500" stop-color="#4E7FAA"/><stop offset="0.3333" stop-color="#86A8C6"/><stop offset="0.4167" stop-color="#C4D5E3"/><stop offset="0.4667" stop-color="#E4EBEF"/><stop offset="0.5000" stop-color="#F1F3EE"/><stop offset="0.5333" stop-color="#ECEDD9"/><stop offset="0.5833" stop-color="#E0E2BE"/><stop offset="0.6667" stop-color="#C6C892"/><stop offset="0.7500" stop-color="#9C9E66"/><stop offset="0.8333" stop-color="#737440"/><stop offset="0.9167" stop-color="#4D4E21"/><stop offset="1.0000" stop-color="#262600"/></linearGradient></defs>
<rect x="347.1" y="12.0" width="18.4" height="168.5" fill="url(#cbg)"/>
<path d="M347.1 12.2L356.3 3.9L365.5 12.2Z" fill="#2C1A4C"/>
<path d="M347.1 180.3L356.3 188.2L365.5 180.3Z" fill="#262600"/>
<g font-size="10.4" fill="#111">
<path d="M365.5 180.5h2.2" stroke="#222" stroke-width="0.6"/><text x="369.1" y="184.3">−3</text>
<path d="M365.5 152.4h2.2" stroke="#222" stroke-width="0.6"/><text x="369.1" y="156.2">−2</text>
<path d="M365.5 124.3h2.2" stroke="#222" stroke-width="0.6"/><text x="369.1" y="128.1">−1</text>
<path d="M365.5 96.2h2.2" stroke="#222" stroke-width="0.6"/><text x="369.1" y="100.0">0</text>
<path d="M365.5 68.2h2.2" stroke="#222" stroke-width="0.6"/><text x="369.1" y="72.0">1</text>
<path d="M365.5 40.1h2.2" stroke="#222" stroke-width="0.6"/><text x="369.1" y="43.9">2</text>
<path d="M365.5 12.0h2.2" stroke="#222" stroke-width="0.6"/><text x="369.1" y="15.8">3</text>
<text x="348.6" y="197.2" font-size="10">cm</text>
</g>
<rect x="71.5" y="0.9" width="16.6" height="15.7" fill="#000"/><text x="72.7" y="12.8" font-size="13.5" fill="#fff">a)</text>
<rect x="389" y="1.5" width="16.2" height="14.6" fill="#000"/><text x="389.9" y="13" font-size="13.5" fill="#fff">b)</text>
<rect x="32.4" y="200.6" width="311.1" height="123.5" fill="#fff"/>
<path d="M59.3 200.6V324.1M113.6 200.6V324.1M167.8 200.6V324.1M222.1 200.6V324.1M276.4 200.6V324.1M330.7 200.6V324.1M32.4 311.6H343.5M32.4 287.1H343.5M32.4 262.4H343.5M32.4 237.8H343.5M32.4 213.2H343.5" stroke="#e4e4e4" stroke-width="0.6" fill="none"/>
<path d="M46 294.6L48.1 295.1L50.1 295.5L51.9 295.9L53.5 296.3L55 296.6L56.5 296.9L58 297.2L59.4 297.5L60.9 297.7L62.3 298L63.8 298.2L65.3 298.4L66.8 298.6L68.3 298.7L69.7 298.8L71.2 298.9L72.6 298.9L74.1 298.8L75.5 298.6L77.1 298.4L78.8 298.1L80.5 297.6L82.3 297.1L84.1 296.5L85.9 295.8L87.7 294.9L89.4 293.9L91.2 292.8L93 291.5L94.7 290.2L96.5 288.8L98.2 287.4L99.9 286L101.6 284.7L103.3 283.2L105.3 281.5L107.5 279.6L109.8 277.5L112.3 275.3L114.7 273.2L117.1 271.2L119.4 269.2L121.7 267.2L124.1 265.2L126.5 263L129 260.8L131.3 258.5L133.5 256.2L135.5 254L137.2 251.9L138.9 249.7L140.6 247.5L142.3 245.1L144 242.6L145.8 240.1L147.6 237.4L149.4 234.7L151.2 232L152.9 229.4L154.7 226.8L156.5 224.4L158.2 222L160 219.9L161.8 217.8L163.7 215.9L165.5 214.1L167.2 212.7L168.8 211.5L170.2 210.7L171.4 210.2L172.4 209.8L173.5 209.6L174.6 209.4L175.7 209.1L176.9 209L178.2 208.9L179.6 208.9L181.1 209.1L182.6 209.4L184.1 209.8L185.6 210.3L187.1 210.9L188.6 211.5L190 212.2L191.4 212.9L192.8 213.7L194.6 214.6L196.8 215.7L199.6 217L202.6 218.4L205.7 219.8L208.5 221.1L210.7 222.3L212.5 223.4L214.1 224.5L215.6 225.6L217.2 226.9L219 228.3L220.8 229.8L222.6 231.5L224.4 233.3L226.2 235.3L227.9 237.4L229.7 239.7L231.5 242.2L233.2 244.9L235 247.6L236.8 250.3L238.6 252.9L240.3 255.5L242.1 257.9L243.8 260.2L245.5 262.3L247.3 264.3L249.1 266.2L250.9 267.9L252.8 269.5L254.6 270.8L256.4 272L257.9 272.9L259.1 273.6L260.2 274L261.3 274.4L262.6 274.7L264.1 275.1L265.9 275.5L267.8 275.8L269.7 276.1L271.5 276.2L273.3 276.3L275.1 276.4L276.8 276.5L278.5 276.8L280.3 277.2L282 277.7L283.8 278.4L285.6 279.3L287.4 280.2L289.1 281.4L290.9 282.6L292.7 283.9L294.4 285.3L296.1 286.7L297.9 288.1L299.7 289.4L301.4 290.7L303.2 292L305 293.2L306.8 294.4L308.5 295.6L310.3 296.7L312.1 297.7L313.9 298.6L315.7 299.3L317.4 300L319.1 300.5L320.7 300.9L322.2 301.2L323.7 301.4L325 301.5L326.2 301.6L327.3 301.6L328.3 301.5L329.2 301.5" fill="none" stroke="#1a1a1a" stroke-width="1.05" stroke-linejoin="round"/>
<rect x="32.4" y="200.6" width="311.1" height="123.5" fill="none" stroke="#6a6a6a" stroke-width="0.7"/>
<path d="M59.3 324.1v2.2M113.6 324.1v2.2M167.8 324.1v2.2M222.1 324.1v2.2M276.4 324.1v2.2M330.7 324.1v2.2M32.4 311.6h-2.2M32.4 287.1h-2.2M32.4 262.4h-2.2M32.4 237.8h-2.2M32.4 213.2h-2.2" stroke="#444" stroke-width="0.6" fill="none"/>
<g font-size="11" fill="#1a1a1a">
<text x="59.3" y="336.7" text-anchor="middle">2004</text><text x="113.6" y="336.7" text-anchor="middle">2008</text><text x="167.8" y="336.7" text-anchor="middle">2012</text><text x="222.1" y="336.7" text-anchor="middle">2016</text><text x="276.4" y="336.7" text-anchor="middle">2020</text><text x="330.7" y="336.7" text-anchor="middle">2024</text><text x="28.2" y="315.6" text-anchor="end">−4</text><text x="28.2" y="291.1" text-anchor="end">−2</text><text x="28.2" y="266.4" text-anchor="end">0</text><text x="28.2" y="241.8" text-anchor="end">2</text><text x="28.2" y="217.2" text-anchor="end">4</text>
</g>
<text transform="translate(8.2,264) rotate(-90)" font-size="8.8" text-anchor="middle" fill="#1a1a1a">Amplitude</text>
<rect x="34.1" y="201.8" width="15.9" height="16.4" fill="#000"/><text x="35.7" y="214.6" font-size="13.5" fill="#fff">c)</text>
<rect x="348.5" y="198.4" width="297.7" height="127.1" fill="#fff"/>
<path d="M375.6 198.4V325.5M427.2 198.4V325.5M478.8 198.4V325.5M530.4 198.4V325.5M582.0 198.4V325.5M633.6 198.4V325.5M348.5 312.9H646.2M348.5 287.4H646.2M348.5 262.0H646.2M348.5 236.6H646.2M348.5 211.1H646.2" stroke="#e4e4e4" stroke-width="0.6" fill="none"/>
<path d="M368.5 224.4L370.4 232.6L372 237.4L374.4 238.5L376.8 239.7L378.4 243.2L380.3 247.9L382.6 248.6L385 245.6L388 239.7L389.7 240.9L392 246.8L394.4 245.6L396 244.4L398 250.3L400.3 256.2L402.6 256.8L404.3 255.7L406.6 249.8L408.5 252L410.9 257.8L413.7 257L415.6 255.7L417.2 252.7L419.1 259.8L421.5 265L423.8 270.3L425.5 275.5L427.4 285.3L429.2 293L431.6 293.5L434.4 297L437.5 301L439.1 299.4L441.5 292.4L443.8 282.9L446.6 272L448.7 262L450.2 255L452 249.8L454 252L456 263L458 266.5L460.3 275.9L462.6 285.3L465 290L467.4 295.9L469.7 299.4L472 304.1L475.6 306.5L478 308.8L480.3 307.6L482.2 308.8L483.8 302.9L485.7 297L488.5 294.7L490.9 288.8L493.2 284.1L495.6 279.4L498.4 280.6L500.8 276L502.6 267L505 258L506.8 246.8L509.1 235L511.5 220.9L513.4 211.9L515 210.3L516.6 211.5L518.5 205.6L520.4 203.9L522 206.8L523.7 212.6L525.6 216.2L527.9 212.6L529.8 210.3L531.5 212.6L533.8 219.7L535.5 222L537.4 220.9L539.7 227.9L542 236.2L544.4 240.9L546.8 242L548.6 245.6L551 246.8L553.4 252.6L555.7 257.4L558.5 256.6L562 256.6L565.1 258.5L567.9 253.8L570.3 249.1L572.6 246.8L575 247.2L576.2 246.3L577.6 251L579.7 258L582 265.3L584.4 273.5L586.8 279.4L588.4 282.9L590.3 280.6L592.6 282.9L595 288.8L597.4 291.2L599.7 300.6L602 307.6L604.4 312.4L607.5 313.5L609.1 317L610.3 319.9L612 315.9L613.8 311.6L616.2 307.6L618.5 310.7L620.9 313L623.2 314L625.1 317.5L627.9 315.9" fill="none" stroke="#b3dab0" stroke-width="1.6" stroke-linejoin="round" stroke-linecap="round"/>
<path d="M361.9 232.2L363.3 232.1L364.7 232.1L366.1 232.1L367.4 232.2L368.8 232.5L370.2 232.9L371.6 233.6L373.2 234.5L374.9 235.7L376.7 237.2L378.5 238.9L380.3 240.9L382.1 243.1L383.9 245.4L385.6 247.8L387.4 250.2L389.1 252.6L390.9 254.9L392.6 257.2L394.4 259.5L396.2 261.8L398 264L399.7 266.1L401.5 268.2L403.3 270.2L405 272L406.7 273.7L408.5 275.2L410.3 276.5L412.1 277.7L413.8 278.7L415.6 279.4L417.4 279.9L419.1 280.3L420.8 280.5L422.6 280.6L424.4 280.6L426.2 280.5L427.9 280.3L429.7 280.1L431.4 279.8L433.2 279.5L435 279.2L436.8 278.9L438.7 278.7L440.5 278.6L442.3 278.5L443.8 278.5L445 278.5L446.1 278.6L447.2 278.9L448.5 279.4L450.1 280.1L451.8 281.1L453.7 282.2L455.6 283.4L457.4 284.6L459.1 285.8L460.9 287L462.6 288.1L464.4 289.2L466.2 290.2L468 291.1L469.7 291.9L471.3 292.6L472.8 293.1L474.3 293.5L475.6 293.8L476.8 294L478 294.1L479.2 294.1L480.3 294L481.5 293.8L482.6 293.5L483.8 293.1L485 292.4L486.2 291.5L487.4 290.3L488.5 289L489.7 287.6L490.8 286.1L492 284.5L493.2 282.6L494.4 280.6L495.7 278.3L496.9 275.9L498.1 273.4L499.1 271.2L499.9 269.2L500.5 267.4L501.2 265.4L502 263.2L503 260.6L504.2 257.6L505.5 254.5L506.8 251.5L508 248.6L509.2 246L510.4 243.4L511.5 240.9L512.7 238.4L513.8 236L515 233.7L516.2 231.5L517.4 229.5L518.6 227.6L519.7 225.9L520.9 224.4L522.1 223L523.3 221.8L524.4 220.7L525.6 219.9L526.8 219.3L527.9 218.8L529.1 218.5L530.3 218.3L531.5 218.2L532.7 218.2L533.9 218.3L535 218.5L536.1 218.8L537.3 219.2L538.4 219.7L539.7 220.4L541.1 221.2L542.6 222.2L544.1 223.2L545.6 224.2L547.1 225.1L548.5 226L550 226.8L551.5 227.5L553 228.1L554.6 228.7L556.1 229.1L557.4 229.4L558.6 229.5L559.7 229.4L560.8 229.2L562 228.9L563.4 228.5L564.9 227.9L566.4 227.4L567.9 226.8L569.2 226.3L570.5 225.8L571.6 225.4L572.6 225.1L573.6 224.9L574.5 224.9L575.3 224.9L576.2 225.1L577.1 225.4L577.9 225.7L578.8 226.2L579.7 226.8L580.6 227.5L581.4 228.3L582.3 229.2L583.2 230.3L584.1 231.5L585 232.9L585.9 234.5L586.8 236.2L587.7 238.1L588.6 240.1L589.4 242.2L590.3 244.4L591.2 246.7L592 249.1L592.9 251.4L593.8 253.8L594.7 256.1L595.6 258.5L596.5 260.8L597.4 263.2L598.2 265.7L599.1 268.2L599.9 270.8L600.9 273.5L602 276.2L603.2 278.9L604.4 281.5L605.6 284.1L606.8 286.6L608 289L609.1 291.3L610.3 293.5L611.5 295.5L612.6 297.4L613.8 299.1L615 300.6L616.2 301.9L617.4 303L618.5 303.9L619.7 304.6L620.9 305.2L622 305.7L623.2 306L624.4 306.2L625.6 306.3L626.8 306.2L628 306L629.1 305.8L630.1 305.5L631.1 305.3L631.9 305L632.6 304.8" fill="none" stroke="#1a1a1a" stroke-width="1.05" stroke-linejoin="round"/>
<path d="M348.5 325.5V198.4" stroke="#6a6a6a" stroke-width="0.7" fill="none"/><path d="M348.5 325.5H646.2" stroke="#8a8a8a" stroke-width="0.7" fill="none"/><path d="M348.2 198.4H646.5" stroke="#3c3c3c" stroke-width="0.9" fill="none"/><path d="M646.2 198.4V325.5" stroke="#a5cfa1" stroke-width="1" fill="none"/>
<path d="M375.6 325.5v2.2M427.2 325.5v2.2M478.8 325.5v2.2M530.4 325.5v2.2M582.0 325.5v2.2M633.6 325.5v2.2M348.5 312.9h-2.2M348.5 287.4h-2.2M348.5 262.0h-2.2M348.5 236.6h-2.2M348.5 211.1h-2.2" stroke="#444" stroke-width="0.6" fill="none"/>
<path d="M646.2 321.2h2.4M646.2 283.0h2.4M646.2 244.7h2.4M646.2 206.4h2.4" stroke="#2e7d22" stroke-width="0.7" fill="none"/>
<g font-size="10.6" fill="#1a1a1a">
<text x="375.6" y="337.6" text-anchor="middle">2004</text><text x="427.2" y="337.6" text-anchor="middle">2008</text><text x="478.8" y="337.6" text-anchor="middle">2012</text><text x="530.4" y="337.6" text-anchor="middle">2016</text><text x="582.0" y="337.6" text-anchor="middle">2020</text><text x="633.6" y="337.6" text-anchor="middle">2024</text>
</g>
<g font-size="10.5" fill="#2e7d22">
<text x="650.2" y="325.0">−2</text><text x="650.2" y="286.8">−1</text><text x="650.2" y="248.5">0</text><text x="650.2" y="210.2">1</text>
</g>
<text transform="translate(668.3,261.3) rotate(90)" font-size="8.9" text-anchor="middle" fill="#2e7d22">PDO</text>
<rect x="350.8" y="199.7" width="16.2" height="16.8" fill="#000"/><text x="352.1" y="212.6" font-size="13.5" fill="#fff">d)</text>
</svg></body></html>
